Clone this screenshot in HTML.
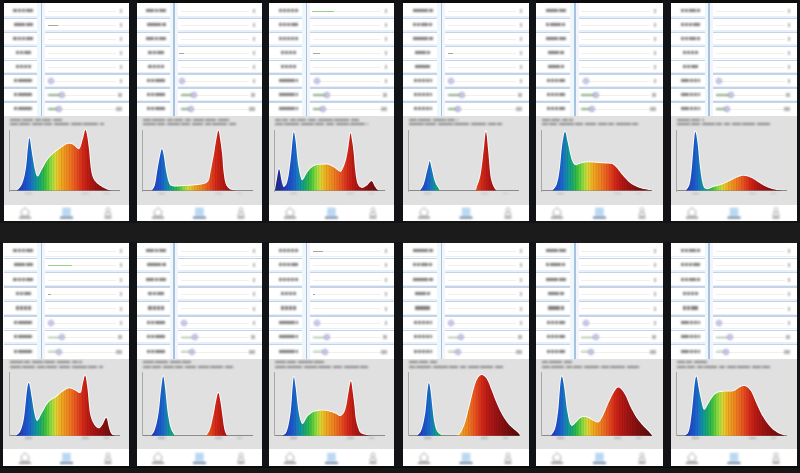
<!DOCTYPE html>
<html><head><meta charset="utf-8"><title>spectra</title>
<style>
html,body{margin:0;padding:0;}
body{width:800px;height:473px;overflow:hidden;background:#1b1b1b;position:relative;font-family:"Liberation Sans",sans-serif;}
div{position:absolute;}
svg{position:absolute;left:0;top:0;}
#wrap{left:0;top:0;width:800px;height:473px;}
.p{background:#fff;overflow:hidden;}
.lb{filter:blur(0.8px);}
</style></head><body><div id="wrap">

<div style="left:0.00px;top:0.00px;width:800.00px;height:3.00px;background:#0c0c0c;"></div>
<div style="left:0.00px;top:466.00px;width:800.00px;height:7.00px;background:#161616;"></div>
<div style="left:0.00px;top:466.00px;width:800.00px;height:1.50px;background:#0b0b0b;"></div>
<div style="left:0.00px;top:221.00px;width:800.00px;height:1.50px;background:#121212;"></div>
<div style="left:129.00px;top:0.00px;width:8.00px;height:221.00px;background:#111317;"></div>
<div style="left:129.00px;top:242.00px;width:8.00px;height:225.00px;background:#111317;"></div>
<div style="left:262.00px;top:0.00px;width:7.00px;height:221.00px;background:#111317;"></div>
<div style="left:262.00px;top:242.00px;width:7.00px;height:225.00px;background:#111317;"></div>
<div style="left:394.00px;top:0.00px;width:9.00px;height:221.00px;background:#111317;"></div>
<div style="left:394.00px;top:242.00px;width:9.00px;height:225.00px;background:#111317;"></div>
<div style="left:529.00px;top:0.00px;width:7.00px;height:221.00px;background:#111317;"></div>
<div style="left:529.00px;top:242.00px;width:7.00px;height:225.00px;background:#111317;"></div>
<div style="left:663.00px;top:0.00px;width:8.00px;height:221.00px;background:#111317;"></div>
<div style="left:663.00px;top:242.00px;width:8.00px;height:225.00px;background:#111317;"></div>
<div style="left:0.00px;top:0.00px;width:4.00px;height:221.00px;background:#111317;"></div>
<div style="left:0.00px;top:242.00px;width:3.00px;height:225.00px;background:#111317;"></div>
<div style="left:797.00px;top:0.00px;width:3.00px;height:221.00px;background:#111317;"></div>
<div style="left:797.00px;top:242.00px;width:3.00px;height:225.00px;background:#111317;"></div>
<div style="left:3.00px;top:242.50px;width:1.00px;height:116.00px;background:#ffffff;"></div>
<div style="left:3.00px;top:358.50px;width:1.00px;height:90.50px;background:#e0e0e0;"></div>
<div style="left:3.00px;top:449.00px;width:1.00px;height:17.00px;background:#ffffff;"></div>
<div class="p" style="left:4px;top:3.0px;width:125px;height:218.0px;">
<div class="lb"><div style="left:9.45px;top:6.18px;width:3.50px;height:3.20px;background:#7e7e7e;"></div><div style="left:13.55px;top:6.18px;width:3.50px;height:3.20px;background:#7e7e7e;"></div><div style="left:17.65px;top:6.18px;width:3.50px;height:3.20px;background:#7e7e7e;"></div><div style="left:21.75px;top:6.18px;width:3.00px;height:3.20px;background:#7e7e7e;"></div><div style="left:25.35px;top:6.18px;width:3.50px;height:3.20px;background:#7e7e7e;"></div></div>
<div style="left:43.80px;top:8.07px;width:68.70px;height:0.80px;background:#f3f0e8;"></div>
<div class="lb"><div style="left:116.00px;top:6.38px;width:2.00px;height:4.00px;background:#b4b4b4;"></div></div>
<div style="left:0.00px;top:13.05px;width:125.00px;height:1.60px;background:#e6f0fa;"></div>
<div style="left:0.00px;top:14.65px;width:125.00px;height:1.60px;background:#c4d4e6;"></div>
<div class="lb"><div style="left:9.70px;top:20.12px;width:3.00px;height:3.20px;background:#7e7e7e;"></div><div style="left:13.30px;top:20.12px;width:3.50px;height:3.20px;background:#7e7e7e;"></div><div style="left:17.40px;top:20.12px;width:3.50px;height:3.20px;background:#7e7e7e;"></div><div style="left:21.50px;top:20.12px;width:3.00px;height:3.20px;background:#7e7e7e;"></div><div style="left:25.10px;top:20.12px;width:3.50px;height:3.20px;background:#7e7e7e;"></div></div>
<div style="left:43.80px;top:22.02px;width:68.70px;height:0.80px;background:#f3f0e8;"></div>
<div class="lb"><div style="left:116.00px;top:20.32px;width:2.00px;height:4.00px;background:#b4b4b4;"></div></div>
<div style="left:0.00px;top:27.00px;width:125.00px;height:1.60px;background:#e6f0fa;"></div>
<div style="left:0.00px;top:28.60px;width:125.00px;height:1.60px;background:#c4d4e6;"></div>
<div class="lb"><div style="left:9.45px;top:34.07px;width:3.50px;height:3.20px;background:#7e7e7e;"></div><div style="left:13.55px;top:34.07px;width:3.50px;height:3.20px;background:#7e7e7e;"></div><div style="left:17.65px;top:34.07px;width:3.50px;height:3.20px;background:#7e7e7e;"></div><div style="left:21.75px;top:34.07px;width:3.00px;height:3.20px;background:#7e7e7e;"></div><div style="left:25.35px;top:34.07px;width:3.50px;height:3.20px;background:#7e7e7e;"></div></div>
<div style="left:43.80px;top:35.98px;width:68.70px;height:0.80px;background:#f3f0e8;"></div>
<div class="lb"><div style="left:116.00px;top:34.27px;width:2.00px;height:4.00px;background:#b4b4b4;"></div></div>
<div style="left:0.00px;top:40.95px;width:125.00px;height:1.60px;background:#e6f0fa;"></div>
<div style="left:0.00px;top:42.55px;width:125.00px;height:1.60px;background:#c4d4e6;"></div>
<div class="lb"><div style="left:11.50px;top:48.02px;width:3.50px;height:3.20px;background:#7e7e7e;"></div><div style="left:15.60px;top:48.02px;width:3.50px;height:3.20px;background:#7e7e7e;"></div><div style="left:19.70px;top:48.02px;width:3.00px;height:3.20px;background:#7e7e7e;"></div><div style="left:23.30px;top:48.02px;width:3.50px;height:3.20px;background:#7e7e7e;"></div></div>
<div style="left:43.80px;top:49.92px;width:68.70px;height:0.80px;background:#f3f0e8;"></div>
<div class="lb"><div style="left:116.00px;top:48.22px;width:2.00px;height:4.00px;background:#b4b4b4;"></div></div>
<div style="left:0.00px;top:54.90px;width:125.00px;height:1.60px;background:#e6f0fa;"></div>
<div style="left:0.00px;top:56.50px;width:125.00px;height:1.60px;background:#c4d4e6;"></div>
<div class="lb"><div style="left:11.50px;top:61.97px;width:3.50px;height:3.20px;background:#7e7e7e;"></div><div style="left:15.60px;top:61.97px;width:3.50px;height:3.20px;background:#7e7e7e;"></div><div style="left:19.70px;top:61.97px;width:3.50px;height:3.20px;background:#7e7e7e;"></div><div style="left:23.80px;top:61.97px;width:3.00px;height:3.20px;background:#7e7e7e;"></div></div>
<div style="left:43.80px;top:63.88px;width:68.70px;height:0.80px;background:#f3f0e8;"></div>
<div class="lb"><div style="left:116.00px;top:62.17px;width:2.00px;height:4.00px;background:#b4b4b4;"></div></div>
<div style="left:0.00px;top:68.85px;width:125.00px;height:1.60px;background:#e6f0fa;"></div>
<div style="left:0.00px;top:70.45px;width:125.00px;height:1.60px;background:#c4d4e6;"></div>
<div class="lb"><div style="left:9.95px;top:75.93px;width:3.50px;height:3.20px;background:#7e7e7e;"></div><div style="left:14.05px;top:75.93px;width:3.50px;height:3.20px;background:#7e7e7e;"></div><div style="left:18.15px;top:75.93px;width:3.50px;height:3.20px;background:#7e7e7e;"></div><div style="left:22.25px;top:75.93px;width:3.50px;height:3.20px;background:#7e7e7e;"></div><div style="left:26.35px;top:75.93px;width:2.00px;height:3.20px;background:#7e7e7e;"></div></div>
<div style="left:43.80px;top:77.83px;width:68.70px;height:0.80px;background:#f3f0e8;"></div>
<div class="lb"><div style="left:116.00px;top:76.12px;width:2.00px;height:4.00px;background:#b4b4b4;"></div></div>
<div style="left:0.00px;top:82.80px;width:125.00px;height:1.60px;background:#e6f0fa;"></div>
<div style="left:0.00px;top:84.40px;width:125.00px;height:1.60px;background:#c4d4e6;"></div>
<div class="lb"><div style="left:9.95px;top:89.88px;width:3.50px;height:3.20px;background:#7e7e7e;"></div><div style="left:14.05px;top:89.88px;width:3.50px;height:3.20px;background:#7e7e7e;"></div><div style="left:18.15px;top:89.88px;width:3.50px;height:3.20px;background:#7e7e7e;"></div><div style="left:22.25px;top:89.88px;width:3.50px;height:3.20px;background:#7e7e7e;"></div><div style="left:26.35px;top:89.88px;width:2.00px;height:3.20px;background:#7e7e7e;"></div></div>
<div style="left:43.80px;top:91.77px;width:68.70px;height:0.80px;background:#f3f0e8;"></div>
<div class="lb"><div style="left:114.00px;top:90.07px;width:4.00px;height:4.00px;background:#b4b4b4;"></div></div>
<div style="left:0.00px;top:96.75px;width:125.00px;height:1.60px;background:#e6f0fa;"></div>
<div style="left:0.00px;top:98.35px;width:125.00px;height:1.60px;background:#c4d4e6;"></div>
<div class="lb"><div style="left:9.95px;top:103.83px;width:3.50px;height:3.20px;background:#7e7e7e;"></div><div style="left:14.05px;top:103.83px;width:3.50px;height:3.20px;background:#7e7e7e;"></div><div style="left:18.15px;top:103.83px;width:3.50px;height:3.20px;background:#7e7e7e;"></div><div style="left:22.25px;top:103.83px;width:3.50px;height:3.20px;background:#7e7e7e;"></div><div style="left:26.35px;top:103.83px;width:2.00px;height:3.20px;background:#7e7e7e;"></div></div>
<div style="left:43.80px;top:105.72px;width:68.70px;height:0.80px;background:#f3f0e8;"></div>
<div class="lb"><div style="left:112.00px;top:104.02px;width:6.00px;height:4.00px;background:#b4b4b4;"></div></div>
<div style="left:44.00px;top:21.82px;width:10.00px;height:1.20px;background:#aca494;"></div>
<div class="lb"><div style="left:43.5px;top:75.0px;width:4.2px;height:4.2px;border-radius:50%;background:#d6d4f2;border:1px solid #9696cc;"></div></div>
<div class="lb"><div style="left:43.80px;top:91.47px;width:14.20px;height:1.30px;background:#8aac86;"></div></div>
<div class="lb"><div style="left:54.9px;top:89.0px;width:4.2px;height:4.2px;border-radius:50%;background:#d2d2ea;border:1px solid #9696cc;"></div></div>
<div class="lb"><div style="left:43.80px;top:105.42px;width:11.20px;height:1.30px;background:#8aac86;"></div></div>
<div class="lb"><div style="left:51.9px;top:102.9px;width:4.2px;height:4.2px;border-radius:50%;background:#d0d0e6;border:1px solid #9696cc;"></div></div>
<div style="left:32.80px;top:0.00px;width:3.75px;height:112.60px;background:#eef8fc;"></div>
<div style="left:38.05px;top:0.00px;width:3.00px;height:112.60px;background:#f4f4fc;"></div>
<div style="left:36.55px;top:0.00px;width:1.50px;height:112.60px;background:#a8c2dc;"></div>
<div style="left:0.00px;top:112.60px;width:125.00px;height:89.00px;background:#e0e0e0;"></div>
<div class="lb"><div style="left:5.50px;top:115.80px;width:11.00px;height:2.40px;background:#888888;"></div><div style="left:18.10px;top:115.80px;width:11.00px;height:2.40px;background:#888888;"></div><div style="left:30.70px;top:115.80px;width:6.00px;height:2.40px;background:#888888;"></div><div style="left:38.30px;top:115.80px;width:9.00px;height:2.40px;background:#888888;"></div><div style="left:48.90px;top:115.80px;width:9.10px;height:2.40px;background:#888888;"></div><div style="left:5.50px;top:119.60px;width:8.00px;height:2.40px;background:#888888;"></div><div style="left:15.10px;top:119.60px;width:11.00px;height:2.40px;background:#888888;"></div><div style="left:27.70px;top:119.60px;width:11.00px;height:2.40px;background:#888888;"></div><div style="left:40.30px;top:119.60px;width:8.00px;height:2.40px;background:#888888;"></div><div style="left:49.90px;top:119.60px;width:15.00px;height:2.40px;background:#888888;"></div><div style="left:66.50px;top:119.60px;width:11.00px;height:2.40px;background:#888888;"></div><div style="left:79.10px;top:119.60px;width:15.00px;height:2.40px;background:#888888;"></div><div style="left:95.70px;top:119.60px;width:4.00px;height:2.40px;background:#888888;"></div></div>
<div class="lb"><div style="left:21.00px;top:189.60px;width:7.00px;height:1.80px;background:#b0b0b0;"></div><div style="left:78.00px;top:189.60px;width:7.00px;height:1.80px;background:#b8b8b8;"></div><div style="left:100.00px;top:189.60px;width:5.00px;height:1.80px;background:#c0c0c0;"></div></div>
<div style="left:4.50px;top:187.60px;width:1.50px;height:0.60px;background:#b0b0b0;"></div>
<div style="left:4.50px;top:177.10px;width:1.50px;height:0.60px;background:#b0b0b0;"></div>
<div style="left:4.50px;top:166.60px;width:1.50px;height:0.60px;background:#b0b0b0;"></div>
<div style="left:4.50px;top:156.10px;width:1.50px;height:0.60px;background:#b0b0b0;"></div>
<div style="left:4.50px;top:145.60px;width:1.50px;height:0.60px;background:#b0b0b0;"></div>
<div style="left:4.50px;top:135.10px;width:1.50px;height:0.60px;background:#b0b0b0;"></div>
<div style="left:5.40px;top:127.00px;width:0.90px;height:60.60px;background:#a8a8a8;"></div>
<div style="left:6.00px;top:187.40px;width:110.00px;height:0.90px;background:#8a8a8a;"></div>
<svg width="125" height="218" viewBox="0 0 125 218"><defs><linearGradient id="g00" gradientUnits="userSpaceOnUse" x1="6" y1="0" x2="116" y2="0"><stop offset="0.0000" stop-color="#1e2a80"/><stop offset="0.0636" stop-color="#2234a8"/><stop offset="0.1091" stop-color="#2244c0"/><stop offset="0.1500" stop-color="#1c56cc"/><stop offset="0.1782" stop-color="#1a66cc"/><stop offset="0.2068" stop-color="#1a7ebc"/><stop offset="0.2409" stop-color="#0f9a98"/><stop offset="0.2727" stop-color="#1aa874"/><stop offset="0.3182" stop-color="#38c040"/><stop offset="0.3636" stop-color="#80d840"/><stop offset="0.3909" stop-color="#b0e040"/><stop offset="0.4227" stop-color="#e8d030"/><stop offset="0.4682" stop-color="#f0a820"/><stop offset="0.5364" stop-color="#f08020"/><stop offset="0.6045" stop-color="#e85020"/><stop offset="0.6636" stop-color="#d42818"/><stop offset="0.7182" stop-color="#b81a14"/><stop offset="0.7818" stop-color="#a01414"/><stop offset="0.8545" stop-color="#861010"/><stop offset="0.9273" stop-color="#6e0e0e"/><stop offset="1.0000" stop-color="#560a0a"/></linearGradient><clipPath id="cg00"><rect x="0" y="0" width="125" height="186.60"/></clipPath><pattern id="stg00" width="2.6" height="20" patternUnits="userSpaceOnUse"><rect x="0" y="0" width="0.9" height="20" fill="#000" fill-opacity="0.10"/></pattern></defs><path d="M12.90 187.60 L12.90 187.60 L13.48 186.96 L14.30 186.16 L15.27 185.17 L16.29 183.98 L17.26 182.56 L18.10 180.90 L18.82 178.99 L19.50 176.84 L20.14 174.47 L20.73 171.88 L21.29 169.09 L21.80 166.10 L22.26 162.67 L22.67 158.76 L23.04 154.63 L23.37 150.59 L23.69 146.92 L24.00 143.90 L24.28 141.39 L24.53 139.13 L24.75 137.23 L24.97 135.83 L25.22 135.04 L25.50 135.00 L25.82 135.88 L26.15 137.62 L26.51 139.98 L26.88 142.71 L27.28 145.57 L27.70 148.30 L28.15 151.13 L28.64 154.29 L29.16 157.57 L29.68 160.77 L30.20 163.68 L30.70 166.10 L31.17 168.11 L31.61 169.89 L32.06 171.38 L32.52 172.51 L33.03 173.24 L33.60 173.50 L34.25 173.14 L34.96 172.19 L35.71 170.82 L36.50 169.23 L37.30 167.59 L38.10 166.10 L38.91 164.67 L39.75 163.13 L40.61 161.56 L41.47 160.00 L42.34 158.53 L43.20 157.20 L44.04 156.03 L44.87 154.99 L45.70 154.02 L46.55 153.10 L47.45 152.21 L48.40 151.30 L49.41 150.39 L50.47 149.51 L51.57 148.65 L52.71 147.80 L53.88 146.95 L55.10 146.10 L56.39 145.18 L57.78 144.18 L59.20 143.18 L60.61 142.27 L61.96 141.51 L63.20 141.00 L64.31 140.74 L65.33 140.67 L66.28 140.76 L67.21 140.98 L68.14 141.30 L69.10 141.70 L70.12 142.39 L71.18 143.43 L72.24 144.57 L73.27 145.56 L74.23 146.16 L75.10 146.10 L75.86 145.26 L76.53 143.80 L77.14 141.94 L77.71 139.89 L78.26 137.88 L78.80 136.10 L79.33 134.24 L79.82 132.07 L80.29 129.92 L80.76 128.15 L81.22 127.10 L81.70 127.10 L82.20 128.34 L82.72 130.59 L83.24 133.55 L83.76 136.94 L84.25 140.49 L84.70 143.90 L85.10 147.42 L85.46 151.34 L85.80 155.40 L86.14 159.37 L86.50 163.02 L86.90 166.10 L87.32 168.57 L87.73 170.61 L88.17 172.32 L88.66 173.80 L89.22 175.16 L89.90 176.50 L90.68 177.76 L91.54 178.85 L92.48 179.82 L93.50 180.70 L94.61 181.55 L95.80 182.40 L97.11 183.28 L98.54 184.14 L100.06 184.97 L101.62 185.73 L103.18 186.39 L104.70 186.90 L106.29 187.24 L108.00 187.44 L109.71 187.53 L111.29 187.56 L112.63 187.57 L113.60 187.60 L113.60 187.60 Z" fill="none" stroke="#ffffff" stroke-opacity="0.95" stroke-width="1.80" clip-path="url(#cg00)"/><path d="M12.90 187.60 L12.90 187.60 L13.48 186.96 L14.30 186.16 L15.27 185.17 L16.29 183.98 L17.26 182.56 L18.10 180.90 L18.82 178.99 L19.50 176.84 L20.14 174.47 L20.73 171.88 L21.29 169.09 L21.80 166.10 L22.26 162.67 L22.67 158.76 L23.04 154.63 L23.37 150.59 L23.69 146.92 L24.00 143.90 L24.28 141.39 L24.53 139.13 L24.75 137.23 L24.97 135.83 L25.22 135.04 L25.50 135.00 L25.82 135.88 L26.15 137.62 L26.51 139.98 L26.88 142.71 L27.28 145.57 L27.70 148.30 L28.15 151.13 L28.64 154.29 L29.16 157.57 L29.68 160.77 L30.20 163.68 L30.70 166.10 L31.17 168.11 L31.61 169.89 L32.06 171.38 L32.52 172.51 L33.03 173.24 L33.60 173.50 L34.25 173.14 L34.96 172.19 L35.71 170.82 L36.50 169.23 L37.30 167.59 L38.10 166.10 L38.91 164.67 L39.75 163.13 L40.61 161.56 L41.47 160.00 L42.34 158.53 L43.20 157.20 L44.04 156.03 L44.87 154.99 L45.70 154.02 L46.55 153.10 L47.45 152.21 L48.40 151.30 L49.41 150.39 L50.47 149.51 L51.57 148.65 L52.71 147.80 L53.88 146.95 L55.10 146.10 L56.39 145.18 L57.78 144.18 L59.20 143.18 L60.61 142.27 L61.96 141.51 L63.20 141.00 L64.31 140.74 L65.33 140.67 L66.28 140.76 L67.21 140.98 L68.14 141.30 L69.10 141.70 L70.12 142.39 L71.18 143.43 L72.24 144.57 L73.27 145.56 L74.23 146.16 L75.10 146.10 L75.86 145.26 L76.53 143.80 L77.14 141.94 L77.71 139.89 L78.26 137.88 L78.80 136.10 L79.33 134.24 L79.82 132.07 L80.29 129.92 L80.76 128.15 L81.22 127.10 L81.70 127.10 L82.20 128.34 L82.72 130.59 L83.24 133.55 L83.76 136.94 L84.25 140.49 L84.70 143.90 L85.10 147.42 L85.46 151.34 L85.80 155.40 L86.14 159.37 L86.50 163.02 L86.90 166.10 L87.32 168.57 L87.73 170.61 L88.17 172.32 L88.66 173.80 L89.22 175.16 L89.90 176.50 L90.68 177.76 L91.54 178.85 L92.48 179.82 L93.50 180.70 L94.61 181.55 L95.80 182.40 L97.11 183.28 L98.54 184.14 L100.06 184.97 L101.62 185.73 L103.18 186.39 L104.70 186.90 L106.29 187.24 L108.00 187.44 L109.71 187.53 L111.29 187.56 L112.63 187.57 L113.60 187.60 L113.60 187.60 Z" fill="url(#g00)"/><path d="M12.90 187.60 L12.90 187.60 L13.48 186.96 L14.30 186.16 L15.27 185.17 L16.29 183.98 L17.26 182.56 L18.10 180.90 L18.82 178.99 L19.50 176.84 L20.14 174.47 L20.73 171.88 L21.29 169.09 L21.80 166.10 L22.26 162.67 L22.67 158.76 L23.04 154.63 L23.37 150.59 L23.69 146.92 L24.00 143.90 L24.28 141.39 L24.53 139.13 L24.75 137.23 L24.97 135.83 L25.22 135.04 L25.50 135.00 L25.82 135.88 L26.15 137.62 L26.51 139.98 L26.88 142.71 L27.28 145.57 L27.70 148.30 L28.15 151.13 L28.64 154.29 L29.16 157.57 L29.68 160.77 L30.20 163.68 L30.70 166.10 L31.17 168.11 L31.61 169.89 L32.06 171.38 L32.52 172.51 L33.03 173.24 L33.60 173.50 L34.25 173.14 L34.96 172.19 L35.71 170.82 L36.50 169.23 L37.30 167.59 L38.10 166.10 L38.91 164.67 L39.75 163.13 L40.61 161.56 L41.47 160.00 L42.34 158.53 L43.20 157.20 L44.04 156.03 L44.87 154.99 L45.70 154.02 L46.55 153.10 L47.45 152.21 L48.40 151.30 L49.41 150.39 L50.47 149.51 L51.57 148.65 L52.71 147.80 L53.88 146.95 L55.10 146.10 L56.39 145.18 L57.78 144.18 L59.20 143.18 L60.61 142.27 L61.96 141.51 L63.20 141.00 L64.31 140.74 L65.33 140.67 L66.28 140.76 L67.21 140.98 L68.14 141.30 L69.10 141.70 L70.12 142.39 L71.18 143.43 L72.24 144.57 L73.27 145.56 L74.23 146.16 L75.10 146.10 L75.86 145.26 L76.53 143.80 L77.14 141.94 L77.71 139.89 L78.26 137.88 L78.80 136.10 L79.33 134.24 L79.82 132.07 L80.29 129.92 L80.76 128.15 L81.22 127.10 L81.70 127.10 L82.20 128.34 L82.72 130.59 L83.24 133.55 L83.76 136.94 L84.25 140.49 L84.70 143.90 L85.10 147.42 L85.46 151.34 L85.80 155.40 L86.14 159.37 L86.50 163.02 L86.90 166.10 L87.32 168.57 L87.73 170.61 L88.17 172.32 L88.66 173.80 L89.22 175.16 L89.90 176.50 L90.68 177.76 L91.54 178.85 L92.48 179.82 L93.50 180.70 L94.61 181.55 L95.80 182.40 L97.11 183.28 L98.54 184.14 L100.06 184.97 L101.62 185.73 L103.18 186.39 L104.70 186.90 L106.29 187.24 L108.00 187.44 L109.71 187.53 L111.29 187.56 L112.63 187.57 L113.60 187.60 L113.60 187.60 Z" fill="url(#stg00)"/></svg>
<div class="lb" style="left:0;top:0;width:125px;height:218px"><svg width="125" height="218" viewBox="0 0 125 218"><path d="M17.0 208.3 L21.0 204.6 L25.0 208.3 L24.2 212.8 L17.8 212.8 Z" fill="none" stroke="#a4a4a4" stroke-width="1"/><rect x="15.0" y="213.7" width="12" height="1.8" fill="#8e8e8e"/><rect x="58.2" y="204.8" width="8.5" height="8" fill="#d2e6f8"/><rect x="58.2" y="205.3" width="8.5" height="1" fill="#8cbce6"/><rect x="58.2" y="208.3" width="8.5" height="1" fill="#8cbce6"/><rect x="58.2" y="211.3" width="8.5" height="1" fill="#8cbce6"/><rect x="56.0" y="213.7" width="13" height="1.8" fill="#5a7496"/><circle cx="104.0" cy="206.8" r="2" fill="none" stroke="#b0b0b0" stroke-width="1"/><path d="M101.0 212.8 L101.5 209.8 L106.5 209.8 L107.0 212.8 Z" fill="none" stroke="#b0b0b0" stroke-width="1"/><rect x="100.5" y="213.7" width="7" height="1.8" fill="#9a9a9a"/></svg></div>
</div>
<div class="p" style="left:137px;top:3.0px;width:125px;height:218.0px;">
<div class="lb"><div style="left:9.35px;top:6.18px;width:3.50px;height:3.20px;background:#7e7e7e;"></div><div style="left:13.45px;top:6.18px;width:3.50px;height:3.20px;background:#7e7e7e;"></div><div style="left:17.55px;top:6.18px;width:3.50px;height:3.20px;background:#7e7e7e;"></div><div style="left:21.65px;top:6.18px;width:3.00px;height:3.20px;background:#7e7e7e;"></div><div style="left:25.25px;top:6.18px;width:3.50px;height:3.20px;background:#7e7e7e;"></div></div>
<div style="left:43.60px;top:8.07px;width:68.90px;height:0.80px;background:#f3f0e8;"></div>
<div class="lb"><div style="left:116.00px;top:6.38px;width:2.00px;height:4.00px;background:#b4b4b4;"></div></div>
<div style="left:0.00px;top:13.05px;width:125.00px;height:1.60px;background:#e6f0fa;"></div>
<div style="left:0.00px;top:14.65px;width:125.00px;height:1.60px;background:#c4d4e6;"></div>
<div class="lb"><div style="left:9.60px;top:20.12px;width:3.00px;height:3.20px;background:#7e7e7e;"></div><div style="left:13.20px;top:20.12px;width:3.50px;height:3.20px;background:#7e7e7e;"></div><div style="left:17.30px;top:20.12px;width:3.50px;height:3.20px;background:#7e7e7e;"></div><div style="left:21.40px;top:20.12px;width:3.00px;height:3.20px;background:#7e7e7e;"></div><div style="left:25.00px;top:20.12px;width:3.50px;height:3.20px;background:#7e7e7e;"></div></div>
<div style="left:43.60px;top:22.02px;width:68.90px;height:0.80px;background:#f3f0e8;"></div>
<div class="lb"><div style="left:116.00px;top:20.32px;width:2.00px;height:4.00px;background:#b4b4b4;"></div></div>
<div style="left:0.00px;top:27.00px;width:125.00px;height:1.60px;background:#e6f0fa;"></div>
<div style="left:0.00px;top:28.60px;width:125.00px;height:1.60px;background:#c4d4e6;"></div>
<div class="lb"><div style="left:9.35px;top:34.07px;width:3.50px;height:3.20px;background:#7e7e7e;"></div><div style="left:13.45px;top:34.07px;width:3.50px;height:3.20px;background:#7e7e7e;"></div><div style="left:17.55px;top:34.07px;width:3.50px;height:3.20px;background:#7e7e7e;"></div><div style="left:21.65px;top:34.07px;width:3.00px;height:3.20px;background:#7e7e7e;"></div><div style="left:25.25px;top:34.07px;width:3.50px;height:3.20px;background:#7e7e7e;"></div></div>
<div style="left:43.60px;top:35.98px;width:68.90px;height:0.80px;background:#f3f0e8;"></div>
<div class="lb"><div style="left:116.00px;top:34.27px;width:2.00px;height:4.00px;background:#b4b4b4;"></div></div>
<div style="left:0.00px;top:40.95px;width:125.00px;height:1.60px;background:#e6f0fa;"></div>
<div style="left:0.00px;top:42.55px;width:125.00px;height:1.60px;background:#c4d4e6;"></div>
<div class="lb"><div style="left:11.40px;top:48.02px;width:3.50px;height:3.20px;background:#7e7e7e;"></div><div style="left:15.50px;top:48.02px;width:3.50px;height:3.20px;background:#7e7e7e;"></div><div style="left:19.60px;top:48.02px;width:3.00px;height:3.20px;background:#7e7e7e;"></div><div style="left:23.20px;top:48.02px;width:3.50px;height:3.20px;background:#7e7e7e;"></div></div>
<div style="left:43.60px;top:49.92px;width:68.90px;height:0.80px;background:#f3f0e8;"></div>
<div class="lb"><div style="left:116.00px;top:48.22px;width:2.00px;height:4.00px;background:#b4b4b4;"></div></div>
<div style="left:0.00px;top:54.90px;width:125.00px;height:1.60px;background:#e6f0fa;"></div>
<div style="left:0.00px;top:56.50px;width:125.00px;height:1.60px;background:#c4d4e6;"></div>
<div class="lb"><div style="left:11.40px;top:61.97px;width:3.50px;height:3.20px;background:#7e7e7e;"></div><div style="left:15.50px;top:61.97px;width:3.50px;height:3.20px;background:#7e7e7e;"></div><div style="left:19.60px;top:61.97px;width:3.50px;height:3.20px;background:#7e7e7e;"></div><div style="left:23.70px;top:61.97px;width:3.00px;height:3.20px;background:#7e7e7e;"></div></div>
<div style="left:43.60px;top:63.88px;width:68.90px;height:0.80px;background:#f3f0e8;"></div>
<div class="lb"><div style="left:116.00px;top:62.17px;width:2.00px;height:4.00px;background:#b4b4b4;"></div></div>
<div style="left:0.00px;top:68.85px;width:125.00px;height:1.60px;background:#e6f0fa;"></div>
<div style="left:0.00px;top:70.45px;width:125.00px;height:1.60px;background:#c4d4e6;"></div>
<div class="lb"><div style="left:9.85px;top:75.93px;width:3.50px;height:3.20px;background:#7e7e7e;"></div><div style="left:13.95px;top:75.93px;width:3.50px;height:3.20px;background:#7e7e7e;"></div><div style="left:18.05px;top:75.93px;width:3.50px;height:3.20px;background:#7e7e7e;"></div><div style="left:22.15px;top:75.93px;width:3.50px;height:3.20px;background:#7e7e7e;"></div><div style="left:26.25px;top:75.93px;width:2.00px;height:3.20px;background:#7e7e7e;"></div></div>
<div style="left:43.60px;top:77.83px;width:68.90px;height:0.80px;background:#f3f0e8;"></div>
<div class="lb"><div style="left:116.00px;top:76.12px;width:2.00px;height:4.00px;background:#b4b4b4;"></div></div>
<div style="left:0.00px;top:82.80px;width:125.00px;height:1.60px;background:#e6f0fa;"></div>
<div style="left:0.00px;top:84.40px;width:125.00px;height:1.60px;background:#c4d4e6;"></div>
<div class="lb"><div style="left:9.85px;top:89.88px;width:3.50px;height:3.20px;background:#7e7e7e;"></div><div style="left:13.95px;top:89.88px;width:3.50px;height:3.20px;background:#7e7e7e;"></div><div style="left:18.05px;top:89.88px;width:3.50px;height:3.20px;background:#7e7e7e;"></div><div style="left:22.15px;top:89.88px;width:3.50px;height:3.20px;background:#7e7e7e;"></div><div style="left:26.25px;top:89.88px;width:2.00px;height:3.20px;background:#7e7e7e;"></div></div>
<div style="left:43.60px;top:91.77px;width:68.90px;height:0.80px;background:#f3f0e8;"></div>
<div class="lb"><div style="left:114.00px;top:90.07px;width:4.00px;height:4.00px;background:#b4b4b4;"></div></div>
<div style="left:0.00px;top:96.75px;width:125.00px;height:1.60px;background:#e6f0fa;"></div>
<div style="left:0.00px;top:98.35px;width:125.00px;height:1.60px;background:#c4d4e6;"></div>
<div class="lb"><div style="left:9.85px;top:103.83px;width:3.50px;height:3.20px;background:#7e7e7e;"></div><div style="left:13.95px;top:103.83px;width:3.50px;height:3.20px;background:#7e7e7e;"></div><div style="left:18.05px;top:103.83px;width:3.50px;height:3.20px;background:#7e7e7e;"></div><div style="left:22.15px;top:103.83px;width:3.50px;height:3.20px;background:#7e7e7e;"></div><div style="left:26.25px;top:103.83px;width:2.00px;height:3.20px;background:#7e7e7e;"></div></div>
<div style="left:43.60px;top:105.72px;width:68.90px;height:0.80px;background:#f3f0e8;"></div>
<div class="lb"><div style="left:112.00px;top:104.02px;width:6.00px;height:4.00px;background:#b4b4b4;"></div></div>
<div style="left:42.00px;top:49.72px;width:5.00px;height:1.20px;background:#aca494;"></div>
<div class="lb"><div style="left:41.9px;top:75.0px;width:4.2px;height:4.2px;border-radius:50%;background:#d6d4f2;border:1px solid #9696cc;"></div></div>
<div class="lb"><div style="left:43.60px;top:91.47px;width:13.40px;height:1.30px;background:#8aac86;"></div></div>
<div class="lb"><div style="left:53.9px;top:89.0px;width:4.2px;height:4.2px;border-radius:50%;background:#d2d2ea;border:1px solid #9696cc;"></div></div>
<div class="lb"><div style="left:43.60px;top:105.42px;width:10.40px;height:1.30px;background:#8aac86;"></div></div>
<div class="lb"><div style="left:50.9px;top:102.9px;width:4.2px;height:4.2px;border-radius:50%;background:#d0d0e6;border:1px solid #9696cc;"></div></div>
<div style="left:32.60px;top:0.00px;width:3.75px;height:112.60px;background:#eef8fc;"></div>
<div style="left:37.85px;top:0.00px;width:3.00px;height:112.60px;background:#f4f4fc;"></div>
<div style="left:36.35px;top:0.00px;width:1.50px;height:112.60px;background:#a8c2dc;"></div>
<div style="left:0.00px;top:112.60px;width:125.00px;height:89.00px;background:#e0e0e0;"></div>
<div class="lb"><div style="left:5.50px;top:115.80px;width:8.00px;height:2.40px;background:#888888;"></div><div style="left:15.10px;top:115.80px;width:13.00px;height:2.40px;background:#888888;"></div><div style="left:29.70px;top:115.80px;width:6.00px;height:2.40px;background:#888888;"></div><div style="left:37.30px;top:115.80px;width:9.00px;height:2.40px;background:#888888;"></div><div style="left:47.90px;top:115.80px;width:6.00px;height:2.40px;background:#888888;"></div><div style="left:55.50px;top:115.80px;width:11.00px;height:2.40px;background:#888888;"></div><div style="left:68.10px;top:115.80px;width:11.00px;height:2.40px;background:#888888;"></div><div style="left:80.70px;top:115.80px;width:11.00px;height:2.40px;background:#888888;"></div><div style="left:5.50px;top:119.60px;width:13.00px;height:2.40px;background:#888888;"></div><div style="left:20.10px;top:119.60px;width:8.00px;height:2.40px;background:#888888;"></div><div style="left:29.70px;top:119.60px;width:13.00px;height:2.40px;background:#888888;"></div><div style="left:44.30px;top:119.60px;width:9.00px;height:2.40px;background:#888888;"></div><div style="left:54.90px;top:119.60px;width:11.00px;height:2.40px;background:#888888;"></div><div style="left:67.50px;top:119.60px;width:6.00px;height:2.40px;background:#888888;"></div><div style="left:75.10px;top:119.60px;width:15.00px;height:2.40px;background:#888888;"></div><div style="left:91.70px;top:119.60px;width:7.30px;height:2.40px;background:#888888;"></div></div>
<div class="lb"><div style="left:21.00px;top:189.60px;width:7.00px;height:1.80px;background:#b0b0b0;"></div><div style="left:78.00px;top:189.60px;width:7.00px;height:1.80px;background:#b8b8b8;"></div><div style="left:100.00px;top:189.60px;width:5.00px;height:1.80px;background:#c0c0c0;"></div></div>
<div style="left:4.50px;top:187.60px;width:1.50px;height:0.60px;background:#b0b0b0;"></div>
<div style="left:4.50px;top:177.10px;width:1.50px;height:0.60px;background:#b0b0b0;"></div>
<div style="left:4.50px;top:166.60px;width:1.50px;height:0.60px;background:#b0b0b0;"></div>
<div style="left:4.50px;top:156.10px;width:1.50px;height:0.60px;background:#b0b0b0;"></div>
<div style="left:4.50px;top:145.60px;width:1.50px;height:0.60px;background:#b0b0b0;"></div>
<div style="left:4.50px;top:135.10px;width:1.50px;height:0.60px;background:#b0b0b0;"></div>
<div style="left:5.40px;top:127.00px;width:0.90px;height:60.60px;background:#a8a8a8;"></div>
<div style="left:6.00px;top:187.40px;width:110.00px;height:0.90px;background:#8a8a8a;"></div>
<svg width="125" height="218" viewBox="0 0 125 218"><defs><linearGradient id="g01" gradientUnits="userSpaceOnUse" x1="6" y1="0" x2="116" y2="0"><stop offset="0.0000" stop-color="#1e2a80"/><stop offset="0.0636" stop-color="#2234a8"/><stop offset="0.1091" stop-color="#2244c0"/><stop offset="0.1500" stop-color="#1c56cc"/><stop offset="0.1782" stop-color="#1a66cc"/><stop offset="0.2068" stop-color="#1a7ebc"/><stop offset="0.2409" stop-color="#0f9a98"/><stop offset="0.2727" stop-color="#1aa874"/><stop offset="0.3182" stop-color="#38c040"/><stop offset="0.3636" stop-color="#80d840"/><stop offset="0.3909" stop-color="#b0e040"/><stop offset="0.4227" stop-color="#e8d030"/><stop offset="0.4682" stop-color="#f0a820"/><stop offset="0.5364" stop-color="#f08020"/><stop offset="0.6045" stop-color="#e85020"/><stop offset="0.6636" stop-color="#d42818"/><stop offset="0.7182" stop-color="#b81a14"/><stop offset="0.7818" stop-color="#a01414"/><stop offset="0.8545" stop-color="#861010"/><stop offset="0.9273" stop-color="#6e0e0e"/><stop offset="1.0000" stop-color="#560a0a"/></linearGradient><clipPath id="cg01"><rect x="0" y="0" width="125" height="186.60"/></clipPath><pattern id="stg01" width="2.6" height="20" patternUnits="userSpaceOnUse"><rect x="0" y="0" width="0.9" height="20" fill="#000" fill-opacity="0.10"/></pattern></defs><path d="M14.90 187.60 L14.90 187.60 L15.25 187.05 L15.73 186.37 L16.31 185.53 L16.91 184.49 L17.49 183.22 L18.00 181.70 L18.42 179.86 L18.80 177.70 L19.16 175.31 L19.52 172.79 L19.89 170.23 L20.30 167.70 L20.76 165.07 L21.26 162.23 L21.78 159.34 L22.29 156.57 L22.77 154.07 L23.20 152.00 L23.56 150.29 L23.88 148.81 L24.16 147.60 L24.43 146.71 L24.71 146.19 L25.00 146.10 L25.31 146.50 L25.62 147.36 L25.93 148.60 L26.25 150.11 L26.57 151.81 L26.90 153.60 L27.23 155.59 L27.55 157.87 L27.88 160.34 L28.22 162.87 L28.59 165.37 L29.00 167.70 L29.45 169.98 L29.93 172.33 L30.44 174.64 L30.97 176.79 L31.53 178.68 L32.10 180.20 L32.62 181.30 L33.08 182.06 L33.56 182.55 L34.14 182.87 L34.93 183.09 L36.00 183.30 L37.37 183.46 L38.97 183.49 L40.77 183.42 L42.73 183.30 L44.82 183.15 L47.00 183.00 L49.44 182.84 L52.20 182.65 L55.09 182.42 L57.91 182.19 L60.48 181.94 L62.60 181.70 L64.24 181.49 L65.54 181.29 L66.59 181.09 L67.46 180.86 L68.24 180.57 L69.00 180.20 L69.71 179.78 L70.30 179.35 L70.79 178.86 L71.21 178.27 L71.61 177.53 L72.00 176.60 L72.36 175.50 L72.64 174.28 L72.90 172.91 L73.16 171.37 L73.44 169.64 L73.80 167.70 L74.23 165.48 L74.72 163.00 L75.24 160.32 L75.78 157.54 L76.30 154.74 L76.80 152.00 L77.28 149.21 L77.75 146.27 L78.21 143.32 L78.66 140.47 L79.09 137.86 L79.50 135.60 L79.88 133.57 L80.23 131.64 L80.56 129.95 L80.87 128.62 L81.19 127.79 L81.50 127.60 L81.81 128.17 L82.11 129.44 L82.41 131.20 L82.70 133.27 L83.00 135.47 L83.30 137.60 L83.62 139.73 L83.95 142.03 L84.29 144.44 L84.61 146.94 L84.92 149.47 L85.20 152.00 L85.43 154.58 L85.62 157.26 L85.79 159.97 L85.96 162.66 L86.16 165.25 L86.40 167.70 L86.68 170.05 L86.98 172.37 L87.31 174.59 L87.66 176.68 L88.06 178.56 L88.50 180.20 L89.00 181.56 L89.54 182.67 L90.13 183.59 L90.74 184.35 L91.37 185.01 L92.00 185.60 L92.63 186.09 L93.27 186.43 L93.92 186.66 L94.60 186.82 L95.29 186.95 L96.00 187.10 L96.80 187.25 L97.69 187.36 L98.60 187.44 L99.46 187.51 L100.18 187.56 L100.70 187.60 L100.70 187.60 Z" fill="none" stroke="#ffffff" stroke-opacity="0.95" stroke-width="1.80" clip-path="url(#cg01)"/><path d="M14.90 187.60 L14.90 187.60 L15.25 187.05 L15.73 186.37 L16.31 185.53 L16.91 184.49 L17.49 183.22 L18.00 181.70 L18.42 179.86 L18.80 177.70 L19.16 175.31 L19.52 172.79 L19.89 170.23 L20.30 167.70 L20.76 165.07 L21.26 162.23 L21.78 159.34 L22.29 156.57 L22.77 154.07 L23.20 152.00 L23.56 150.29 L23.88 148.81 L24.16 147.60 L24.43 146.71 L24.71 146.19 L25.00 146.10 L25.31 146.50 L25.62 147.36 L25.93 148.60 L26.25 150.11 L26.57 151.81 L26.90 153.60 L27.23 155.59 L27.55 157.87 L27.88 160.34 L28.22 162.87 L28.59 165.37 L29.00 167.70 L29.45 169.98 L29.93 172.33 L30.44 174.64 L30.97 176.79 L31.53 178.68 L32.10 180.20 L32.62 181.30 L33.08 182.06 L33.56 182.55 L34.14 182.87 L34.93 183.09 L36.00 183.30 L37.37 183.46 L38.97 183.49 L40.77 183.42 L42.73 183.30 L44.82 183.15 L47.00 183.00 L49.44 182.84 L52.20 182.65 L55.09 182.42 L57.91 182.19 L60.48 181.94 L62.60 181.70 L64.24 181.49 L65.54 181.29 L66.59 181.09 L67.46 180.86 L68.24 180.57 L69.00 180.20 L69.71 179.78 L70.30 179.35 L70.79 178.86 L71.21 178.27 L71.61 177.53 L72.00 176.60 L72.36 175.50 L72.64 174.28 L72.90 172.91 L73.16 171.37 L73.44 169.64 L73.80 167.70 L74.23 165.48 L74.72 163.00 L75.24 160.32 L75.78 157.54 L76.30 154.74 L76.80 152.00 L77.28 149.21 L77.75 146.27 L78.21 143.32 L78.66 140.47 L79.09 137.86 L79.50 135.60 L79.88 133.57 L80.23 131.64 L80.56 129.95 L80.87 128.62 L81.19 127.79 L81.50 127.60 L81.81 128.17 L82.11 129.44 L82.41 131.20 L82.70 133.27 L83.00 135.47 L83.30 137.60 L83.62 139.73 L83.95 142.03 L84.29 144.44 L84.61 146.94 L84.92 149.47 L85.20 152.00 L85.43 154.58 L85.62 157.26 L85.79 159.97 L85.96 162.66 L86.16 165.25 L86.40 167.70 L86.68 170.05 L86.98 172.37 L87.31 174.59 L87.66 176.68 L88.06 178.56 L88.50 180.20 L89.00 181.56 L89.54 182.67 L90.13 183.59 L90.74 184.35 L91.37 185.01 L92.00 185.60 L92.63 186.09 L93.27 186.43 L93.92 186.66 L94.60 186.82 L95.29 186.95 L96.00 187.10 L96.80 187.25 L97.69 187.36 L98.60 187.44 L99.46 187.51 L100.18 187.56 L100.70 187.60 L100.70 187.60 Z" fill="url(#g01)"/><path d="M14.90 187.60 L14.90 187.60 L15.25 187.05 L15.73 186.37 L16.31 185.53 L16.91 184.49 L17.49 183.22 L18.00 181.70 L18.42 179.86 L18.80 177.70 L19.16 175.31 L19.52 172.79 L19.89 170.23 L20.30 167.70 L20.76 165.07 L21.26 162.23 L21.78 159.34 L22.29 156.57 L22.77 154.07 L23.20 152.00 L23.56 150.29 L23.88 148.81 L24.16 147.60 L24.43 146.71 L24.71 146.19 L25.00 146.10 L25.31 146.50 L25.62 147.36 L25.93 148.60 L26.25 150.11 L26.57 151.81 L26.90 153.60 L27.23 155.59 L27.55 157.87 L27.88 160.34 L28.22 162.87 L28.59 165.37 L29.00 167.70 L29.45 169.98 L29.93 172.33 L30.44 174.64 L30.97 176.79 L31.53 178.68 L32.10 180.20 L32.62 181.30 L33.08 182.06 L33.56 182.55 L34.14 182.87 L34.93 183.09 L36.00 183.30 L37.37 183.46 L38.97 183.49 L40.77 183.42 L42.73 183.30 L44.82 183.15 L47.00 183.00 L49.44 182.84 L52.20 182.65 L55.09 182.42 L57.91 182.19 L60.48 181.94 L62.60 181.70 L64.24 181.49 L65.54 181.29 L66.59 181.09 L67.46 180.86 L68.24 180.57 L69.00 180.20 L69.71 179.78 L70.30 179.35 L70.79 178.86 L71.21 178.27 L71.61 177.53 L72.00 176.60 L72.36 175.50 L72.64 174.28 L72.90 172.91 L73.16 171.37 L73.44 169.64 L73.80 167.70 L74.23 165.48 L74.72 163.00 L75.24 160.32 L75.78 157.54 L76.30 154.74 L76.80 152.00 L77.28 149.21 L77.75 146.27 L78.21 143.32 L78.66 140.47 L79.09 137.86 L79.50 135.60 L79.88 133.57 L80.23 131.64 L80.56 129.95 L80.87 128.62 L81.19 127.79 L81.50 127.60 L81.81 128.17 L82.11 129.44 L82.41 131.20 L82.70 133.27 L83.00 135.47 L83.30 137.60 L83.62 139.73 L83.95 142.03 L84.29 144.44 L84.61 146.94 L84.92 149.47 L85.20 152.00 L85.43 154.58 L85.62 157.26 L85.79 159.97 L85.96 162.66 L86.16 165.25 L86.40 167.70 L86.68 170.05 L86.98 172.37 L87.31 174.59 L87.66 176.68 L88.06 178.56 L88.50 180.20 L89.00 181.56 L89.54 182.67 L90.13 183.59 L90.74 184.35 L91.37 185.01 L92.00 185.60 L92.63 186.09 L93.27 186.43 L93.92 186.66 L94.60 186.82 L95.29 186.95 L96.00 187.10 L96.80 187.25 L97.69 187.36 L98.60 187.44 L99.46 187.51 L100.18 187.56 L100.70 187.60 L100.70 187.60 Z" fill="url(#stg01)"/></svg>
<div class="lb" style="left:0;top:0;width:125px;height:218px"><svg width="125" height="218" viewBox="0 0 125 218"><path d="M17.0 208.3 L21.0 204.6 L25.0 208.3 L24.2 212.8 L17.8 212.8 Z" fill="none" stroke="#a4a4a4" stroke-width="1"/><rect x="15.0" y="213.7" width="12" height="1.8" fill="#8e8e8e"/><rect x="58.2" y="204.8" width="8.5" height="8" fill="#d2e6f8"/><rect x="58.2" y="205.3" width="8.5" height="1" fill="#8cbce6"/><rect x="58.2" y="208.3" width="8.5" height="1" fill="#8cbce6"/><rect x="58.2" y="211.3" width="8.5" height="1" fill="#8cbce6"/><rect x="56.0" y="213.7" width="13" height="1.8" fill="#5a7496"/><circle cx="104.0" cy="206.8" r="2" fill="none" stroke="#b0b0b0" stroke-width="1"/><path d="M101.0 212.8 L101.5 209.8 L106.5 209.8 L107.0 212.8 Z" fill="none" stroke="#b0b0b0" stroke-width="1"/><rect x="100.5" y="213.7" width="7" height="1.8" fill="#9a9a9a"/></svg></div>
</div>
<div class="p" style="left:269px;top:3.0px;width:125px;height:218.0px;">
<div class="lb"><div style="left:9.65px;top:6.18px;width:3.50px;height:3.20px;background:#7e7e7e;"></div><div style="left:13.75px;top:6.18px;width:3.50px;height:3.20px;background:#7e7e7e;"></div><div style="left:17.85px;top:6.18px;width:3.50px;height:3.20px;background:#7e7e7e;"></div><div style="left:21.95px;top:6.18px;width:3.00px;height:3.20px;background:#7e7e7e;"></div><div style="left:25.55px;top:6.18px;width:3.50px;height:3.20px;background:#7e7e7e;"></div></div>
<div style="left:44.20px;top:8.07px;width:68.30px;height:0.80px;background:#f3f0e8;"></div>
<div class="lb"><div style="left:116.00px;top:6.38px;width:2.00px;height:4.00px;background:#b4b4b4;"></div></div>
<div style="left:0.00px;top:13.05px;width:125.00px;height:1.60px;background:#e6f0fa;"></div>
<div style="left:0.00px;top:14.65px;width:125.00px;height:1.60px;background:#c4d4e6;"></div>
<div class="lb"><div style="left:9.90px;top:20.12px;width:3.00px;height:3.20px;background:#7e7e7e;"></div><div style="left:13.50px;top:20.12px;width:3.50px;height:3.20px;background:#7e7e7e;"></div><div style="left:17.60px;top:20.12px;width:3.50px;height:3.20px;background:#7e7e7e;"></div><div style="left:21.70px;top:20.12px;width:3.00px;height:3.20px;background:#7e7e7e;"></div><div style="left:25.30px;top:20.12px;width:3.50px;height:3.20px;background:#7e7e7e;"></div></div>
<div style="left:44.20px;top:22.02px;width:68.30px;height:0.80px;background:#f3f0e8;"></div>
<div class="lb"><div style="left:116.00px;top:20.32px;width:2.00px;height:4.00px;background:#b4b4b4;"></div></div>
<div style="left:0.00px;top:27.00px;width:125.00px;height:1.60px;background:#e6f0fa;"></div>
<div style="left:0.00px;top:28.60px;width:125.00px;height:1.60px;background:#c4d4e6;"></div>
<div class="lb"><div style="left:9.65px;top:34.07px;width:3.50px;height:3.20px;background:#7e7e7e;"></div><div style="left:13.75px;top:34.07px;width:3.50px;height:3.20px;background:#7e7e7e;"></div><div style="left:17.85px;top:34.07px;width:3.50px;height:3.20px;background:#7e7e7e;"></div><div style="left:21.95px;top:34.07px;width:3.00px;height:3.20px;background:#7e7e7e;"></div><div style="left:25.55px;top:34.07px;width:3.50px;height:3.20px;background:#7e7e7e;"></div></div>
<div style="left:44.20px;top:35.98px;width:68.30px;height:0.80px;background:#f3f0e8;"></div>
<div class="lb"><div style="left:116.00px;top:34.27px;width:2.00px;height:4.00px;background:#b4b4b4;"></div></div>
<div style="left:0.00px;top:40.95px;width:125.00px;height:1.60px;background:#e6f0fa;"></div>
<div style="left:0.00px;top:42.55px;width:125.00px;height:1.60px;background:#c4d4e6;"></div>
<div class="lb"><div style="left:11.70px;top:48.02px;width:3.50px;height:3.20px;background:#7e7e7e;"></div><div style="left:15.80px;top:48.02px;width:3.50px;height:3.20px;background:#7e7e7e;"></div><div style="left:19.90px;top:48.02px;width:3.00px;height:3.20px;background:#7e7e7e;"></div><div style="left:23.50px;top:48.02px;width:3.50px;height:3.20px;background:#7e7e7e;"></div></div>
<div style="left:44.20px;top:49.92px;width:68.30px;height:0.80px;background:#f3f0e8;"></div>
<div class="lb"><div style="left:116.00px;top:48.22px;width:2.00px;height:4.00px;background:#b4b4b4;"></div></div>
<div style="left:0.00px;top:54.90px;width:125.00px;height:1.60px;background:#e6f0fa;"></div>
<div style="left:0.00px;top:56.50px;width:125.00px;height:1.60px;background:#c4d4e6;"></div>
<div class="lb"><div style="left:11.70px;top:61.97px;width:3.50px;height:3.20px;background:#7e7e7e;"></div><div style="left:15.80px;top:61.97px;width:3.50px;height:3.20px;background:#7e7e7e;"></div><div style="left:19.90px;top:61.97px;width:3.50px;height:3.20px;background:#7e7e7e;"></div><div style="left:24.00px;top:61.97px;width:3.00px;height:3.20px;background:#7e7e7e;"></div></div>
<div style="left:44.20px;top:63.88px;width:68.30px;height:0.80px;background:#f3f0e8;"></div>
<div class="lb"><div style="left:116.00px;top:62.17px;width:2.00px;height:4.00px;background:#b4b4b4;"></div></div>
<div style="left:0.00px;top:68.85px;width:125.00px;height:1.60px;background:#e6f0fa;"></div>
<div style="left:0.00px;top:70.45px;width:125.00px;height:1.60px;background:#c4d4e6;"></div>
<div class="lb"><div style="left:10.15px;top:75.93px;width:3.50px;height:3.20px;background:#7e7e7e;"></div><div style="left:14.25px;top:75.93px;width:3.50px;height:3.20px;background:#7e7e7e;"></div><div style="left:18.35px;top:75.93px;width:3.50px;height:3.20px;background:#7e7e7e;"></div><div style="left:22.45px;top:75.93px;width:3.50px;height:3.20px;background:#7e7e7e;"></div><div style="left:26.55px;top:75.93px;width:2.00px;height:3.20px;background:#7e7e7e;"></div></div>
<div style="left:44.20px;top:77.83px;width:68.30px;height:0.80px;background:#f3f0e8;"></div>
<div class="lb"><div style="left:116.00px;top:76.12px;width:2.00px;height:4.00px;background:#b4b4b4;"></div></div>
<div style="left:0.00px;top:82.80px;width:125.00px;height:1.60px;background:#e6f0fa;"></div>
<div style="left:0.00px;top:84.40px;width:125.00px;height:1.60px;background:#c4d4e6;"></div>
<div class="lb"><div style="left:10.15px;top:89.88px;width:3.50px;height:3.20px;background:#7e7e7e;"></div><div style="left:14.25px;top:89.88px;width:3.50px;height:3.20px;background:#7e7e7e;"></div><div style="left:18.35px;top:89.88px;width:3.50px;height:3.20px;background:#7e7e7e;"></div><div style="left:22.45px;top:89.88px;width:3.50px;height:3.20px;background:#7e7e7e;"></div><div style="left:26.55px;top:89.88px;width:2.00px;height:3.20px;background:#7e7e7e;"></div></div>
<div style="left:44.20px;top:91.77px;width:68.30px;height:0.80px;background:#f3f0e8;"></div>
<div class="lb"><div style="left:114.00px;top:90.07px;width:4.00px;height:4.00px;background:#b4b4b4;"></div></div>
<div style="left:0.00px;top:96.75px;width:125.00px;height:1.60px;background:#e6f0fa;"></div>
<div style="left:0.00px;top:98.35px;width:125.00px;height:1.60px;background:#c4d4e6;"></div>
<div class="lb"><div style="left:10.15px;top:103.83px;width:3.50px;height:3.20px;background:#7e7e7e;"></div><div style="left:14.25px;top:103.83px;width:3.50px;height:3.20px;background:#7e7e7e;"></div><div style="left:18.35px;top:103.83px;width:3.50px;height:3.20px;background:#7e7e7e;"></div><div style="left:22.45px;top:103.83px;width:3.50px;height:3.20px;background:#7e7e7e;"></div><div style="left:26.55px;top:103.83px;width:2.00px;height:3.20px;background:#7e7e7e;"></div></div>
<div style="left:44.20px;top:105.72px;width:68.30px;height:0.80px;background:#f3f0e8;"></div>
<div class="lb"><div style="left:112.00px;top:104.02px;width:6.00px;height:4.00px;background:#b4b4b4;"></div></div>
<div style="left:42.50px;top:7.88px;width:22.00px;height:1.20px;background:#9acf8a;"></div>
<div style="left:44.00px;top:49.72px;width:7.00px;height:1.20px;background:#aca494;"></div>
<div class="lb"><div style="left:44.5px;top:75.0px;width:4.2px;height:4.2px;border-radius:50%;background:#d6d4f2;border:1px solid #9696cc;"></div></div>
<div class="lb"><div style="left:44.20px;top:91.47px;width:13.50px;height:1.30px;background:#8aac86;"></div></div>
<div class="lb"><div style="left:54.6px;top:89.0px;width:4.2px;height:4.2px;border-radius:50%;background:#d2d2ea;border:1px solid #9696cc;"></div></div>
<div class="lb"><div style="left:44.20px;top:105.42px;width:9.80px;height:1.30px;background:#8aac86;"></div></div>
<div class="lb"><div style="left:50.9px;top:102.9px;width:4.2px;height:4.2px;border-radius:50%;background:#d0d0e6;border:1px solid #9696cc;"></div></div>
<div style="left:33.20px;top:0.00px;width:3.75px;height:112.60px;background:#eef8fc;"></div>
<div style="left:38.45px;top:0.00px;width:3.00px;height:112.60px;background:#f4f4fc;"></div>
<div style="left:36.95px;top:0.00px;width:1.50px;height:112.60px;background:#a8c2dc;"></div>
<div style="left:0.00px;top:112.60px;width:125.00px;height:89.00px;background:#e0e0e0;"></div>
<div class="lb"><div style="left:5.50px;top:115.80px;width:6.00px;height:2.40px;background:#888888;"></div><div style="left:13.10px;top:115.80px;width:6.00px;height:2.40px;background:#888888;"></div><div style="left:20.70px;top:115.80px;width:6.00px;height:2.40px;background:#888888;"></div><div style="left:28.30px;top:115.80px;width:9.00px;height:2.40px;background:#888888;"></div><div style="left:38.90px;top:115.80px;width:8.00px;height:2.40px;background:#888888;"></div><div style="left:48.50px;top:115.80px;width:15.00px;height:2.40px;background:#888888;"></div><div style="left:65.10px;top:115.80px;width:15.00px;height:2.40px;background:#888888;"></div><div style="left:81.70px;top:115.80px;width:8.30px;height:2.40px;background:#888888;"></div><div style="left:5.50px;top:119.60px;width:8.00px;height:2.40px;background:#888888;"></div><div style="left:15.10px;top:119.60px;width:15.00px;height:2.40px;background:#888888;"></div><div style="left:31.70px;top:119.60px;width:13.00px;height:2.40px;background:#888888;"></div><div style="left:46.30px;top:119.60px;width:9.00px;height:2.40px;background:#888888;"></div><div style="left:56.90px;top:119.60px;width:8.00px;height:2.40px;background:#888888;"></div><div style="left:66.50px;top:119.60px;width:13.00px;height:2.40px;background:#888888;"></div><div style="left:81.10px;top:119.60px;width:15.00px;height:2.40px;background:#888888;"></div><div style="left:97.70px;top:119.60px;width:1.30px;height:2.40px;background:#888888;"></div></div>
<div class="lb"><div style="left:21.00px;top:189.60px;width:7.00px;height:1.80px;background:#b0b0b0;"></div><div style="left:78.00px;top:189.60px;width:7.00px;height:1.80px;background:#b8b8b8;"></div><div style="left:100.00px;top:189.60px;width:5.00px;height:1.80px;background:#c0c0c0;"></div></div>
<div style="left:4.50px;top:187.60px;width:1.50px;height:0.60px;background:#b0b0b0;"></div>
<div style="left:4.50px;top:177.10px;width:1.50px;height:0.60px;background:#b0b0b0;"></div>
<div style="left:4.50px;top:166.60px;width:1.50px;height:0.60px;background:#b0b0b0;"></div>
<div style="left:4.50px;top:156.10px;width:1.50px;height:0.60px;background:#b0b0b0;"></div>
<div style="left:4.50px;top:145.60px;width:1.50px;height:0.60px;background:#b0b0b0;"></div>
<div style="left:4.50px;top:135.10px;width:1.50px;height:0.60px;background:#b0b0b0;"></div>
<div style="left:5.40px;top:127.00px;width:0.90px;height:60.60px;background:#a8a8a8;"></div>
<div style="left:6.00px;top:187.40px;width:110.00px;height:0.90px;background:#8a8a8a;"></div>
<svg width="125" height="218" viewBox="0 0 125 218"><defs><linearGradient id="g02" gradientUnits="userSpaceOnUse" x1="6" y1="0" x2="116" y2="0"><stop offset="0.0000" stop-color="#1e2a80"/><stop offset="0.0636" stop-color="#2234a8"/><stop offset="0.1091" stop-color="#2244c0"/><stop offset="0.1500" stop-color="#1c56cc"/><stop offset="0.1782" stop-color="#1a66cc"/><stop offset="0.2068" stop-color="#1a7ebc"/><stop offset="0.2409" stop-color="#0f9a98"/><stop offset="0.2727" stop-color="#1aa874"/><stop offset="0.3182" stop-color="#38c040"/><stop offset="0.3636" stop-color="#80d840"/><stop offset="0.3909" stop-color="#b0e040"/><stop offset="0.4227" stop-color="#e8d030"/><stop offset="0.4682" stop-color="#f0a820"/><stop offset="0.5364" stop-color="#f08020"/><stop offset="0.6045" stop-color="#e85020"/><stop offset="0.6636" stop-color="#d42818"/><stop offset="0.7182" stop-color="#b81a14"/><stop offset="0.7818" stop-color="#a01414"/><stop offset="0.8545" stop-color="#861010"/><stop offset="0.9273" stop-color="#6e0e0e"/><stop offset="1.0000" stop-color="#560a0a"/></linearGradient><clipPath id="cg02"><rect x="0" y="0" width="125" height="186.60"/></clipPath><pattern id="stg02" width="2.6" height="20" patternUnits="userSpaceOnUse"><rect x="0" y="0" width="0.9" height="20" fill="#000" fill-opacity="0.10"/></pattern></defs><path d="M5.90 187.60 L5.90 187.60 L6.14 186.19 L6.48 184.20 L6.88 181.86 L7.30 179.39 L7.72 177.03 L8.10 175.00 L8.44 173.06 L8.76 170.99 L9.08 169.02 L9.40 167.39 L9.74 166.34 L10.10 166.10 L10.49 166.95 L10.91 168.75 L11.34 171.12 L11.77 173.71 L12.19 176.12 L12.60 178.00 L12.97 179.47 L13.30 180.85 L13.62 182.06 L13.97 183.03 L14.35 183.67 L14.80 183.90 L15.34 183.75 L15.95 183.30 L16.60 182.53 L17.26 181.40 L17.91 179.90 L18.50 178.00 L19.05 175.59 L19.58 172.67 L20.09 169.37 L20.59 165.84 L21.05 162.24 L21.50 158.70 L21.92 155.00 L22.33 150.97 L22.71 146.86 L23.07 142.91 L23.40 139.38 L23.70 136.50 L23.95 134.20 L24.15 132.28 L24.32 130.76 L24.49 129.70 L24.68 129.13 L24.90 129.10 L25.16 129.68 L25.44 130.87 L25.74 132.54 L26.05 134.61 L26.37 136.96 L26.70 139.50 L27.04 142.42 L27.38 145.86 L27.73 149.57 L28.10 153.36 L28.49 156.97 L28.90 160.20 L29.35 163.16 L29.84 166.06 L30.34 168.80 L30.85 171.27 L31.34 173.37 L31.80 175.00 L32.19 176.12 L32.53 176.81 L32.86 177.14 L33.20 177.15 L33.60 176.92 L34.10 176.50 L34.69 175.76 L35.36 174.64 L36.07 173.26 L36.84 171.79 L37.66 170.35 L38.50 169.10 L39.38 167.98 L40.30 166.86 L41.26 165.78 L42.27 164.79 L43.31 163.91 L44.40 163.20 L45.55 162.68 L46.76 162.32 L48.01 162.08 L49.28 161.93 L50.55 161.81 L51.80 161.70 L53.05 161.58 L54.32 161.48 L55.59 161.43 L56.84 161.43 L58.05 161.51 L59.20 161.70 L60.27 162.00 L61.27 162.40 L62.23 162.89 L63.17 163.43 L64.12 164.01 L65.10 164.60 L66.16 165.32 L67.27 166.20 L68.40 167.11 L69.48 167.94 L70.47 168.54 L71.30 168.80 L71.95 168.67 L72.47 168.26 L72.88 167.62 L73.24 166.83 L73.60 165.97 L74.00 165.10 L74.43 164.21 L74.87 163.23 L75.29 162.18 L75.71 161.06 L76.11 159.86 L76.50 158.60 L76.87 157.26 L77.22 155.82 L77.56 154.32 L77.89 152.77 L78.20 151.19 L78.50 149.60 L78.78 147.99 L79.04 146.32 L79.28 144.63 L79.52 142.93 L79.76 141.25 L80.00 139.60 L80.25 137.79 L80.50 135.77 L80.75 133.76 L81.00 131.99 L81.25 130.69 L81.50 130.10 L81.75 130.31 L82.00 131.17 L82.24 132.51 L82.49 134.14 L82.74 135.89 L83.00 137.60 L83.26 139.29 L83.53 141.12 L83.81 143.07 L84.08 145.14 L84.34 147.32 L84.60 149.60 L84.84 152.09 L85.08 154.82 L85.31 157.66 L85.53 160.49 L85.76 163.18 L86.00 165.60 L86.24 167.78 L86.47 169.82 L86.71 171.72 L86.96 173.49 L87.22 175.11 L87.50 176.60 L87.78 177.93 L88.07 179.11 L88.36 180.14 L88.69 181.06 L89.06 181.87 L89.50 182.60 L90.01 183.25 L90.57 183.81 L91.18 184.28 L91.83 184.62 L92.51 184.83 L93.20 184.90 L93.93 184.80 L94.69 184.52 L95.49 184.12 L96.30 183.62 L97.11 183.07 L97.90 182.50 L98.70 181.77 L99.53 180.83 L100.35 179.82 L101.15 178.93 L101.91 178.30 L102.60 178.10 L103.21 178.43 L103.74 179.17 L104.24 180.19 L104.71 181.31 L105.19 182.40 L105.70 183.30 L106.22 184.05 L106.72 184.79 L107.23 185.49 L107.77 186.13 L108.35 186.67 L109.00 187.10 L109.79 187.38 L110.73 187.53 L111.71 187.59 L112.64 187.59 L113.44 187.58 L114.00 187.60 L114.00 187.60 Z" fill="none" stroke="#ffffff" stroke-opacity="0.95" stroke-width="1.80" clip-path="url(#cg02)"/><path d="M5.90 187.60 L5.90 187.60 L6.14 186.19 L6.48 184.20 L6.88 181.86 L7.30 179.39 L7.72 177.03 L8.10 175.00 L8.44 173.06 L8.76 170.99 L9.08 169.02 L9.40 167.39 L9.74 166.34 L10.10 166.10 L10.49 166.95 L10.91 168.75 L11.34 171.12 L11.77 173.71 L12.19 176.12 L12.60 178.00 L12.97 179.47 L13.30 180.85 L13.62 182.06 L13.97 183.03 L14.35 183.67 L14.80 183.90 L15.34 183.75 L15.95 183.30 L16.60 182.53 L17.26 181.40 L17.91 179.90 L18.50 178.00 L19.05 175.59 L19.58 172.67 L20.09 169.37 L20.59 165.84 L21.05 162.24 L21.50 158.70 L21.92 155.00 L22.33 150.97 L22.71 146.86 L23.07 142.91 L23.40 139.38 L23.70 136.50 L23.95 134.20 L24.15 132.28 L24.32 130.76 L24.49 129.70 L24.68 129.13 L24.90 129.10 L25.16 129.68 L25.44 130.87 L25.74 132.54 L26.05 134.61 L26.37 136.96 L26.70 139.50 L27.04 142.42 L27.38 145.86 L27.73 149.57 L28.10 153.36 L28.49 156.97 L28.90 160.20 L29.35 163.16 L29.84 166.06 L30.34 168.80 L30.85 171.27 L31.34 173.37 L31.80 175.00 L32.19 176.12 L32.53 176.81 L32.86 177.14 L33.20 177.15 L33.60 176.92 L34.10 176.50 L34.69 175.76 L35.36 174.64 L36.07 173.26 L36.84 171.79 L37.66 170.35 L38.50 169.10 L39.38 167.98 L40.30 166.86 L41.26 165.78 L42.27 164.79 L43.31 163.91 L44.40 163.20 L45.55 162.68 L46.76 162.32 L48.01 162.08 L49.28 161.93 L50.55 161.81 L51.80 161.70 L53.05 161.58 L54.32 161.48 L55.59 161.43 L56.84 161.43 L58.05 161.51 L59.20 161.70 L60.27 162.00 L61.27 162.40 L62.23 162.89 L63.17 163.43 L64.12 164.01 L65.10 164.60 L66.16 165.32 L67.27 166.20 L68.40 167.11 L69.48 167.94 L70.47 168.54 L71.30 168.80 L71.95 168.67 L72.47 168.26 L72.88 167.62 L73.24 166.83 L73.60 165.97 L74.00 165.10 L74.43 164.21 L74.87 163.23 L75.29 162.18 L75.71 161.06 L76.11 159.86 L76.50 158.60 L76.87 157.26 L77.22 155.82 L77.56 154.32 L77.89 152.77 L78.20 151.19 L78.50 149.60 L78.78 147.99 L79.04 146.32 L79.28 144.63 L79.52 142.93 L79.76 141.25 L80.00 139.60 L80.25 137.79 L80.50 135.77 L80.75 133.76 L81.00 131.99 L81.25 130.69 L81.50 130.10 L81.75 130.31 L82.00 131.17 L82.24 132.51 L82.49 134.14 L82.74 135.89 L83.00 137.60 L83.26 139.29 L83.53 141.12 L83.81 143.07 L84.08 145.14 L84.34 147.32 L84.60 149.60 L84.84 152.09 L85.08 154.82 L85.31 157.66 L85.53 160.49 L85.76 163.18 L86.00 165.60 L86.24 167.78 L86.47 169.82 L86.71 171.72 L86.96 173.49 L87.22 175.11 L87.50 176.60 L87.78 177.93 L88.07 179.11 L88.36 180.14 L88.69 181.06 L89.06 181.87 L89.50 182.60 L90.01 183.25 L90.57 183.81 L91.18 184.28 L91.83 184.62 L92.51 184.83 L93.20 184.90 L93.93 184.80 L94.69 184.52 L95.49 184.12 L96.30 183.62 L97.11 183.07 L97.90 182.50 L98.70 181.77 L99.53 180.83 L100.35 179.82 L101.15 178.93 L101.91 178.30 L102.60 178.10 L103.21 178.43 L103.74 179.17 L104.24 180.19 L104.71 181.31 L105.19 182.40 L105.70 183.30 L106.22 184.05 L106.72 184.79 L107.23 185.49 L107.77 186.13 L108.35 186.67 L109.00 187.10 L109.79 187.38 L110.73 187.53 L111.71 187.59 L112.64 187.59 L113.44 187.58 L114.00 187.60 L114.00 187.60 Z" fill="url(#g02)"/><path d="M5.90 187.60 L5.90 187.60 L6.14 186.19 L6.48 184.20 L6.88 181.86 L7.30 179.39 L7.72 177.03 L8.10 175.00 L8.44 173.06 L8.76 170.99 L9.08 169.02 L9.40 167.39 L9.74 166.34 L10.10 166.10 L10.49 166.95 L10.91 168.75 L11.34 171.12 L11.77 173.71 L12.19 176.12 L12.60 178.00 L12.97 179.47 L13.30 180.85 L13.62 182.06 L13.97 183.03 L14.35 183.67 L14.80 183.90 L15.34 183.75 L15.95 183.30 L16.60 182.53 L17.26 181.40 L17.91 179.90 L18.50 178.00 L19.05 175.59 L19.58 172.67 L20.09 169.37 L20.59 165.84 L21.05 162.24 L21.50 158.70 L21.92 155.00 L22.33 150.97 L22.71 146.86 L23.07 142.91 L23.40 139.38 L23.70 136.50 L23.95 134.20 L24.15 132.28 L24.32 130.76 L24.49 129.70 L24.68 129.13 L24.90 129.10 L25.16 129.68 L25.44 130.87 L25.74 132.54 L26.05 134.61 L26.37 136.96 L26.70 139.50 L27.04 142.42 L27.38 145.86 L27.73 149.57 L28.10 153.36 L28.49 156.97 L28.90 160.20 L29.35 163.16 L29.84 166.06 L30.34 168.80 L30.85 171.27 L31.34 173.37 L31.80 175.00 L32.19 176.12 L32.53 176.81 L32.86 177.14 L33.20 177.15 L33.60 176.92 L34.10 176.50 L34.69 175.76 L35.36 174.64 L36.07 173.26 L36.84 171.79 L37.66 170.35 L38.50 169.10 L39.38 167.98 L40.30 166.86 L41.26 165.78 L42.27 164.79 L43.31 163.91 L44.40 163.20 L45.55 162.68 L46.76 162.32 L48.01 162.08 L49.28 161.93 L50.55 161.81 L51.80 161.70 L53.05 161.58 L54.32 161.48 L55.59 161.43 L56.84 161.43 L58.05 161.51 L59.20 161.70 L60.27 162.00 L61.27 162.40 L62.23 162.89 L63.17 163.43 L64.12 164.01 L65.10 164.60 L66.16 165.32 L67.27 166.20 L68.40 167.11 L69.48 167.94 L70.47 168.54 L71.30 168.80 L71.95 168.67 L72.47 168.26 L72.88 167.62 L73.24 166.83 L73.60 165.97 L74.00 165.10 L74.43 164.21 L74.87 163.23 L75.29 162.18 L75.71 161.06 L76.11 159.86 L76.50 158.60 L76.87 157.26 L77.22 155.82 L77.56 154.32 L77.89 152.77 L78.20 151.19 L78.50 149.60 L78.78 147.99 L79.04 146.32 L79.28 144.63 L79.52 142.93 L79.76 141.25 L80.00 139.60 L80.25 137.79 L80.50 135.77 L80.75 133.76 L81.00 131.99 L81.25 130.69 L81.50 130.10 L81.75 130.31 L82.00 131.17 L82.24 132.51 L82.49 134.14 L82.74 135.89 L83.00 137.60 L83.26 139.29 L83.53 141.12 L83.81 143.07 L84.08 145.14 L84.34 147.32 L84.60 149.60 L84.84 152.09 L85.08 154.82 L85.31 157.66 L85.53 160.49 L85.76 163.18 L86.00 165.60 L86.24 167.78 L86.47 169.82 L86.71 171.72 L86.96 173.49 L87.22 175.11 L87.50 176.60 L87.78 177.93 L88.07 179.11 L88.36 180.14 L88.69 181.06 L89.06 181.87 L89.50 182.60 L90.01 183.25 L90.57 183.81 L91.18 184.28 L91.83 184.62 L92.51 184.83 L93.20 184.90 L93.93 184.80 L94.69 184.52 L95.49 184.12 L96.30 183.62 L97.11 183.07 L97.90 182.50 L98.70 181.77 L99.53 180.83 L100.35 179.82 L101.15 178.93 L101.91 178.30 L102.60 178.10 L103.21 178.43 L103.74 179.17 L104.24 180.19 L104.71 181.31 L105.19 182.40 L105.70 183.30 L106.22 184.05 L106.72 184.79 L107.23 185.49 L107.77 186.13 L108.35 186.67 L109.00 187.10 L109.79 187.38 L110.73 187.53 L111.71 187.59 L112.64 187.59 L113.44 187.58 L114.00 187.60 L114.00 187.60 Z" fill="url(#stg02)"/></svg>
<div class="lb" style="left:0;top:0;width:125px;height:218px"><svg width="125" height="218" viewBox="0 0 125 218"><path d="M17.0 208.3 L21.0 204.6 L25.0 208.3 L24.2 212.8 L17.8 212.8 Z" fill="none" stroke="#a4a4a4" stroke-width="1"/><rect x="15.0" y="213.7" width="12" height="1.8" fill="#8e8e8e"/><rect x="58.2" y="204.8" width="8.5" height="8" fill="#d2e6f8"/><rect x="58.2" y="205.3" width="8.5" height="1" fill="#8cbce6"/><rect x="58.2" y="208.3" width="8.5" height="1" fill="#8cbce6"/><rect x="58.2" y="211.3" width="8.5" height="1" fill="#8cbce6"/><rect x="56.0" y="213.7" width="13" height="1.8" fill="#5a7496"/><circle cx="104.0" cy="206.8" r="2" fill="none" stroke="#b0b0b0" stroke-width="1"/><path d="M101.0 212.8 L101.5 209.8 L106.5 209.8 L107.0 212.8 Z" fill="none" stroke="#b0b0b0" stroke-width="1"/><rect x="100.5" y="213.7" width="7" height="1.8" fill="#9a9a9a"/></svg></div>
</div>
<div class="p" style="left:403px;top:3.0px;width:126px;height:218.0px;">
<div class="lb"><div style="left:10.10px;top:6.18px;width:3.50px;height:3.20px;background:#7e7e7e;"></div><div style="left:14.20px;top:6.18px;width:3.50px;height:3.20px;background:#7e7e7e;"></div><div style="left:18.30px;top:6.18px;width:3.50px;height:3.20px;background:#7e7e7e;"></div><div style="left:22.40px;top:6.18px;width:3.00px;height:3.20px;background:#7e7e7e;"></div><div style="left:26.00px;top:6.18px;width:3.50px;height:3.20px;background:#7e7e7e;"></div></div>
<div style="left:45.10px;top:8.07px;width:68.40px;height:0.80px;background:#f3f0e8;"></div>
<div class="lb"><div style="left:117.00px;top:6.38px;width:2.00px;height:4.00px;background:#b4b4b4;"></div></div>
<div style="left:0.00px;top:13.05px;width:126.00px;height:1.60px;background:#e6f0fa;"></div>
<div style="left:0.00px;top:14.65px;width:126.00px;height:1.60px;background:#c4d4e6;"></div>
<div class="lb"><div style="left:10.35px;top:20.12px;width:3.00px;height:3.20px;background:#7e7e7e;"></div><div style="left:13.95px;top:20.12px;width:3.50px;height:3.20px;background:#7e7e7e;"></div><div style="left:18.05px;top:20.12px;width:3.50px;height:3.20px;background:#7e7e7e;"></div><div style="left:22.15px;top:20.12px;width:3.00px;height:3.20px;background:#7e7e7e;"></div><div style="left:25.75px;top:20.12px;width:3.50px;height:3.20px;background:#7e7e7e;"></div></div>
<div style="left:45.10px;top:22.02px;width:68.40px;height:0.80px;background:#f3f0e8;"></div>
<div class="lb"><div style="left:117.00px;top:20.32px;width:2.00px;height:4.00px;background:#b4b4b4;"></div></div>
<div style="left:0.00px;top:27.00px;width:126.00px;height:1.60px;background:#e6f0fa;"></div>
<div style="left:0.00px;top:28.60px;width:126.00px;height:1.60px;background:#c4d4e6;"></div>
<div class="lb"><div style="left:10.10px;top:34.07px;width:3.50px;height:3.20px;background:#7e7e7e;"></div><div style="left:14.20px;top:34.07px;width:3.50px;height:3.20px;background:#7e7e7e;"></div><div style="left:18.30px;top:34.07px;width:3.50px;height:3.20px;background:#7e7e7e;"></div><div style="left:22.40px;top:34.07px;width:3.00px;height:3.20px;background:#7e7e7e;"></div><div style="left:26.00px;top:34.07px;width:3.50px;height:3.20px;background:#7e7e7e;"></div></div>
<div style="left:45.10px;top:35.98px;width:68.40px;height:0.80px;background:#f3f0e8;"></div>
<div class="lb"><div style="left:117.00px;top:34.27px;width:2.00px;height:4.00px;background:#b4b4b4;"></div></div>
<div style="left:0.00px;top:40.95px;width:126.00px;height:1.60px;background:#e6f0fa;"></div>
<div style="left:0.00px;top:42.55px;width:126.00px;height:1.60px;background:#c4d4e6;"></div>
<div class="lb"><div style="left:12.15px;top:48.02px;width:3.50px;height:3.20px;background:#7e7e7e;"></div><div style="left:16.25px;top:48.02px;width:3.50px;height:3.20px;background:#7e7e7e;"></div><div style="left:20.35px;top:48.02px;width:3.00px;height:3.20px;background:#7e7e7e;"></div><div style="left:23.95px;top:48.02px;width:3.50px;height:3.20px;background:#7e7e7e;"></div></div>
<div style="left:45.10px;top:49.92px;width:68.40px;height:0.80px;background:#f3f0e8;"></div>
<div class="lb"><div style="left:117.00px;top:48.22px;width:2.00px;height:4.00px;background:#b4b4b4;"></div></div>
<div style="left:0.00px;top:54.90px;width:126.00px;height:1.60px;background:#e6f0fa;"></div>
<div style="left:0.00px;top:56.50px;width:126.00px;height:1.60px;background:#c4d4e6;"></div>
<div class="lb"><div style="left:12.15px;top:61.97px;width:3.50px;height:3.20px;background:#7e7e7e;"></div><div style="left:16.25px;top:61.97px;width:3.50px;height:3.20px;background:#7e7e7e;"></div><div style="left:20.35px;top:61.97px;width:3.50px;height:3.20px;background:#7e7e7e;"></div><div style="left:24.45px;top:61.97px;width:3.00px;height:3.20px;background:#7e7e7e;"></div></div>
<div style="left:45.10px;top:63.88px;width:68.40px;height:0.80px;background:#f3f0e8;"></div>
<div class="lb"><div style="left:117.00px;top:62.17px;width:2.00px;height:4.00px;background:#b4b4b4;"></div></div>
<div style="left:0.00px;top:68.85px;width:126.00px;height:1.60px;background:#e6f0fa;"></div>
<div style="left:0.00px;top:70.45px;width:126.00px;height:1.60px;background:#c4d4e6;"></div>
<div class="lb"><div style="left:10.60px;top:75.93px;width:3.50px;height:3.20px;background:#7e7e7e;"></div><div style="left:14.70px;top:75.93px;width:3.50px;height:3.20px;background:#7e7e7e;"></div><div style="left:18.80px;top:75.93px;width:3.50px;height:3.20px;background:#7e7e7e;"></div><div style="left:22.90px;top:75.93px;width:3.50px;height:3.20px;background:#7e7e7e;"></div><div style="left:27.00px;top:75.93px;width:2.00px;height:3.20px;background:#7e7e7e;"></div></div>
<div style="left:45.10px;top:77.83px;width:68.40px;height:0.80px;background:#f3f0e8;"></div>
<div class="lb"><div style="left:117.00px;top:76.12px;width:2.00px;height:4.00px;background:#b4b4b4;"></div></div>
<div style="left:0.00px;top:82.80px;width:126.00px;height:1.60px;background:#e6f0fa;"></div>
<div style="left:0.00px;top:84.40px;width:126.00px;height:1.60px;background:#c4d4e6;"></div>
<div class="lb"><div style="left:10.60px;top:89.88px;width:3.50px;height:3.20px;background:#7e7e7e;"></div><div style="left:14.70px;top:89.88px;width:3.50px;height:3.20px;background:#7e7e7e;"></div><div style="left:18.80px;top:89.88px;width:3.50px;height:3.20px;background:#7e7e7e;"></div><div style="left:22.90px;top:89.88px;width:3.50px;height:3.20px;background:#7e7e7e;"></div><div style="left:27.00px;top:89.88px;width:2.00px;height:3.20px;background:#7e7e7e;"></div></div>
<div style="left:45.10px;top:91.77px;width:68.40px;height:0.80px;background:#f3f0e8;"></div>
<div class="lb"><div style="left:115.00px;top:90.07px;width:4.00px;height:4.00px;background:#b4b4b4;"></div></div>
<div style="left:0.00px;top:96.75px;width:126.00px;height:1.60px;background:#e6f0fa;"></div>
<div style="left:0.00px;top:98.35px;width:126.00px;height:1.60px;background:#c4d4e6;"></div>
<div class="lb"><div style="left:10.60px;top:103.83px;width:3.50px;height:3.20px;background:#7e7e7e;"></div><div style="left:14.70px;top:103.83px;width:3.50px;height:3.20px;background:#7e7e7e;"></div><div style="left:18.80px;top:103.83px;width:3.50px;height:3.20px;background:#7e7e7e;"></div><div style="left:22.90px;top:103.83px;width:3.50px;height:3.20px;background:#7e7e7e;"></div><div style="left:27.00px;top:103.83px;width:2.00px;height:3.20px;background:#7e7e7e;"></div></div>
<div style="left:45.10px;top:105.72px;width:68.40px;height:0.80px;background:#f3f0e8;"></div>
<div class="lb"><div style="left:113.00px;top:104.02px;width:6.00px;height:4.00px;background:#b4b4b4;"></div></div>
<div style="left:45.00px;top:49.72px;width:5.00px;height:1.20px;background:#aca494;"></div>
<div class="lb"><div style="left:44.9px;top:75.0px;width:4.2px;height:4.2px;border-radius:50%;background:#d6d4f2;border:1px solid #9696cc;"></div></div>
<div class="lb"><div style="left:45.10px;top:91.47px;width:13.60px;height:1.30px;background:#8aac86;"></div></div>
<div class="lb"><div style="left:55.6px;top:89.0px;width:4.2px;height:4.2px;border-radius:50%;background:#d2d2ea;border:1px solid #9696cc;"></div></div>
<div class="lb"><div style="left:45.10px;top:105.42px;width:9.90px;height:1.30px;background:#8aac86;"></div></div>
<div class="lb"><div style="left:51.9px;top:102.9px;width:4.2px;height:4.2px;border-radius:50%;background:#d0d0e6;border:1px solid #9696cc;"></div></div>
<div style="left:34.10px;top:0.00px;width:3.75px;height:112.60px;background:#eef8fc;"></div>
<div style="left:39.35px;top:0.00px;width:3.00px;height:112.60px;background:#f4f4fc;"></div>
<div style="left:37.85px;top:0.00px;width:1.50px;height:112.60px;background:#a8c2dc;"></div>
<div style="left:0.00px;top:112.60px;width:126.00px;height:89.00px;background:#e0e0e0;"></div>
<div class="lb"><div style="left:5.50px;top:115.80px;width:8.00px;height:2.40px;background:#888888;"></div><div style="left:15.10px;top:115.80px;width:13.00px;height:2.40px;background:#888888;"></div><div style="left:29.70px;top:115.80px;width:13.00px;height:2.40px;background:#888888;"></div><div style="left:44.30px;top:115.80px;width:8.00px;height:2.40px;background:#888888;"></div><div style="left:53.90px;top:115.80px;width:1.60px;height:2.40px;background:#888888;"></div><div style="left:5.50px;top:119.60px;width:15.00px;height:2.40px;background:#888888;"></div><div style="left:22.10px;top:119.60px;width:11.00px;height:2.40px;background:#888888;"></div><div style="left:34.70px;top:119.60px;width:15.00px;height:2.40px;background:#888888;"></div><div style="left:51.30px;top:119.60px;width:15.00px;height:2.40px;background:#888888;"></div><div style="left:67.90px;top:119.60px;width:15.00px;height:2.40px;background:#888888;"></div><div style="left:84.50px;top:119.60px;width:8.00px;height:2.40px;background:#888888;"></div><div style="left:94.10px;top:119.60px;width:4.90px;height:2.40px;background:#888888;"></div></div>
<div class="lb"><div style="left:21.00px;top:189.60px;width:7.00px;height:1.80px;background:#b0b0b0;"></div><div style="left:78.00px;top:189.60px;width:7.00px;height:1.80px;background:#b8b8b8;"></div><div style="left:100.00px;top:189.60px;width:5.00px;height:1.80px;background:#c0c0c0;"></div></div>
<div style="left:4.50px;top:187.60px;width:1.50px;height:0.60px;background:#b0b0b0;"></div>
<div style="left:4.50px;top:177.10px;width:1.50px;height:0.60px;background:#b0b0b0;"></div>
<div style="left:4.50px;top:166.60px;width:1.50px;height:0.60px;background:#b0b0b0;"></div>
<div style="left:4.50px;top:156.10px;width:1.50px;height:0.60px;background:#b0b0b0;"></div>
<div style="left:4.50px;top:145.60px;width:1.50px;height:0.60px;background:#b0b0b0;"></div>
<div style="left:4.50px;top:135.10px;width:1.50px;height:0.60px;background:#b0b0b0;"></div>
<div style="left:5.40px;top:127.00px;width:0.90px;height:60.60px;background:#a8a8a8;"></div>
<div style="left:6.00px;top:187.40px;width:110.00px;height:0.90px;background:#8a8a8a;"></div>
<svg width="126" height="218" viewBox="0 0 126 218"><defs><linearGradient id="g03" gradientUnits="userSpaceOnUse" x1="6" y1="0" x2="116" y2="0"><stop offset="0.0000" stop-color="#1e2a80"/><stop offset="0.0636" stop-color="#2234a8"/><stop offset="0.1091" stop-color="#2244c0"/><stop offset="0.1500" stop-color="#1c56cc"/><stop offset="0.1782" stop-color="#1a66cc"/><stop offset="0.2068" stop-color="#1a7ebc"/><stop offset="0.2409" stop-color="#0f9a98"/><stop offset="0.2727" stop-color="#1aa874"/><stop offset="0.3182" stop-color="#38c040"/><stop offset="0.3636" stop-color="#80d840"/><stop offset="0.3909" stop-color="#b0e040"/><stop offset="0.4227" stop-color="#e8d030"/><stop offset="0.4682" stop-color="#f0a820"/><stop offset="0.5364" stop-color="#f08020"/><stop offset="0.6045" stop-color="#e85020"/><stop offset="0.6636" stop-color="#d42818"/><stop offset="0.7182" stop-color="#b81a14"/><stop offset="0.7818" stop-color="#a01414"/><stop offset="0.8545" stop-color="#861010"/><stop offset="0.9273" stop-color="#6e0e0e"/><stop offset="1.0000" stop-color="#560a0a"/></linearGradient><clipPath id="cg03"><rect x="0" y="0" width="126" height="186.60"/></clipPath><pattern id="stg03" width="2.6" height="20" patternUnits="userSpaceOnUse"><rect x="0" y="0" width="0.9" height="20" fill="#000" fill-opacity="0.10"/></pattern></defs><path d="M17.00 187.60 L17.00 187.60 L17.41 186.99 L17.99 186.20 L18.66 185.24 L19.38 184.11 L20.08 182.83 L20.70 181.40 L21.25 179.72 L21.78 177.78 L22.29 175.67 L22.79 173.53 L23.25 171.47 L23.70 169.60 L24.13 167.86 L24.54 166.14 L24.93 164.50 L25.29 162.99 L25.61 161.67 L25.90 160.60 L26.12 159.72 L26.29 158.98 L26.41 158.43 L26.54 158.11 L26.69 158.09 L26.90 158.40 L27.17 159.12 L27.46 160.23 L27.78 161.62 L28.13 163.21 L28.50 164.90 L28.90 166.60 L29.32 168.42 L29.77 170.46 L30.24 172.59 L30.74 174.71 L31.26 176.69 L31.80 178.40 L32.36 179.86 L32.94 181.17 L33.55 182.33 L34.18 183.37 L34.83 184.29 L35.50 185.10 L35.91 185.79 L36.01 186.34 L36.13 186.77 L36.61 187.11 L37.79 187.38 L40.00 187.60 L43.77 187.60 L48.94 187.60 L54.81 187.60 L60.67 187.60 L65.83 187.60 L69.60 187.60 L71.80 187.17 L72.96 186.65 L73.42 185.99 L73.52 185.17 L73.60 184.15 L74.00 182.90 L74.67 181.47 L75.31 179.90 L75.94 178.14 L76.54 176.11 L77.13 173.75 L77.70 171.00 L78.25 167.67 L78.78 163.78 L79.29 159.56 L79.79 155.25 L80.25 151.09 L80.70 147.30 L81.11 143.49 L81.49 139.38 L81.85 135.41 L82.20 132.03 L82.54 129.68 L82.90 128.80 L83.27 129.66 L83.63 131.98 L83.99 135.32 L84.36 139.27 L84.73 143.40 L85.10 147.30 L85.47 151.28 L85.84 155.75 L86.21 160.41 L86.59 164.95 L86.98 169.08 L87.40 172.50 L87.85 175.16 L88.32 177.27 L88.81 178.98 L89.30 180.40 L89.80 181.67 L90.30 182.90 L90.83 184.07 L91.40 185.06 L91.98 185.90 L92.52 186.59 L92.97 187.15 L93.30 187.60 L93.30 187.60 Z" fill="none" stroke="#ffffff" stroke-opacity="0.95" stroke-width="1.80" clip-path="url(#cg03)"/><path d="M17.00 187.60 L17.00 187.60 L17.41 186.99 L17.99 186.20 L18.66 185.24 L19.38 184.11 L20.08 182.83 L20.70 181.40 L21.25 179.72 L21.78 177.78 L22.29 175.67 L22.79 173.53 L23.25 171.47 L23.70 169.60 L24.13 167.86 L24.54 166.14 L24.93 164.50 L25.29 162.99 L25.61 161.67 L25.90 160.60 L26.12 159.72 L26.29 158.98 L26.41 158.43 L26.54 158.11 L26.69 158.09 L26.90 158.40 L27.17 159.12 L27.46 160.23 L27.78 161.62 L28.13 163.21 L28.50 164.90 L28.90 166.60 L29.32 168.42 L29.77 170.46 L30.24 172.59 L30.74 174.71 L31.26 176.69 L31.80 178.40 L32.36 179.86 L32.94 181.17 L33.55 182.33 L34.18 183.37 L34.83 184.29 L35.50 185.10 L35.91 185.79 L36.01 186.34 L36.13 186.77 L36.61 187.11 L37.79 187.38 L40.00 187.60 L43.77 187.60 L48.94 187.60 L54.81 187.60 L60.67 187.60 L65.83 187.60 L69.60 187.60 L71.80 187.17 L72.96 186.65 L73.42 185.99 L73.52 185.17 L73.60 184.15 L74.00 182.90 L74.67 181.47 L75.31 179.90 L75.94 178.14 L76.54 176.11 L77.13 173.75 L77.70 171.00 L78.25 167.67 L78.78 163.78 L79.29 159.56 L79.79 155.25 L80.25 151.09 L80.70 147.30 L81.11 143.49 L81.49 139.38 L81.85 135.41 L82.20 132.03 L82.54 129.68 L82.90 128.80 L83.27 129.66 L83.63 131.98 L83.99 135.32 L84.36 139.27 L84.73 143.40 L85.10 147.30 L85.47 151.28 L85.84 155.75 L86.21 160.41 L86.59 164.95 L86.98 169.08 L87.40 172.50 L87.85 175.16 L88.32 177.27 L88.81 178.98 L89.30 180.40 L89.80 181.67 L90.30 182.90 L90.83 184.07 L91.40 185.06 L91.98 185.90 L92.52 186.59 L92.97 187.15 L93.30 187.60 L93.30 187.60 Z" fill="url(#g03)"/><path d="M17.00 187.60 L17.00 187.60 L17.41 186.99 L17.99 186.20 L18.66 185.24 L19.38 184.11 L20.08 182.83 L20.70 181.40 L21.25 179.72 L21.78 177.78 L22.29 175.67 L22.79 173.53 L23.25 171.47 L23.70 169.60 L24.13 167.86 L24.54 166.14 L24.93 164.50 L25.29 162.99 L25.61 161.67 L25.90 160.60 L26.12 159.72 L26.29 158.98 L26.41 158.43 L26.54 158.11 L26.69 158.09 L26.90 158.40 L27.17 159.12 L27.46 160.23 L27.78 161.62 L28.13 163.21 L28.50 164.90 L28.90 166.60 L29.32 168.42 L29.77 170.46 L30.24 172.59 L30.74 174.71 L31.26 176.69 L31.80 178.40 L32.36 179.86 L32.94 181.17 L33.55 182.33 L34.18 183.37 L34.83 184.29 L35.50 185.10 L35.91 185.79 L36.01 186.34 L36.13 186.77 L36.61 187.11 L37.79 187.38 L40.00 187.60 L43.77 187.60 L48.94 187.60 L54.81 187.60 L60.67 187.60 L65.83 187.60 L69.60 187.60 L71.80 187.17 L72.96 186.65 L73.42 185.99 L73.52 185.17 L73.60 184.15 L74.00 182.90 L74.67 181.47 L75.31 179.90 L75.94 178.14 L76.54 176.11 L77.13 173.75 L77.70 171.00 L78.25 167.67 L78.78 163.78 L79.29 159.56 L79.79 155.25 L80.25 151.09 L80.70 147.30 L81.11 143.49 L81.49 139.38 L81.85 135.41 L82.20 132.03 L82.54 129.68 L82.90 128.80 L83.27 129.66 L83.63 131.98 L83.99 135.32 L84.36 139.27 L84.73 143.40 L85.10 147.30 L85.47 151.28 L85.84 155.75 L86.21 160.41 L86.59 164.95 L86.98 169.08 L87.40 172.50 L87.85 175.16 L88.32 177.27 L88.81 178.98 L89.30 180.40 L89.80 181.67 L90.30 182.90 L90.83 184.07 L91.40 185.06 L91.98 185.90 L92.52 186.59 L92.97 187.15 L93.30 187.60 L93.30 187.60 Z" fill="url(#stg03)"/></svg>
<div class="lb" style="left:0;top:0;width:126px;height:218px"><svg width="126" height="218" viewBox="0 0 126 218"><path d="M17.0 208.3 L21.0 204.6 L25.0 208.3 L24.2 212.8 L17.8 212.8 Z" fill="none" stroke="#a4a4a4" stroke-width="1"/><rect x="15.0" y="213.7" width="12" height="1.8" fill="#8e8e8e"/><rect x="58.8" y="204.8" width="8.5" height="8" fill="#d2e6f8"/><rect x="58.8" y="205.3" width="8.5" height="1" fill="#8cbce6"/><rect x="58.8" y="208.3" width="8.5" height="1" fill="#8cbce6"/><rect x="58.8" y="211.3" width="8.5" height="1" fill="#8cbce6"/><rect x="56.5" y="213.7" width="13" height="1.8" fill="#5a7496"/><circle cx="105.0" cy="206.8" r="2" fill="none" stroke="#b0b0b0" stroke-width="1"/><path d="M102.0 212.8 L102.5 209.8 L107.5 209.8 L108.0 212.8 Z" fill="none" stroke="#b0b0b0" stroke-width="1"/><rect x="101.5" y="213.7" width="7" height="1.8" fill="#9a9a9a"/></svg></div>
</div>
<div class="p" style="left:536px;top:3.0px;width:127px;height:218.0px;">
<div class="lb"><div style="left:10.20px;top:6.18px;width:3.50px;height:3.20px;background:#7e7e7e;"></div><div style="left:14.30px;top:6.18px;width:3.50px;height:3.20px;background:#7e7e7e;"></div><div style="left:18.40px;top:6.18px;width:3.50px;height:3.20px;background:#7e7e7e;"></div><div style="left:22.50px;top:6.18px;width:3.00px;height:3.20px;background:#7e7e7e;"></div><div style="left:26.10px;top:6.18px;width:3.50px;height:3.20px;background:#7e7e7e;"></div></div>
<div style="left:45.30px;top:8.07px;width:69.20px;height:0.80px;background:#f3f0e8;"></div>
<div class="lb"><div style="left:118.00px;top:6.38px;width:2.00px;height:4.00px;background:#b4b4b4;"></div></div>
<div style="left:0.00px;top:13.05px;width:127.00px;height:1.60px;background:#e6f0fa;"></div>
<div style="left:0.00px;top:14.65px;width:127.00px;height:1.60px;background:#c4d4e6;"></div>
<div class="lb"><div style="left:10.45px;top:20.12px;width:3.00px;height:3.20px;background:#7e7e7e;"></div><div style="left:14.05px;top:20.12px;width:3.50px;height:3.20px;background:#7e7e7e;"></div><div style="left:18.15px;top:20.12px;width:3.50px;height:3.20px;background:#7e7e7e;"></div><div style="left:22.25px;top:20.12px;width:3.00px;height:3.20px;background:#7e7e7e;"></div><div style="left:25.85px;top:20.12px;width:3.50px;height:3.20px;background:#7e7e7e;"></div></div>
<div style="left:45.30px;top:22.02px;width:69.20px;height:0.80px;background:#f3f0e8;"></div>
<div class="lb"><div style="left:118.00px;top:20.32px;width:2.00px;height:4.00px;background:#b4b4b4;"></div></div>
<div style="left:0.00px;top:27.00px;width:127.00px;height:1.60px;background:#e6f0fa;"></div>
<div style="left:0.00px;top:28.60px;width:127.00px;height:1.60px;background:#c4d4e6;"></div>
<div class="lb"><div style="left:10.20px;top:34.07px;width:3.50px;height:3.20px;background:#7e7e7e;"></div><div style="left:14.30px;top:34.07px;width:3.50px;height:3.20px;background:#7e7e7e;"></div><div style="left:18.40px;top:34.07px;width:3.50px;height:3.20px;background:#7e7e7e;"></div><div style="left:22.50px;top:34.07px;width:3.00px;height:3.20px;background:#7e7e7e;"></div><div style="left:26.10px;top:34.07px;width:3.50px;height:3.20px;background:#7e7e7e;"></div></div>
<div style="left:45.30px;top:35.98px;width:69.20px;height:0.80px;background:#f3f0e8;"></div>
<div class="lb"><div style="left:118.00px;top:34.27px;width:2.00px;height:4.00px;background:#b4b4b4;"></div></div>
<div style="left:0.00px;top:40.95px;width:127.00px;height:1.60px;background:#e6f0fa;"></div>
<div style="left:0.00px;top:42.55px;width:127.00px;height:1.60px;background:#c4d4e6;"></div>
<div class="lb"><div style="left:12.25px;top:48.02px;width:3.50px;height:3.20px;background:#7e7e7e;"></div><div style="left:16.35px;top:48.02px;width:3.50px;height:3.20px;background:#7e7e7e;"></div><div style="left:20.45px;top:48.02px;width:3.00px;height:3.20px;background:#7e7e7e;"></div><div style="left:24.05px;top:48.02px;width:3.50px;height:3.20px;background:#7e7e7e;"></div></div>
<div style="left:45.30px;top:49.92px;width:69.20px;height:0.80px;background:#f3f0e8;"></div>
<div class="lb"><div style="left:118.00px;top:48.22px;width:2.00px;height:4.00px;background:#b4b4b4;"></div></div>
<div style="left:0.00px;top:54.90px;width:127.00px;height:1.60px;background:#e6f0fa;"></div>
<div style="left:0.00px;top:56.50px;width:127.00px;height:1.60px;background:#c4d4e6;"></div>
<div class="lb"><div style="left:12.25px;top:61.97px;width:3.50px;height:3.20px;background:#7e7e7e;"></div><div style="left:16.35px;top:61.97px;width:3.50px;height:3.20px;background:#7e7e7e;"></div><div style="left:20.45px;top:61.97px;width:3.50px;height:3.20px;background:#7e7e7e;"></div><div style="left:24.55px;top:61.97px;width:3.00px;height:3.20px;background:#7e7e7e;"></div></div>
<div style="left:45.30px;top:63.88px;width:69.20px;height:0.80px;background:#f3f0e8;"></div>
<div class="lb"><div style="left:118.00px;top:62.17px;width:2.00px;height:4.00px;background:#b4b4b4;"></div></div>
<div style="left:0.00px;top:68.85px;width:127.00px;height:1.60px;background:#e6f0fa;"></div>
<div style="left:0.00px;top:70.45px;width:127.00px;height:1.60px;background:#c4d4e6;"></div>
<div class="lb"><div style="left:10.70px;top:75.93px;width:3.50px;height:3.20px;background:#7e7e7e;"></div><div style="left:14.80px;top:75.93px;width:3.50px;height:3.20px;background:#7e7e7e;"></div><div style="left:18.90px;top:75.93px;width:3.50px;height:3.20px;background:#7e7e7e;"></div><div style="left:23.00px;top:75.93px;width:3.50px;height:3.20px;background:#7e7e7e;"></div><div style="left:27.10px;top:75.93px;width:2.00px;height:3.20px;background:#7e7e7e;"></div></div>
<div style="left:45.30px;top:77.83px;width:69.20px;height:0.80px;background:#f3f0e8;"></div>
<div class="lb"><div style="left:118.00px;top:76.12px;width:2.00px;height:4.00px;background:#b4b4b4;"></div></div>
<div style="left:0.00px;top:82.80px;width:127.00px;height:1.60px;background:#e6f0fa;"></div>
<div style="left:0.00px;top:84.40px;width:127.00px;height:1.60px;background:#c4d4e6;"></div>
<div class="lb"><div style="left:10.70px;top:89.88px;width:3.50px;height:3.20px;background:#7e7e7e;"></div><div style="left:14.80px;top:89.88px;width:3.50px;height:3.20px;background:#7e7e7e;"></div><div style="left:18.90px;top:89.88px;width:3.50px;height:3.20px;background:#7e7e7e;"></div><div style="left:23.00px;top:89.88px;width:3.50px;height:3.20px;background:#7e7e7e;"></div><div style="left:27.10px;top:89.88px;width:2.00px;height:3.20px;background:#7e7e7e;"></div></div>
<div style="left:45.30px;top:91.77px;width:69.20px;height:0.80px;background:#f3f0e8;"></div>
<div class="lb"><div style="left:116.00px;top:90.07px;width:4.00px;height:4.00px;background:#b4b4b4;"></div></div>
<div style="left:0.00px;top:96.75px;width:127.00px;height:1.60px;background:#e6f0fa;"></div>
<div style="left:0.00px;top:98.35px;width:127.00px;height:1.60px;background:#c4d4e6;"></div>
<div class="lb"><div style="left:10.70px;top:103.83px;width:3.50px;height:3.20px;background:#7e7e7e;"></div><div style="left:14.80px;top:103.83px;width:3.50px;height:3.20px;background:#7e7e7e;"></div><div style="left:18.90px;top:103.83px;width:3.50px;height:3.20px;background:#7e7e7e;"></div><div style="left:23.00px;top:103.83px;width:3.50px;height:3.20px;background:#7e7e7e;"></div><div style="left:27.10px;top:103.83px;width:2.00px;height:3.20px;background:#7e7e7e;"></div></div>
<div style="left:45.30px;top:105.72px;width:69.20px;height:0.80px;background:#f3f0e8;"></div>
<div class="lb"><div style="left:114.00px;top:104.02px;width:6.00px;height:4.00px;background:#b4b4b4;"></div></div>
<div class="lb"><div style="left:46.6px;top:75.0px;width:4.2px;height:4.2px;border-radius:50%;background:#d6d4f2;border:1px solid #9696cc;"></div></div>
<div class="lb"><div style="left:45.30px;top:91.47px;width:14.50px;height:1.30px;background:#8aac86;"></div></div>
<div class="lb"><div style="left:56.7px;top:89.0px;width:4.2px;height:4.2px;border-radius:50%;background:#d2d2ea;border:1px solid #9696cc;"></div></div>
<div class="lb"><div style="left:45.30px;top:105.42px;width:11.10px;height:1.30px;background:#8aac86;"></div></div>
<div class="lb"><div style="left:53.3px;top:102.9px;width:4.2px;height:4.2px;border-radius:50%;background:#d0d0e6;border:1px solid #9696cc;"></div></div>
<div style="left:34.30px;top:0.00px;width:3.75px;height:112.60px;background:#eef8fc;"></div>
<div style="left:39.55px;top:0.00px;width:3.00px;height:112.60px;background:#f4f4fc;"></div>
<div style="left:38.05px;top:0.00px;width:1.50px;height:112.60px;background:#a8c2dc;"></div>
<div style="left:0.00px;top:112.60px;width:127.00px;height:89.00px;background:#e0e0e0;"></div>
<div class="lb"><div style="left:5.50px;top:115.80px;width:8.00px;height:2.40px;background:#888888;"></div><div style="left:15.10px;top:115.80px;width:9.00px;height:2.40px;background:#888888;"></div><div style="left:25.70px;top:115.80px;width:6.00px;height:2.40px;background:#888888;"></div><div style="left:33.30px;top:115.80px;width:4.20px;height:2.40px;background:#888888;"></div><div style="left:5.50px;top:119.60px;width:6.00px;height:2.40px;background:#888888;"></div><div style="left:13.10px;top:119.60px;width:8.00px;height:2.40px;background:#888888;"></div><div style="left:22.70px;top:119.60px;width:15.00px;height:2.40px;background:#888888;"></div><div style="left:39.30px;top:119.60px;width:8.00px;height:2.40px;background:#888888;"></div><div style="left:48.90px;top:119.60px;width:11.00px;height:2.40px;background:#888888;"></div><div style="left:61.50px;top:119.60px;width:9.00px;height:2.40px;background:#888888;"></div><div style="left:72.10px;top:119.60px;width:6.00px;height:2.40px;background:#888888;"></div><div style="left:79.70px;top:119.60px;width:15.00px;height:2.40px;background:#888888;"></div><div style="left:96.30px;top:119.60px;width:5.70px;height:2.40px;background:#888888;"></div></div>
<div class="lb"><div style="left:21.00px;top:189.60px;width:7.00px;height:1.80px;background:#b0b0b0;"></div><div style="left:78.00px;top:189.60px;width:7.00px;height:1.80px;background:#b8b8b8;"></div><div style="left:100.00px;top:189.60px;width:5.00px;height:1.80px;background:#c0c0c0;"></div></div>
<div style="left:4.50px;top:187.60px;width:1.50px;height:0.60px;background:#b0b0b0;"></div>
<div style="left:4.50px;top:177.10px;width:1.50px;height:0.60px;background:#b0b0b0;"></div>
<div style="left:4.50px;top:166.60px;width:1.50px;height:0.60px;background:#b0b0b0;"></div>
<div style="left:4.50px;top:156.10px;width:1.50px;height:0.60px;background:#b0b0b0;"></div>
<div style="left:4.50px;top:145.60px;width:1.50px;height:0.60px;background:#b0b0b0;"></div>
<div style="left:4.50px;top:135.10px;width:1.50px;height:0.60px;background:#b0b0b0;"></div>
<div style="left:5.40px;top:127.00px;width:0.90px;height:60.60px;background:#a8a8a8;"></div>
<div style="left:6.00px;top:187.40px;width:110.00px;height:0.90px;background:#8a8a8a;"></div>
<svg width="127" height="218" viewBox="0 0 127 218"><defs><linearGradient id="g04" gradientUnits="userSpaceOnUse" x1="6" y1="0" x2="116" y2="0"><stop offset="0.0000" stop-color="#1e2a80"/><stop offset="0.0636" stop-color="#2234a8"/><stop offset="0.1091" stop-color="#2244c0"/><stop offset="0.1500" stop-color="#1c56cc"/><stop offset="0.1782" stop-color="#1a66cc"/><stop offset="0.2068" stop-color="#1a7ebc"/><stop offset="0.2409" stop-color="#0f9a98"/><stop offset="0.2727" stop-color="#1aa874"/><stop offset="0.3182" stop-color="#38c040"/><stop offset="0.3636" stop-color="#80d840"/><stop offset="0.3909" stop-color="#b0e040"/><stop offset="0.4227" stop-color="#e8d030"/><stop offset="0.4682" stop-color="#f0a820"/><stop offset="0.5364" stop-color="#f08020"/><stop offset="0.6045" stop-color="#e85020"/><stop offset="0.6636" stop-color="#d42818"/><stop offset="0.7182" stop-color="#b81a14"/><stop offset="0.7818" stop-color="#a01414"/><stop offset="0.8545" stop-color="#861010"/><stop offset="0.9273" stop-color="#6e0e0e"/><stop offset="1.0000" stop-color="#560a0a"/></linearGradient><clipPath id="cg04"><rect x="0" y="0" width="127" height="186.60"/></clipPath><pattern id="stg04" width="2.6" height="20" patternUnits="userSpaceOnUse"><rect x="0" y="0" width="0.9" height="20" fill="#000" fill-opacity="0.10"/></pattern></defs><path d="M16.30 187.60 L16.30 187.60 L16.79 187.03 L17.49 186.31 L18.31 185.42 L19.17 184.33 L20.00 183.00 L20.70 181.40 L21.29 179.52 L21.83 177.38 L22.34 175.00 L22.81 172.40 L23.26 169.59 L23.70 166.60 L24.10 163.25 L24.46 159.50 L24.80 155.55 L25.14 151.59 L25.50 147.80 L25.90 144.40 L26.35 141.11 L26.84 137.72 L27.36 134.52 L27.88 131.78 L28.40 129.78 L28.90 128.80 L29.38 129.04 L29.84 130.33 L30.31 132.36 L30.78 134.83 L31.27 137.44 L31.80 139.90 L32.37 142.44 L32.97 145.33 L33.60 148.38 L34.24 151.34 L34.87 154.02 L35.50 156.20 L36.10 157.87 L36.68 159.21 L37.26 160.26 L37.86 161.07 L38.50 161.67 L39.20 162.10 L39.95 162.28 L40.74 162.14 L41.57 161.81 L42.45 161.37 L43.39 160.93 L44.40 160.60 L45.47 160.34 L46.59 160.05 L47.77 159.76 L49.03 159.51 L50.37 159.31 L51.80 159.20 L53.36 159.20 L55.05 159.28 L56.82 159.42 L58.63 159.59 L60.44 159.76 L62.20 159.90 L64.00 160.02 L65.87 160.14 L67.75 160.26 L69.54 160.38 L71.15 160.49 L72.50 160.60 L73.54 160.67 L74.34 160.71 L74.96 160.74 L75.47 160.79 L75.96 160.90 L76.50 161.10 L77.06 161.39 L77.58 161.76 L78.08 162.19 L78.55 162.65 L79.02 163.13 L79.50 163.60 L79.97 164.06 L80.41 164.52 L80.86 165.00 L81.31 165.51 L81.78 166.07 L82.30 166.70 L82.86 167.42 L83.45 168.21 L84.07 169.06 L84.70 169.93 L85.35 170.79 L86.00 171.60 L86.64 172.36 L87.26 173.09 L87.89 173.81 L88.56 174.54 L89.29 175.30 L90.10 176.10 L90.97 176.98 L91.89 177.92 L92.87 178.89 L93.92 179.85 L95.06 180.76 L96.30 181.60 L97.68 182.37 L99.20 183.10 L100.81 183.78 L102.46 184.41 L104.10 184.99 L105.70 185.50 L107.34 185.94 L109.08 186.31 L110.81 186.62 L112.44 186.89 L113.87 187.11 L115.00 187.30 L115.78 187.44 L116.28 187.52 L116.58 187.56 L116.75 187.58 L116.87 187.58 L117.00 187.60 L117.00 187.60 Z" fill="none" stroke="#ffffff" stroke-opacity="0.95" stroke-width="1.80" clip-path="url(#cg04)"/><path d="M16.30 187.60 L16.30 187.60 L16.79 187.03 L17.49 186.31 L18.31 185.42 L19.17 184.33 L20.00 183.00 L20.70 181.40 L21.29 179.52 L21.83 177.38 L22.34 175.00 L22.81 172.40 L23.26 169.59 L23.70 166.60 L24.10 163.25 L24.46 159.50 L24.80 155.55 L25.14 151.59 L25.50 147.80 L25.90 144.40 L26.35 141.11 L26.84 137.72 L27.36 134.52 L27.88 131.78 L28.40 129.78 L28.90 128.80 L29.38 129.04 L29.84 130.33 L30.31 132.36 L30.78 134.83 L31.27 137.44 L31.80 139.90 L32.37 142.44 L32.97 145.33 L33.60 148.38 L34.24 151.34 L34.87 154.02 L35.50 156.20 L36.10 157.87 L36.68 159.21 L37.26 160.26 L37.86 161.07 L38.50 161.67 L39.20 162.10 L39.95 162.28 L40.74 162.14 L41.57 161.81 L42.45 161.37 L43.39 160.93 L44.40 160.60 L45.47 160.34 L46.59 160.05 L47.77 159.76 L49.03 159.51 L50.37 159.31 L51.80 159.20 L53.36 159.20 L55.05 159.28 L56.82 159.42 L58.63 159.59 L60.44 159.76 L62.20 159.90 L64.00 160.02 L65.87 160.14 L67.75 160.26 L69.54 160.38 L71.15 160.49 L72.50 160.60 L73.54 160.67 L74.34 160.71 L74.96 160.74 L75.47 160.79 L75.96 160.90 L76.50 161.10 L77.06 161.39 L77.58 161.76 L78.08 162.19 L78.55 162.65 L79.02 163.13 L79.50 163.60 L79.97 164.06 L80.41 164.52 L80.86 165.00 L81.31 165.51 L81.78 166.07 L82.30 166.70 L82.86 167.42 L83.45 168.21 L84.07 169.06 L84.70 169.93 L85.35 170.79 L86.00 171.60 L86.64 172.36 L87.26 173.09 L87.89 173.81 L88.56 174.54 L89.29 175.30 L90.10 176.10 L90.97 176.98 L91.89 177.92 L92.87 178.89 L93.92 179.85 L95.06 180.76 L96.30 181.60 L97.68 182.37 L99.20 183.10 L100.81 183.78 L102.46 184.41 L104.10 184.99 L105.70 185.50 L107.34 185.94 L109.08 186.31 L110.81 186.62 L112.44 186.89 L113.87 187.11 L115.00 187.30 L115.78 187.44 L116.28 187.52 L116.58 187.56 L116.75 187.58 L116.87 187.58 L117.00 187.60 L117.00 187.60 Z" fill="url(#g04)"/><path d="M16.30 187.60 L16.30 187.60 L16.79 187.03 L17.49 186.31 L18.31 185.42 L19.17 184.33 L20.00 183.00 L20.70 181.40 L21.29 179.52 L21.83 177.38 L22.34 175.00 L22.81 172.40 L23.26 169.59 L23.70 166.60 L24.10 163.25 L24.46 159.50 L24.80 155.55 L25.14 151.59 L25.50 147.80 L25.90 144.40 L26.35 141.11 L26.84 137.72 L27.36 134.52 L27.88 131.78 L28.40 129.78 L28.90 128.80 L29.38 129.04 L29.84 130.33 L30.31 132.36 L30.78 134.83 L31.27 137.44 L31.80 139.90 L32.37 142.44 L32.97 145.33 L33.60 148.38 L34.24 151.34 L34.87 154.02 L35.50 156.20 L36.10 157.87 L36.68 159.21 L37.26 160.26 L37.86 161.07 L38.50 161.67 L39.20 162.10 L39.95 162.28 L40.74 162.14 L41.57 161.81 L42.45 161.37 L43.39 160.93 L44.40 160.60 L45.47 160.34 L46.59 160.05 L47.77 159.76 L49.03 159.51 L50.37 159.31 L51.80 159.20 L53.36 159.20 L55.05 159.28 L56.82 159.42 L58.63 159.59 L60.44 159.76 L62.20 159.90 L64.00 160.02 L65.87 160.14 L67.75 160.26 L69.54 160.38 L71.15 160.49 L72.50 160.60 L73.54 160.67 L74.34 160.71 L74.96 160.74 L75.47 160.79 L75.96 160.90 L76.50 161.10 L77.06 161.39 L77.58 161.76 L78.08 162.19 L78.55 162.65 L79.02 163.13 L79.50 163.60 L79.97 164.06 L80.41 164.52 L80.86 165.00 L81.31 165.51 L81.78 166.07 L82.30 166.70 L82.86 167.42 L83.45 168.21 L84.07 169.06 L84.70 169.93 L85.35 170.79 L86.00 171.60 L86.64 172.36 L87.26 173.09 L87.89 173.81 L88.56 174.54 L89.29 175.30 L90.10 176.10 L90.97 176.98 L91.89 177.92 L92.87 178.89 L93.92 179.85 L95.06 180.76 L96.30 181.60 L97.68 182.37 L99.20 183.10 L100.81 183.78 L102.46 184.41 L104.10 184.99 L105.70 185.50 L107.34 185.94 L109.08 186.31 L110.81 186.62 L112.44 186.89 L113.87 187.11 L115.00 187.30 L115.78 187.44 L116.28 187.52 L116.58 187.56 L116.75 187.58 L116.87 187.58 L117.00 187.60 L117.00 187.60 Z" fill="url(#stg04)"/></svg>
<div class="lb" style="left:0;top:0;width:127px;height:218px"><svg width="127" height="218" viewBox="0 0 127 218"><path d="M17.0 208.3 L21.0 204.6 L25.0 208.3 L24.2 212.8 L17.8 212.8 Z" fill="none" stroke="#a4a4a4" stroke-width="1"/><rect x="15.0" y="213.7" width="12" height="1.8" fill="#8e8e8e"/><rect x="59.2" y="204.8" width="8.5" height="8" fill="#d2e6f8"/><rect x="59.2" y="205.3" width="8.5" height="1" fill="#8cbce6"/><rect x="59.2" y="208.3" width="8.5" height="1" fill="#8cbce6"/><rect x="59.2" y="211.3" width="8.5" height="1" fill="#8cbce6"/><rect x="57.0" y="213.7" width="13" height="1.8" fill="#5a7496"/><circle cx="106.0" cy="206.8" r="2" fill="none" stroke="#b0b0b0" stroke-width="1"/><path d="M103.0 212.8 L103.5 209.8 L108.5 209.8 L109.0 212.8 Z" fill="none" stroke="#b0b0b0" stroke-width="1"/><rect x="102.5" y="213.7" width="7" height="1.8" fill="#9a9a9a"/></svg></div>
</div>
<div class="p" style="left:671px;top:3.0px;width:126px;height:218.0px;">
<div class="lb"><div style="left:9.80px;top:6.18px;width:3.50px;height:3.20px;background:#7e7e7e;"></div><div style="left:13.90px;top:6.18px;width:3.50px;height:3.20px;background:#7e7e7e;"></div><div style="left:18.00px;top:6.18px;width:3.50px;height:3.20px;background:#7e7e7e;"></div><div style="left:22.10px;top:6.18px;width:3.00px;height:3.20px;background:#7e7e7e;"></div><div style="left:25.70px;top:6.18px;width:3.50px;height:3.20px;background:#7e7e7e;"></div></div>
<div style="left:44.50px;top:8.07px;width:69.00px;height:0.80px;background:#f3f0e8;"></div>
<div class="lb"><div style="left:117.00px;top:6.38px;width:2.00px;height:4.00px;background:#b4b4b4;"></div></div>
<div style="left:0.00px;top:13.05px;width:126.00px;height:1.60px;background:#e6f0fa;"></div>
<div style="left:0.00px;top:14.65px;width:126.00px;height:1.60px;background:#c4d4e6;"></div>
<div class="lb"><div style="left:10.05px;top:20.12px;width:3.00px;height:3.20px;background:#7e7e7e;"></div><div style="left:13.65px;top:20.12px;width:3.50px;height:3.20px;background:#7e7e7e;"></div><div style="left:17.75px;top:20.12px;width:3.50px;height:3.20px;background:#7e7e7e;"></div><div style="left:21.85px;top:20.12px;width:3.00px;height:3.20px;background:#7e7e7e;"></div><div style="left:25.45px;top:20.12px;width:3.50px;height:3.20px;background:#7e7e7e;"></div></div>
<div style="left:44.50px;top:22.02px;width:69.00px;height:0.80px;background:#f3f0e8;"></div>
<div class="lb"><div style="left:117.00px;top:20.32px;width:2.00px;height:4.00px;background:#b4b4b4;"></div></div>
<div style="left:0.00px;top:27.00px;width:126.00px;height:1.60px;background:#e6f0fa;"></div>
<div style="left:0.00px;top:28.60px;width:126.00px;height:1.60px;background:#c4d4e6;"></div>
<div class="lb"><div style="left:9.80px;top:34.07px;width:3.50px;height:3.20px;background:#7e7e7e;"></div><div style="left:13.90px;top:34.07px;width:3.50px;height:3.20px;background:#7e7e7e;"></div><div style="left:18.00px;top:34.07px;width:3.50px;height:3.20px;background:#7e7e7e;"></div><div style="left:22.10px;top:34.07px;width:3.00px;height:3.20px;background:#7e7e7e;"></div><div style="left:25.70px;top:34.07px;width:3.50px;height:3.20px;background:#7e7e7e;"></div></div>
<div style="left:44.50px;top:35.98px;width:69.00px;height:0.80px;background:#f3f0e8;"></div>
<div class="lb"><div style="left:117.00px;top:34.27px;width:2.00px;height:4.00px;background:#b4b4b4;"></div></div>
<div style="left:0.00px;top:40.95px;width:126.00px;height:1.60px;background:#e6f0fa;"></div>
<div style="left:0.00px;top:42.55px;width:126.00px;height:1.60px;background:#c4d4e6;"></div>
<div class="lb"><div style="left:11.85px;top:48.02px;width:3.50px;height:3.20px;background:#7e7e7e;"></div><div style="left:15.95px;top:48.02px;width:3.50px;height:3.20px;background:#7e7e7e;"></div><div style="left:20.05px;top:48.02px;width:3.00px;height:3.20px;background:#7e7e7e;"></div><div style="left:23.65px;top:48.02px;width:3.50px;height:3.20px;background:#7e7e7e;"></div></div>
<div style="left:44.50px;top:49.92px;width:69.00px;height:0.80px;background:#f3f0e8;"></div>
<div class="lb"><div style="left:117.00px;top:48.22px;width:2.00px;height:4.00px;background:#b4b4b4;"></div></div>
<div style="left:0.00px;top:54.90px;width:126.00px;height:1.60px;background:#e6f0fa;"></div>
<div style="left:0.00px;top:56.50px;width:126.00px;height:1.60px;background:#c4d4e6;"></div>
<div class="lb"><div style="left:11.85px;top:61.97px;width:3.50px;height:3.20px;background:#7e7e7e;"></div><div style="left:15.95px;top:61.97px;width:3.50px;height:3.20px;background:#7e7e7e;"></div><div style="left:20.05px;top:61.97px;width:3.50px;height:3.20px;background:#7e7e7e;"></div><div style="left:24.15px;top:61.97px;width:3.00px;height:3.20px;background:#7e7e7e;"></div></div>
<div style="left:44.50px;top:63.88px;width:69.00px;height:0.80px;background:#f3f0e8;"></div>
<div class="lb"><div style="left:117.00px;top:62.17px;width:2.00px;height:4.00px;background:#b4b4b4;"></div></div>
<div style="left:0.00px;top:68.85px;width:126.00px;height:1.60px;background:#e6f0fa;"></div>
<div style="left:0.00px;top:70.45px;width:126.00px;height:1.60px;background:#c4d4e6;"></div>
<div class="lb"><div style="left:10.30px;top:75.93px;width:3.50px;height:3.20px;background:#7e7e7e;"></div><div style="left:14.40px;top:75.93px;width:3.50px;height:3.20px;background:#7e7e7e;"></div><div style="left:18.50px;top:75.93px;width:3.50px;height:3.20px;background:#7e7e7e;"></div><div style="left:22.60px;top:75.93px;width:3.50px;height:3.20px;background:#7e7e7e;"></div><div style="left:26.70px;top:75.93px;width:2.00px;height:3.20px;background:#7e7e7e;"></div></div>
<div style="left:44.50px;top:77.83px;width:69.00px;height:0.80px;background:#f3f0e8;"></div>
<div class="lb"><div style="left:117.00px;top:76.12px;width:2.00px;height:4.00px;background:#b4b4b4;"></div></div>
<div style="left:0.00px;top:82.80px;width:126.00px;height:1.60px;background:#e6f0fa;"></div>
<div style="left:0.00px;top:84.40px;width:126.00px;height:1.60px;background:#c4d4e6;"></div>
<div class="lb"><div style="left:10.30px;top:89.88px;width:3.50px;height:3.20px;background:#7e7e7e;"></div><div style="left:14.40px;top:89.88px;width:3.50px;height:3.20px;background:#7e7e7e;"></div><div style="left:18.50px;top:89.88px;width:3.50px;height:3.20px;background:#7e7e7e;"></div><div style="left:22.60px;top:89.88px;width:3.50px;height:3.20px;background:#7e7e7e;"></div><div style="left:26.70px;top:89.88px;width:2.00px;height:3.20px;background:#7e7e7e;"></div></div>
<div style="left:44.50px;top:91.77px;width:69.00px;height:0.80px;background:#f3f0e8;"></div>
<div class="lb"><div style="left:115.00px;top:90.07px;width:4.00px;height:4.00px;background:#b4b4b4;"></div></div>
<div style="left:0.00px;top:96.75px;width:126.00px;height:1.60px;background:#e6f0fa;"></div>
<div style="left:0.00px;top:98.35px;width:126.00px;height:1.60px;background:#c4d4e6;"></div>
<div class="lb"><div style="left:10.30px;top:103.83px;width:3.50px;height:3.20px;background:#7e7e7e;"></div><div style="left:14.40px;top:103.83px;width:3.50px;height:3.20px;background:#7e7e7e;"></div><div style="left:18.50px;top:103.83px;width:3.50px;height:3.20px;background:#7e7e7e;"></div><div style="left:22.60px;top:103.83px;width:3.50px;height:3.20px;background:#7e7e7e;"></div><div style="left:26.70px;top:103.83px;width:2.00px;height:3.20px;background:#7e7e7e;"></div></div>
<div style="left:44.50px;top:105.72px;width:69.00px;height:0.80px;background:#f3f0e8;"></div>
<div class="lb"><div style="left:113.00px;top:104.02px;width:6.00px;height:4.00px;background:#b4b4b4;"></div></div>
<div class="lb"><div style="left:45.3px;top:75.0px;width:4.2px;height:4.2px;border-radius:50%;background:#d6d4f2;border:1px solid #9696cc;"></div></div>
<div class="lb"><div style="left:44.50px;top:91.47px;width:15.20px;height:1.30px;background:#8aac86;"></div></div>
<div class="lb"><div style="left:56.6px;top:89.0px;width:4.2px;height:4.2px;border-radius:50%;background:#d2d2ea;border:1px solid #9696cc;"></div></div>
<div class="lb"><div style="left:44.50px;top:105.42px;width:11.10px;height:1.30px;background:#8aac86;"></div></div>
<div class="lb"><div style="left:52.5px;top:102.9px;width:4.2px;height:4.2px;border-radius:50%;background:#d0d0e6;border:1px solid #9696cc;"></div></div>
<div style="left:33.50px;top:0.00px;width:3.75px;height:112.60px;background:#eef8fc;"></div>
<div style="left:38.75px;top:0.00px;width:3.00px;height:112.60px;background:#f4f4fc;"></div>
<div style="left:37.25px;top:0.00px;width:1.50px;height:112.60px;background:#a8c2dc;"></div>
<div style="left:0.00px;top:112.60px;width:126.00px;height:89.00px;background:#e0e0e0;"></div>
<div class="lb"><div style="left:5.50px;top:115.80px;width:13.00px;height:2.40px;background:#888888;"></div><div style="left:20.10px;top:115.80px;width:9.00px;height:2.40px;background:#888888;"></div><div style="left:30.70px;top:115.80px;width:2.30px;height:2.40px;background:#888888;"></div><div style="left:5.50px;top:119.60px;width:13.00px;height:2.40px;background:#888888;"></div><div style="left:20.10px;top:119.60px;width:9.00px;height:2.40px;background:#888888;"></div><div style="left:30.70px;top:119.60px;width:13.00px;height:2.40px;background:#888888;"></div><div style="left:45.30px;top:119.60px;width:6.00px;height:2.40px;background:#888888;"></div><div style="left:52.90px;top:119.60px;width:6.00px;height:2.40px;background:#888888;"></div><div style="left:60.50px;top:119.60px;width:9.00px;height:2.40px;background:#888888;"></div><div style="left:71.10px;top:119.60px;width:13.00px;height:2.40px;background:#888888;"></div><div style="left:85.70px;top:119.60px;width:13.00px;height:2.40px;background:#888888;"></div></div>
<div class="lb"><div style="left:21.00px;top:189.60px;width:7.00px;height:1.80px;background:#b0b0b0;"></div><div style="left:78.00px;top:189.60px;width:7.00px;height:1.80px;background:#b8b8b8;"></div><div style="left:100.00px;top:189.60px;width:5.00px;height:1.80px;background:#c0c0c0;"></div></div>
<div style="left:4.50px;top:187.60px;width:1.50px;height:0.60px;background:#b0b0b0;"></div>
<div style="left:4.50px;top:177.10px;width:1.50px;height:0.60px;background:#b0b0b0;"></div>
<div style="left:4.50px;top:166.60px;width:1.50px;height:0.60px;background:#b0b0b0;"></div>
<div style="left:4.50px;top:156.10px;width:1.50px;height:0.60px;background:#b0b0b0;"></div>
<div style="left:4.50px;top:145.60px;width:1.50px;height:0.60px;background:#b0b0b0;"></div>
<div style="left:4.50px;top:135.10px;width:1.50px;height:0.60px;background:#b0b0b0;"></div>
<div style="left:5.40px;top:127.00px;width:0.90px;height:60.60px;background:#a8a8a8;"></div>
<div style="left:6.00px;top:187.40px;width:110.00px;height:0.90px;background:#8a8a8a;"></div>
<svg width="126" height="218" viewBox="0 0 126 218"><defs><linearGradient id="g05" gradientUnits="userSpaceOnUse" x1="6" y1="0" x2="116" y2="0"><stop offset="0.0000" stop-color="#1e2a80"/><stop offset="0.0636" stop-color="#2234a8"/><stop offset="0.1091" stop-color="#2244c0"/><stop offset="0.1500" stop-color="#1c56cc"/><stop offset="0.1782" stop-color="#1a66cc"/><stop offset="0.2068" stop-color="#1a7ebc"/><stop offset="0.2409" stop-color="#0f9a98"/><stop offset="0.2727" stop-color="#1aa874"/><stop offset="0.3182" stop-color="#38c040"/><stop offset="0.3636" stop-color="#80d840"/><stop offset="0.3909" stop-color="#b0e040"/><stop offset="0.4227" stop-color="#e8d030"/><stop offset="0.4682" stop-color="#f0a820"/><stop offset="0.5364" stop-color="#f08020"/><stop offset="0.6045" stop-color="#e85020"/><stop offset="0.6636" stop-color="#d42818"/><stop offset="0.7182" stop-color="#b81a14"/><stop offset="0.7818" stop-color="#a01414"/><stop offset="0.8545" stop-color="#861010"/><stop offset="0.9273" stop-color="#6e0e0e"/><stop offset="1.0000" stop-color="#560a0a"/></linearGradient><clipPath id="cg05"><rect x="0" y="0" width="126" height="186.60"/></clipPath><pattern id="stg05" width="2.6" height="20" patternUnits="userSpaceOnUse"><rect x="0" y="0" width="0.9" height="20" fill="#000" fill-opacity="0.10"/></pattern></defs><path d="M14.80 187.60 L14.80 187.60 L15.22 187.03 L15.81 186.31 L16.51 185.42 L17.24 184.33 L17.93 183.00 L18.50 181.40 L18.95 179.57 L19.34 177.54 L19.69 175.28 L20.02 172.73 L20.35 169.85 L20.70 166.60 L21.07 162.66 L21.46 158.00 L21.84 153.02 L22.22 148.09 L22.57 143.58 L22.90 139.90 L23.18 136.87 L23.42 134.17 L23.64 131.89 L23.87 130.17 L24.11 129.10 L24.40 128.80 L24.74 129.42 L25.11 130.89 L25.51 133.02 L25.91 135.61 L26.31 138.47 L26.70 141.40 L27.06 144.60 L27.41 148.25 L27.76 152.18 L28.12 156.17 L28.49 160.04 L28.90 163.60 L29.33 166.97 L29.79 170.34 L30.26 173.59 L30.75 176.60 L31.26 179.24 L31.80 181.40 L32.34 183.02 L32.89 184.18 L33.46 184.97 L34.07 185.50 L34.74 185.84 L35.50 186.10 L36.35 186.18 L37.28 186.00 L38.27 185.63 L39.31 185.17 L40.39 184.70 L41.50 184.30 L42.65 183.96 L43.86 183.62 L45.11 183.27 L46.38 182.90 L47.65 182.51 L48.90 182.10 L50.13 181.67 L51.37 181.21 L52.60 180.74 L53.83 180.25 L55.07 179.74 L56.30 179.20 L57.55 178.61 L58.82 177.97 L60.09 177.31 L61.34 176.66 L62.55 176.04 L63.70 175.50 L64.79 175.01 L65.83 174.56 L66.84 174.14 L67.80 173.77 L68.72 173.45 L69.60 173.20 L70.40 173.01 L71.12 172.87 L71.79 172.79 L72.47 172.77 L73.19 172.81 L74.00 172.90 L74.89 173.05 L75.83 173.24 L76.81 173.50 L77.84 173.82 L78.90 174.22 L80.00 174.70 L81.15 175.29 L82.36 176.00 L83.61 176.79 L84.88 177.61 L86.15 178.42 L87.40 179.20 L88.62 179.96 L89.81 180.73 L91.01 181.49 L92.23 182.24 L93.49 182.95 L94.80 183.60 L96.17 184.20 L97.57 184.78 L99.01 185.31 L100.50 185.80 L102.02 186.23 L103.60 186.60 L105.36 186.89 L107.33 187.12 L109.35 187.29 L111.24 187.41 L112.85 187.51 L114.00 187.60 L114.00 187.60 Z" fill="none" stroke="#ffffff" stroke-opacity="0.95" stroke-width="1.80" clip-path="url(#cg05)"/><path d="M14.80 187.60 L14.80 187.60 L15.22 187.03 L15.81 186.31 L16.51 185.42 L17.24 184.33 L17.93 183.00 L18.50 181.40 L18.95 179.57 L19.34 177.54 L19.69 175.28 L20.02 172.73 L20.35 169.85 L20.70 166.60 L21.07 162.66 L21.46 158.00 L21.84 153.02 L22.22 148.09 L22.57 143.58 L22.90 139.90 L23.18 136.87 L23.42 134.17 L23.64 131.89 L23.87 130.17 L24.11 129.10 L24.40 128.80 L24.74 129.42 L25.11 130.89 L25.51 133.02 L25.91 135.61 L26.31 138.47 L26.70 141.40 L27.06 144.60 L27.41 148.25 L27.76 152.18 L28.12 156.17 L28.49 160.04 L28.90 163.60 L29.33 166.97 L29.79 170.34 L30.26 173.59 L30.75 176.60 L31.26 179.24 L31.80 181.40 L32.34 183.02 L32.89 184.18 L33.46 184.97 L34.07 185.50 L34.74 185.84 L35.50 186.10 L36.35 186.18 L37.28 186.00 L38.27 185.63 L39.31 185.17 L40.39 184.70 L41.50 184.30 L42.65 183.96 L43.86 183.62 L45.11 183.27 L46.38 182.90 L47.65 182.51 L48.90 182.10 L50.13 181.67 L51.37 181.21 L52.60 180.74 L53.83 180.25 L55.07 179.74 L56.30 179.20 L57.55 178.61 L58.82 177.97 L60.09 177.31 L61.34 176.66 L62.55 176.04 L63.70 175.50 L64.79 175.01 L65.83 174.56 L66.84 174.14 L67.80 173.77 L68.72 173.45 L69.60 173.20 L70.40 173.01 L71.12 172.87 L71.79 172.79 L72.47 172.77 L73.19 172.81 L74.00 172.90 L74.89 173.05 L75.83 173.24 L76.81 173.50 L77.84 173.82 L78.90 174.22 L80.00 174.70 L81.15 175.29 L82.36 176.00 L83.61 176.79 L84.88 177.61 L86.15 178.42 L87.40 179.20 L88.62 179.96 L89.81 180.73 L91.01 181.49 L92.23 182.24 L93.49 182.95 L94.80 183.60 L96.17 184.20 L97.57 184.78 L99.01 185.31 L100.50 185.80 L102.02 186.23 L103.60 186.60 L105.36 186.89 L107.33 187.12 L109.35 187.29 L111.24 187.41 L112.85 187.51 L114.00 187.60 L114.00 187.60 Z" fill="url(#g05)"/><path d="M14.80 187.60 L14.80 187.60 L15.22 187.03 L15.81 186.31 L16.51 185.42 L17.24 184.33 L17.93 183.00 L18.50 181.40 L18.95 179.57 L19.34 177.54 L19.69 175.28 L20.02 172.73 L20.35 169.85 L20.70 166.60 L21.07 162.66 L21.46 158.00 L21.84 153.02 L22.22 148.09 L22.57 143.58 L22.90 139.90 L23.18 136.87 L23.42 134.17 L23.64 131.89 L23.87 130.17 L24.11 129.10 L24.40 128.80 L24.74 129.42 L25.11 130.89 L25.51 133.02 L25.91 135.61 L26.31 138.47 L26.70 141.40 L27.06 144.60 L27.41 148.25 L27.76 152.18 L28.12 156.17 L28.49 160.04 L28.90 163.60 L29.33 166.97 L29.79 170.34 L30.26 173.59 L30.75 176.60 L31.26 179.24 L31.80 181.40 L32.34 183.02 L32.89 184.18 L33.46 184.97 L34.07 185.50 L34.74 185.84 L35.50 186.10 L36.35 186.18 L37.28 186.00 L38.27 185.63 L39.31 185.17 L40.39 184.70 L41.50 184.30 L42.65 183.96 L43.86 183.62 L45.11 183.27 L46.38 182.90 L47.65 182.51 L48.90 182.10 L50.13 181.67 L51.37 181.21 L52.60 180.74 L53.83 180.25 L55.07 179.74 L56.30 179.20 L57.55 178.61 L58.82 177.97 L60.09 177.31 L61.34 176.66 L62.55 176.04 L63.70 175.50 L64.79 175.01 L65.83 174.56 L66.84 174.14 L67.80 173.77 L68.72 173.45 L69.60 173.20 L70.40 173.01 L71.12 172.87 L71.79 172.79 L72.47 172.77 L73.19 172.81 L74.00 172.90 L74.89 173.05 L75.83 173.24 L76.81 173.50 L77.84 173.82 L78.90 174.22 L80.00 174.70 L81.15 175.29 L82.36 176.00 L83.61 176.79 L84.88 177.61 L86.15 178.42 L87.40 179.20 L88.62 179.96 L89.81 180.73 L91.01 181.49 L92.23 182.24 L93.49 182.95 L94.80 183.60 L96.17 184.20 L97.57 184.78 L99.01 185.31 L100.50 185.80 L102.02 186.23 L103.60 186.60 L105.36 186.89 L107.33 187.12 L109.35 187.29 L111.24 187.41 L112.85 187.51 L114.00 187.60 L114.00 187.60 Z" fill="url(#stg05)"/></svg>
<div class="lb" style="left:0;top:0;width:126px;height:218px"><svg width="126" height="218" viewBox="0 0 126 218"><path d="M17.0 208.3 L21.0 204.6 L25.0 208.3 L24.2 212.8 L17.8 212.8 Z" fill="none" stroke="#a4a4a4" stroke-width="1"/><rect x="15.0" y="213.7" width="12" height="1.8" fill="#8e8e8e"/><rect x="58.8" y="204.8" width="8.5" height="8" fill="#d2e6f8"/><rect x="58.8" y="205.3" width="8.5" height="1" fill="#8cbce6"/><rect x="58.8" y="208.3" width="8.5" height="1" fill="#8cbce6"/><rect x="58.8" y="211.3" width="8.5" height="1" fill="#8cbce6"/><rect x="56.5" y="213.7" width="13" height="1.8" fill="#5a7496"/><circle cx="105.0" cy="206.8" r="2" fill="none" stroke="#b0b0b0" stroke-width="1"/><path d="M102.0 212.8 L102.5 209.8 L107.5 209.8 L108.0 212.8 Z" fill="none" stroke="#b0b0b0" stroke-width="1"/><rect x="101.5" y="213.7" width="7" height="1.8" fill="#9a9a9a"/></svg></div>
</div>
<div class="p" style="left:4px;top:242.5px;width:125px;height:223.5px;">
<div class="lb"><div style="left:9.45px;top:6.30px;width:3.50px;height:3.20px;background:#7e7e7e;"></div><div style="left:13.55px;top:6.30px;width:3.50px;height:3.20px;background:#7e7e7e;"></div><div style="left:17.65px;top:6.30px;width:3.50px;height:3.20px;background:#7e7e7e;"></div><div style="left:21.75px;top:6.30px;width:3.00px;height:3.20px;background:#7e7e7e;"></div><div style="left:25.35px;top:6.30px;width:3.50px;height:3.20px;background:#7e7e7e;"></div></div>
<div style="left:43.80px;top:8.20px;width:68.70px;height:0.80px;background:#f3f0e8;"></div>
<div class="lb"><div style="left:116.00px;top:6.50px;width:2.00px;height:4.00px;background:#b4b4b4;"></div></div>
<div style="left:0.00px;top:13.40px;width:125.00px;height:1.60px;background:#e6f0fa;"></div>
<div style="left:0.00px;top:15.00px;width:125.00px;height:1.60px;background:#c4d4e6;"></div>
<div class="lb"><div style="left:9.70px;top:20.70px;width:3.00px;height:3.20px;background:#7e7e7e;"></div><div style="left:13.30px;top:20.70px;width:3.50px;height:3.20px;background:#7e7e7e;"></div><div style="left:17.40px;top:20.70px;width:3.50px;height:3.20px;background:#7e7e7e;"></div><div style="left:21.50px;top:20.70px;width:3.00px;height:3.20px;background:#7e7e7e;"></div><div style="left:25.10px;top:20.70px;width:3.50px;height:3.20px;background:#7e7e7e;"></div></div>
<div style="left:43.80px;top:22.60px;width:68.70px;height:0.80px;background:#f3f0e8;"></div>
<div class="lb"><div style="left:116.00px;top:20.90px;width:2.00px;height:4.00px;background:#b4b4b4;"></div></div>
<div style="left:0.00px;top:27.80px;width:125.00px;height:1.60px;background:#e6f0fa;"></div>
<div style="left:0.00px;top:29.40px;width:125.00px;height:1.60px;background:#c4d4e6;"></div>
<div class="lb"><div style="left:9.45px;top:35.10px;width:3.50px;height:3.20px;background:#7e7e7e;"></div><div style="left:13.55px;top:35.10px;width:3.50px;height:3.20px;background:#7e7e7e;"></div><div style="left:17.65px;top:35.10px;width:3.50px;height:3.20px;background:#7e7e7e;"></div><div style="left:21.75px;top:35.10px;width:3.00px;height:3.20px;background:#7e7e7e;"></div><div style="left:25.35px;top:35.10px;width:3.50px;height:3.20px;background:#7e7e7e;"></div></div>
<div style="left:43.80px;top:37.00px;width:68.70px;height:0.80px;background:#f3f0e8;"></div>
<div class="lb"><div style="left:116.00px;top:35.30px;width:2.00px;height:4.00px;background:#b4b4b4;"></div></div>
<div style="left:0.00px;top:42.20px;width:125.00px;height:1.60px;background:#e6f0fa;"></div>
<div style="left:0.00px;top:43.80px;width:125.00px;height:1.60px;background:#c4d4e6;"></div>
<div class="lb"><div style="left:11.50px;top:49.50px;width:3.50px;height:3.20px;background:#7e7e7e;"></div><div style="left:15.60px;top:49.50px;width:3.50px;height:3.20px;background:#7e7e7e;"></div><div style="left:19.70px;top:49.50px;width:3.00px;height:3.20px;background:#7e7e7e;"></div><div style="left:23.30px;top:49.50px;width:3.50px;height:3.20px;background:#7e7e7e;"></div></div>
<div style="left:43.80px;top:51.40px;width:68.70px;height:0.80px;background:#f3f0e8;"></div>
<div class="lb"><div style="left:116.00px;top:49.70px;width:2.00px;height:4.00px;background:#b4b4b4;"></div></div>
<div style="left:0.00px;top:56.60px;width:125.00px;height:1.60px;background:#e6f0fa;"></div>
<div style="left:0.00px;top:58.20px;width:125.00px;height:1.60px;background:#c4d4e6;"></div>
<div class="lb"><div style="left:11.50px;top:63.90px;width:3.50px;height:3.20px;background:#7e7e7e;"></div><div style="left:15.60px;top:63.90px;width:3.50px;height:3.20px;background:#7e7e7e;"></div><div style="left:19.70px;top:63.90px;width:3.50px;height:3.20px;background:#7e7e7e;"></div><div style="left:23.80px;top:63.90px;width:3.00px;height:3.20px;background:#7e7e7e;"></div></div>
<div style="left:43.80px;top:65.80px;width:68.70px;height:0.80px;background:#f3f0e8;"></div>
<div class="lb"><div style="left:116.00px;top:64.10px;width:2.00px;height:4.00px;background:#b4b4b4;"></div></div>
<div style="left:0.00px;top:71.00px;width:125.00px;height:1.60px;background:#e6f0fa;"></div>
<div style="left:0.00px;top:72.60px;width:125.00px;height:1.60px;background:#c4d4e6;"></div>
<div class="lb"><div style="left:9.95px;top:78.30px;width:3.50px;height:3.20px;background:#7e7e7e;"></div><div style="left:14.05px;top:78.30px;width:3.50px;height:3.20px;background:#7e7e7e;"></div><div style="left:18.15px;top:78.30px;width:3.50px;height:3.20px;background:#7e7e7e;"></div><div style="left:22.25px;top:78.30px;width:3.50px;height:3.20px;background:#7e7e7e;"></div><div style="left:26.35px;top:78.30px;width:2.00px;height:3.20px;background:#7e7e7e;"></div></div>
<div style="left:43.80px;top:80.20px;width:68.70px;height:0.80px;background:#f3f0e8;"></div>
<div class="lb"><div style="left:116.00px;top:78.50px;width:2.00px;height:4.00px;background:#b4b4b4;"></div></div>
<div style="left:0.00px;top:85.40px;width:125.00px;height:1.60px;background:#e6f0fa;"></div>
<div style="left:0.00px;top:87.00px;width:125.00px;height:1.60px;background:#c4d4e6;"></div>
<div class="lb"><div style="left:9.95px;top:92.70px;width:3.50px;height:3.20px;background:#7e7e7e;"></div><div style="left:14.05px;top:92.70px;width:3.50px;height:3.20px;background:#7e7e7e;"></div><div style="left:18.15px;top:92.70px;width:3.50px;height:3.20px;background:#7e7e7e;"></div><div style="left:22.25px;top:92.70px;width:3.50px;height:3.20px;background:#7e7e7e;"></div><div style="left:26.35px;top:92.70px;width:2.00px;height:3.20px;background:#7e7e7e;"></div></div>
<div style="left:43.80px;top:94.60px;width:68.70px;height:0.80px;background:#f3f0e8;"></div>
<div class="lb"><div style="left:114.00px;top:92.90px;width:4.00px;height:4.00px;background:#b4b4b4;"></div></div>
<div style="left:0.00px;top:99.80px;width:125.00px;height:1.60px;background:#e6f0fa;"></div>
<div style="left:0.00px;top:101.40px;width:125.00px;height:1.60px;background:#c4d4e6;"></div>
<div class="lb"><div style="left:9.95px;top:107.10px;width:3.50px;height:3.20px;background:#7e7e7e;"></div><div style="left:14.05px;top:107.10px;width:3.50px;height:3.20px;background:#7e7e7e;"></div><div style="left:18.15px;top:107.10px;width:3.50px;height:3.20px;background:#7e7e7e;"></div><div style="left:22.25px;top:107.10px;width:3.50px;height:3.20px;background:#7e7e7e;"></div><div style="left:26.35px;top:107.10px;width:2.00px;height:3.20px;background:#7e7e7e;"></div></div>
<div style="left:43.80px;top:109.00px;width:68.70px;height:0.80px;background:#f3f0e8;"></div>
<div class="lb"><div style="left:112.00px;top:107.30px;width:6.00px;height:4.00px;background:#b4b4b4;"></div></div>
<div style="left:44.00px;top:22.40px;width:24.00px;height:1.20px;background:#9acf8a;"></div>
<div style="left:44.00px;top:51.20px;width:3.00px;height:1.20px;background:#aca494;"></div>
<div class="lb"><div style="left:43.5px;top:77.4px;width:4.2px;height:4.2px;border-radius:50%;background:#d6d4f2;border:1px solid #9696cc;"></div></div>
<div class="lb"><div style="left:43.80px;top:94.30px;width:14.60px;height:1.30px;background:#8aac86;"></div></div>
<div class="lb"><div style="left:55.3px;top:91.8px;width:4.2px;height:4.2px;border-radius:50%;background:#d2d2ea;border:1px solid #9696cc;"></div></div>
<div class="lb"><div style="left:43.80px;top:108.70px;width:11.20px;height:1.30px;background:#8aac86;"></div></div>
<div class="lb"><div style="left:51.9px;top:106.2px;width:4.2px;height:4.2px;border-radius:50%;background:#d0d0e6;border:1px solid #9696cc;"></div></div>
<div style="left:32.80px;top:0.00px;width:3.75px;height:116.00px;background:#eef8fc;"></div>
<div style="left:38.05px;top:0.00px;width:3.00px;height:116.00px;background:#f4f4fc;"></div>
<div style="left:36.55px;top:0.00px;width:1.50px;height:116.00px;background:#a8c2dc;"></div>
<div style="left:0.00px;top:116.00px;width:125.00px;height:90.50px;background:#e0e0e0;"></div>
<div class="lb"><div style="left:5.50px;top:118.60px;width:13.00px;height:2.40px;background:#888888;"></div><div style="left:20.10px;top:118.60px;width:6.00px;height:2.40px;background:#888888;"></div><div style="left:27.70px;top:118.60px;width:11.00px;height:2.40px;background:#888888;"></div><div style="left:40.30px;top:118.60px;width:11.00px;height:2.40px;background:#888888;"></div><div style="left:52.90px;top:118.60px;width:13.00px;height:2.40px;background:#888888;"></div><div style="left:67.50px;top:118.60px;width:6.00px;height:2.40px;background:#888888;"></div><div style="left:75.10px;top:118.60px;width:2.90px;height:2.40px;background:#888888;"></div><div style="left:5.50px;top:123.00px;width:11.00px;height:2.40px;background:#888888;"></div><div style="left:18.10px;top:123.00px;width:13.00px;height:2.40px;background:#888888;"></div><div style="left:32.70px;top:123.00px;width:8.00px;height:2.40px;background:#888888;"></div><div style="left:42.30px;top:123.00px;width:11.00px;height:2.40px;background:#888888;"></div><div style="left:54.90px;top:123.00px;width:11.00px;height:2.40px;background:#888888;"></div><div style="left:67.50px;top:123.00px;width:15.00px;height:2.40px;background:#888888;"></div><div style="left:84.10px;top:123.00px;width:9.00px;height:2.40px;background:#888888;"></div><div style="left:94.70px;top:123.00px;width:4.30px;height:2.40px;background:#888888;"></div></div>
<div class="lb"><div style="left:21.00px;top:194.70px;width:7.00px;height:1.80px;background:#b0b0b0;"></div><div style="left:78.00px;top:194.70px;width:7.00px;height:1.80px;background:#b8b8b8;"></div><div style="left:100.00px;top:194.70px;width:5.00px;height:1.80px;background:#c0c0c0;"></div></div>
<div style="left:4.50px;top:192.70px;width:1.50px;height:0.60px;background:#b0b0b0;"></div>
<div style="left:4.50px;top:182.20px;width:1.50px;height:0.60px;background:#b0b0b0;"></div>
<div style="left:4.50px;top:171.70px;width:1.50px;height:0.60px;background:#b0b0b0;"></div>
<div style="left:4.50px;top:161.20px;width:1.50px;height:0.60px;background:#b0b0b0;"></div>
<div style="left:4.50px;top:150.70px;width:1.50px;height:0.60px;background:#b0b0b0;"></div>
<div style="left:4.50px;top:140.20px;width:1.50px;height:0.60px;background:#b0b0b0;"></div>
<div style="left:5.40px;top:129.50px;width:0.90px;height:63.20px;background:#a8a8a8;"></div>
<div style="left:6.00px;top:192.50px;width:110.00px;height:0.90px;background:#8a8a8a;"></div>
<svg width="125" height="223" viewBox="0 0 125 223"><defs><linearGradient id="g10" gradientUnits="userSpaceOnUse" x1="6" y1="0" x2="116" y2="0"><stop offset="0.0000" stop-color="#1e2a80"/><stop offset="0.0636" stop-color="#2234a8"/><stop offset="0.1091" stop-color="#2244c0"/><stop offset="0.1500" stop-color="#1c56cc"/><stop offset="0.1782" stop-color="#1a66cc"/><stop offset="0.2068" stop-color="#1a7ebc"/><stop offset="0.2409" stop-color="#0f9a98"/><stop offset="0.2727" stop-color="#1aa874"/><stop offset="0.3182" stop-color="#38c040"/><stop offset="0.3636" stop-color="#80d840"/><stop offset="0.3909" stop-color="#b0e040"/><stop offset="0.4227" stop-color="#e8d030"/><stop offset="0.4682" stop-color="#f0a820"/><stop offset="0.5364" stop-color="#f08020"/><stop offset="0.6045" stop-color="#e85020"/><stop offset="0.6636" stop-color="#d42818"/><stop offset="0.7182" stop-color="#b81a14"/><stop offset="0.7818" stop-color="#a01414"/><stop offset="0.8545" stop-color="#861010"/><stop offset="0.9273" stop-color="#6e0e0e"/><stop offset="1.0000" stop-color="#560a0a"/></linearGradient><clipPath id="cg10"><rect x="0" y="0" width="125" height="191.70"/></clipPath><pattern id="stg10" width="2.6" height="20" patternUnits="userSpaceOnUse"><rect x="0" y="0" width="0.9" height="20" fill="#000" fill-opacity="0.10"/></pattern></defs><path d="M11.80 192.70 L11.80 192.70 L12.30 192.33 L13.00 191.89 L13.82 191.34 L14.69 190.60 L15.54 189.61 L16.30 188.30 L16.97 186.74 L17.62 184.99 L18.25 182.99 L18.86 180.68 L19.44 178.00 L20.00 174.90 L20.54 171.02 L21.06 166.33 L21.56 161.27 L22.03 156.29 L22.48 151.82 L22.90 148.30 L23.28 145.63 L23.61 143.43 L23.92 141.75 L24.23 140.61 L24.55 140.05 L24.90 140.10 L25.28 140.94 L25.68 142.57 L26.09 144.77 L26.51 147.34 L26.95 150.06 L27.40 152.70 L27.87 155.49 L28.37 158.63 L28.87 161.92 L29.39 165.14 L29.90 168.07 L30.40 170.50 L30.86 172.52 L31.29 174.34 L31.71 175.87 L32.17 177.03 L32.68 177.73 L33.30 177.90 L34.03 177.37 L34.84 176.17 L35.71 174.51 L36.63 172.62 L37.57 170.71 L38.50 169.00 L39.43 167.39 L40.36 165.69 L41.31 163.97 L42.30 162.30 L43.32 160.75 L44.40 159.40 L45.55 158.29 L46.76 157.37 L48.01 156.57 L49.28 155.82 L50.55 155.06 L51.80 154.20 L53.05 153.22 L54.32 152.18 L55.59 151.11 L56.84 150.08 L58.05 149.12 L59.20 148.30 L60.27 147.57 L61.27 146.89 L62.24 146.29 L63.18 145.81 L64.13 145.47 L65.10 145.30 L66.10 145.37 L67.11 145.65 L68.12 146.07 L69.13 146.57 L70.13 147.07 L71.10 147.50 L72.08 148.01 L73.08 148.70 L74.07 149.39 L75.01 149.91 L75.86 150.07 L76.60 149.70 L77.19 148.64 L77.67 146.99 L78.06 144.99 L78.40 142.87 L78.74 140.87 L79.10 139.20 L79.48 137.64 L79.85 135.97 L80.21 134.40 L80.57 133.18 L80.93 132.53 L81.30 132.70 L81.68 133.77 L82.06 135.59 L82.44 137.98 L82.82 140.79 L83.21 143.85 L83.60 147.00 L83.97 150.52 L84.33 154.59 L84.69 158.91 L85.07 163.18 L85.50 167.11 L86.00 170.40 L86.58 173.03 L87.22 175.25 L87.91 177.12 L88.63 178.72 L89.36 180.12 L90.10 181.40 L90.86 182.55 L91.65 183.51 L92.46 184.28 L93.27 184.84 L94.06 185.18 L94.80 185.30 L95.50 185.13 L96.17 184.67 L96.81 184.00 L97.44 183.18 L98.07 182.29 L98.70 181.40 L99.34 180.28 L99.99 178.83 L100.64 177.31 L101.26 175.97 L101.86 175.08 L102.40 174.90 L102.89 175.61 L103.33 177.03 L103.73 178.90 L104.12 180.95 L104.50 182.90 L104.90 184.50 L105.30 185.80 L105.68 187.02 L106.06 188.15 L106.45 189.17 L106.86 190.06 L107.30 190.80 L107.78 191.35 L108.30 191.73 L108.84 191.97 L109.38 192.14 L109.90 192.26 L110.40 192.40 L110.89 192.53 L111.40 192.61 L111.89 192.65 L112.34 192.67 L112.72 192.68 L113.00 192.70 L113.00 192.70 Z" fill="none" stroke="#ffffff" stroke-opacity="0.95" stroke-width="1.80" clip-path="url(#cg10)"/><path d="M11.80 192.70 L11.80 192.70 L12.30 192.33 L13.00 191.89 L13.82 191.34 L14.69 190.60 L15.54 189.61 L16.30 188.30 L16.97 186.74 L17.62 184.99 L18.25 182.99 L18.86 180.68 L19.44 178.00 L20.00 174.90 L20.54 171.02 L21.06 166.33 L21.56 161.27 L22.03 156.29 L22.48 151.82 L22.90 148.30 L23.28 145.63 L23.61 143.43 L23.92 141.75 L24.23 140.61 L24.55 140.05 L24.90 140.10 L25.28 140.94 L25.68 142.57 L26.09 144.77 L26.51 147.34 L26.95 150.06 L27.40 152.70 L27.87 155.49 L28.37 158.63 L28.87 161.92 L29.39 165.14 L29.90 168.07 L30.40 170.50 L30.86 172.52 L31.29 174.34 L31.71 175.87 L32.17 177.03 L32.68 177.73 L33.30 177.90 L34.03 177.37 L34.84 176.17 L35.71 174.51 L36.63 172.62 L37.57 170.71 L38.50 169.00 L39.43 167.39 L40.36 165.69 L41.31 163.97 L42.30 162.30 L43.32 160.75 L44.40 159.40 L45.55 158.29 L46.76 157.37 L48.01 156.57 L49.28 155.82 L50.55 155.06 L51.80 154.20 L53.05 153.22 L54.32 152.18 L55.59 151.11 L56.84 150.08 L58.05 149.12 L59.20 148.30 L60.27 147.57 L61.27 146.89 L62.24 146.29 L63.18 145.81 L64.13 145.47 L65.10 145.30 L66.10 145.37 L67.11 145.65 L68.12 146.07 L69.13 146.57 L70.13 147.07 L71.10 147.50 L72.08 148.01 L73.08 148.70 L74.07 149.39 L75.01 149.91 L75.86 150.07 L76.60 149.70 L77.19 148.64 L77.67 146.99 L78.06 144.99 L78.40 142.87 L78.74 140.87 L79.10 139.20 L79.48 137.64 L79.85 135.97 L80.21 134.40 L80.57 133.18 L80.93 132.53 L81.30 132.70 L81.68 133.77 L82.06 135.59 L82.44 137.98 L82.82 140.79 L83.21 143.85 L83.60 147.00 L83.97 150.52 L84.33 154.59 L84.69 158.91 L85.07 163.18 L85.50 167.11 L86.00 170.40 L86.58 173.03 L87.22 175.25 L87.91 177.12 L88.63 178.72 L89.36 180.12 L90.10 181.40 L90.86 182.55 L91.65 183.51 L92.46 184.28 L93.27 184.84 L94.06 185.18 L94.80 185.30 L95.50 185.13 L96.17 184.67 L96.81 184.00 L97.44 183.18 L98.07 182.29 L98.70 181.40 L99.34 180.28 L99.99 178.83 L100.64 177.31 L101.26 175.97 L101.86 175.08 L102.40 174.90 L102.89 175.61 L103.33 177.03 L103.73 178.90 L104.12 180.95 L104.50 182.90 L104.90 184.50 L105.30 185.80 L105.68 187.02 L106.06 188.15 L106.45 189.17 L106.86 190.06 L107.30 190.80 L107.78 191.35 L108.30 191.73 L108.84 191.97 L109.38 192.14 L109.90 192.26 L110.40 192.40 L110.89 192.53 L111.40 192.61 L111.89 192.65 L112.34 192.67 L112.72 192.68 L113.00 192.70 L113.00 192.70 Z" fill="url(#g10)"/><path d="M11.80 192.70 L11.80 192.70 L12.30 192.33 L13.00 191.89 L13.82 191.34 L14.69 190.60 L15.54 189.61 L16.30 188.30 L16.97 186.74 L17.62 184.99 L18.25 182.99 L18.86 180.68 L19.44 178.00 L20.00 174.90 L20.54 171.02 L21.06 166.33 L21.56 161.27 L22.03 156.29 L22.48 151.82 L22.90 148.30 L23.28 145.63 L23.61 143.43 L23.92 141.75 L24.23 140.61 L24.55 140.05 L24.90 140.10 L25.28 140.94 L25.68 142.57 L26.09 144.77 L26.51 147.34 L26.95 150.06 L27.40 152.70 L27.87 155.49 L28.37 158.63 L28.87 161.92 L29.39 165.14 L29.90 168.07 L30.40 170.50 L30.86 172.52 L31.29 174.34 L31.71 175.87 L32.17 177.03 L32.68 177.73 L33.30 177.90 L34.03 177.37 L34.84 176.17 L35.71 174.51 L36.63 172.62 L37.57 170.71 L38.50 169.00 L39.43 167.39 L40.36 165.69 L41.31 163.97 L42.30 162.30 L43.32 160.75 L44.40 159.40 L45.55 158.29 L46.76 157.37 L48.01 156.57 L49.28 155.82 L50.55 155.06 L51.80 154.20 L53.05 153.22 L54.32 152.18 L55.59 151.11 L56.84 150.08 L58.05 149.12 L59.20 148.30 L60.27 147.57 L61.27 146.89 L62.24 146.29 L63.18 145.81 L64.13 145.47 L65.10 145.30 L66.10 145.37 L67.11 145.65 L68.12 146.07 L69.13 146.57 L70.13 147.07 L71.10 147.50 L72.08 148.01 L73.08 148.70 L74.07 149.39 L75.01 149.91 L75.86 150.07 L76.60 149.70 L77.19 148.64 L77.67 146.99 L78.06 144.99 L78.40 142.87 L78.74 140.87 L79.10 139.20 L79.48 137.64 L79.85 135.97 L80.21 134.40 L80.57 133.18 L80.93 132.53 L81.30 132.70 L81.68 133.77 L82.06 135.59 L82.44 137.98 L82.82 140.79 L83.21 143.85 L83.60 147.00 L83.97 150.52 L84.33 154.59 L84.69 158.91 L85.07 163.18 L85.50 167.11 L86.00 170.40 L86.58 173.03 L87.22 175.25 L87.91 177.12 L88.63 178.72 L89.36 180.12 L90.10 181.40 L90.86 182.55 L91.65 183.51 L92.46 184.28 L93.27 184.84 L94.06 185.18 L94.80 185.30 L95.50 185.13 L96.17 184.67 L96.81 184.00 L97.44 183.18 L98.07 182.29 L98.70 181.40 L99.34 180.28 L99.99 178.83 L100.64 177.31 L101.26 175.97 L101.86 175.08 L102.40 174.90 L102.89 175.61 L103.33 177.03 L103.73 178.90 L104.12 180.95 L104.50 182.90 L104.90 184.50 L105.30 185.80 L105.68 187.02 L106.06 188.15 L106.45 189.17 L106.86 190.06 L107.30 190.80 L107.78 191.35 L108.30 191.73 L108.84 191.97 L109.38 192.14 L109.90 192.26 L110.40 192.40 L110.89 192.53 L111.40 192.61 L111.89 192.65 L112.34 192.67 L112.72 192.68 L113.00 192.70 L113.00 192.70 Z" fill="url(#stg10)"/></svg>
<div class="lb" style="left:0;top:0;width:125px;height:223px"><svg width="125" height="223" viewBox="0 0 125 223"><path d="M17.0 213.5 L21.0 209.8 L25.0 213.5 L24.2 218.0 L17.8 218.0 Z" fill="none" stroke="#a4a4a4" stroke-width="1"/><rect x="15.0" y="219.0" width="12" height="1.8" fill="#8e8e8e"/><rect x="58.2" y="210.0" width="8.5" height="8" fill="#d2e6f8"/><rect x="58.2" y="210.5" width="8.5" height="1" fill="#8cbce6"/><rect x="58.2" y="213.5" width="8.5" height="1" fill="#8cbce6"/><rect x="58.2" y="216.5" width="8.5" height="1" fill="#8cbce6"/><rect x="56.0" y="219.0" width="13" height="1.8" fill="#5a7496"/><circle cx="104.0" cy="212.0" r="2" fill="none" stroke="#b0b0b0" stroke-width="1"/><path d="M101.0 218.0 L101.5 215.0 L106.5 215.0 L107.0 218.0 Z" fill="none" stroke="#b0b0b0" stroke-width="1"/><rect x="100.5" y="219.0" width="7" height="1.8" fill="#9a9a9a"/></svg></div>
</div>
<div class="p" style="left:137px;top:242.5px;width:125px;height:223.5px;">
<div class="lb"><div style="left:9.35px;top:6.30px;width:3.50px;height:3.20px;background:#7e7e7e;"></div><div style="left:13.45px;top:6.30px;width:3.50px;height:3.20px;background:#7e7e7e;"></div><div style="left:17.55px;top:6.30px;width:3.50px;height:3.20px;background:#7e7e7e;"></div><div style="left:21.65px;top:6.30px;width:3.00px;height:3.20px;background:#7e7e7e;"></div><div style="left:25.25px;top:6.30px;width:3.50px;height:3.20px;background:#7e7e7e;"></div></div>
<div style="left:43.60px;top:8.20px;width:68.90px;height:0.80px;background:#f3f0e8;"></div>
<div class="lb"><div style="left:116.00px;top:6.50px;width:2.00px;height:4.00px;background:#b4b4b4;"></div></div>
<div style="left:0.00px;top:13.40px;width:125.00px;height:1.60px;background:#e6f0fa;"></div>
<div style="left:0.00px;top:15.00px;width:125.00px;height:1.60px;background:#c4d4e6;"></div>
<div class="lb"><div style="left:9.60px;top:20.70px;width:3.00px;height:3.20px;background:#7e7e7e;"></div><div style="left:13.20px;top:20.70px;width:3.50px;height:3.20px;background:#7e7e7e;"></div><div style="left:17.30px;top:20.70px;width:3.50px;height:3.20px;background:#7e7e7e;"></div><div style="left:21.40px;top:20.70px;width:3.00px;height:3.20px;background:#7e7e7e;"></div><div style="left:25.00px;top:20.70px;width:3.50px;height:3.20px;background:#7e7e7e;"></div></div>
<div style="left:43.60px;top:22.60px;width:68.90px;height:0.80px;background:#f3f0e8;"></div>
<div class="lb"><div style="left:116.00px;top:20.90px;width:2.00px;height:4.00px;background:#b4b4b4;"></div></div>
<div style="left:0.00px;top:27.80px;width:125.00px;height:1.60px;background:#e6f0fa;"></div>
<div style="left:0.00px;top:29.40px;width:125.00px;height:1.60px;background:#c4d4e6;"></div>
<div class="lb"><div style="left:9.35px;top:35.10px;width:3.50px;height:3.20px;background:#7e7e7e;"></div><div style="left:13.45px;top:35.10px;width:3.50px;height:3.20px;background:#7e7e7e;"></div><div style="left:17.55px;top:35.10px;width:3.50px;height:3.20px;background:#7e7e7e;"></div><div style="left:21.65px;top:35.10px;width:3.00px;height:3.20px;background:#7e7e7e;"></div><div style="left:25.25px;top:35.10px;width:3.50px;height:3.20px;background:#7e7e7e;"></div></div>
<div style="left:43.60px;top:37.00px;width:68.90px;height:0.80px;background:#f3f0e8;"></div>
<div class="lb"><div style="left:116.00px;top:35.30px;width:2.00px;height:4.00px;background:#b4b4b4;"></div></div>
<div style="left:0.00px;top:42.20px;width:125.00px;height:1.60px;background:#e6f0fa;"></div>
<div style="left:0.00px;top:43.80px;width:125.00px;height:1.60px;background:#c4d4e6;"></div>
<div class="lb"><div style="left:11.40px;top:49.50px;width:3.50px;height:3.20px;background:#7e7e7e;"></div><div style="left:15.50px;top:49.50px;width:3.50px;height:3.20px;background:#7e7e7e;"></div><div style="left:19.60px;top:49.50px;width:3.00px;height:3.20px;background:#7e7e7e;"></div><div style="left:23.20px;top:49.50px;width:3.50px;height:3.20px;background:#7e7e7e;"></div></div>
<div style="left:43.60px;top:51.40px;width:68.90px;height:0.80px;background:#f3f0e8;"></div>
<div class="lb"><div style="left:116.00px;top:49.70px;width:2.00px;height:4.00px;background:#b4b4b4;"></div></div>
<div style="left:0.00px;top:56.60px;width:125.00px;height:1.60px;background:#e6f0fa;"></div>
<div style="left:0.00px;top:58.20px;width:125.00px;height:1.60px;background:#c4d4e6;"></div>
<div class="lb"><div style="left:11.40px;top:63.90px;width:3.50px;height:3.20px;background:#7e7e7e;"></div><div style="left:15.50px;top:63.90px;width:3.50px;height:3.20px;background:#7e7e7e;"></div><div style="left:19.60px;top:63.90px;width:3.50px;height:3.20px;background:#7e7e7e;"></div><div style="left:23.70px;top:63.90px;width:3.00px;height:3.20px;background:#7e7e7e;"></div></div>
<div style="left:43.60px;top:65.80px;width:68.90px;height:0.80px;background:#f3f0e8;"></div>
<div class="lb"><div style="left:116.00px;top:64.10px;width:2.00px;height:4.00px;background:#b4b4b4;"></div></div>
<div style="left:0.00px;top:71.00px;width:125.00px;height:1.60px;background:#e6f0fa;"></div>
<div style="left:0.00px;top:72.60px;width:125.00px;height:1.60px;background:#c4d4e6;"></div>
<div class="lb"><div style="left:9.85px;top:78.30px;width:3.50px;height:3.20px;background:#7e7e7e;"></div><div style="left:13.95px;top:78.30px;width:3.50px;height:3.20px;background:#7e7e7e;"></div><div style="left:18.05px;top:78.30px;width:3.50px;height:3.20px;background:#7e7e7e;"></div><div style="left:22.15px;top:78.30px;width:3.50px;height:3.20px;background:#7e7e7e;"></div><div style="left:26.25px;top:78.30px;width:2.00px;height:3.20px;background:#7e7e7e;"></div></div>
<div style="left:43.60px;top:80.20px;width:68.90px;height:0.80px;background:#f3f0e8;"></div>
<div class="lb"><div style="left:116.00px;top:78.50px;width:2.00px;height:4.00px;background:#b4b4b4;"></div></div>
<div style="left:0.00px;top:85.40px;width:125.00px;height:1.60px;background:#e6f0fa;"></div>
<div style="left:0.00px;top:87.00px;width:125.00px;height:1.60px;background:#c4d4e6;"></div>
<div class="lb"><div style="left:9.85px;top:92.70px;width:3.50px;height:3.20px;background:#7e7e7e;"></div><div style="left:13.95px;top:92.70px;width:3.50px;height:3.20px;background:#7e7e7e;"></div><div style="left:18.05px;top:92.70px;width:3.50px;height:3.20px;background:#7e7e7e;"></div><div style="left:22.15px;top:92.70px;width:3.50px;height:3.20px;background:#7e7e7e;"></div><div style="left:26.25px;top:92.70px;width:2.00px;height:3.20px;background:#7e7e7e;"></div></div>
<div style="left:43.60px;top:94.60px;width:68.90px;height:0.80px;background:#f3f0e8;"></div>
<div class="lb"><div style="left:114.00px;top:92.90px;width:4.00px;height:4.00px;background:#b4b4b4;"></div></div>
<div style="left:0.00px;top:99.80px;width:125.00px;height:1.60px;background:#e6f0fa;"></div>
<div style="left:0.00px;top:101.40px;width:125.00px;height:1.60px;background:#c4d4e6;"></div>
<div class="lb"><div style="left:9.85px;top:107.10px;width:3.50px;height:3.20px;background:#7e7e7e;"></div><div style="left:13.95px;top:107.10px;width:3.50px;height:3.20px;background:#7e7e7e;"></div><div style="left:18.05px;top:107.10px;width:3.50px;height:3.20px;background:#7e7e7e;"></div><div style="left:22.15px;top:107.10px;width:3.50px;height:3.20px;background:#7e7e7e;"></div><div style="left:26.25px;top:107.10px;width:2.00px;height:3.20px;background:#7e7e7e;"></div></div>
<div style="left:43.60px;top:109.00px;width:68.90px;height:0.80px;background:#f3f0e8;"></div>
<div class="lb"><div style="left:112.00px;top:107.30px;width:6.00px;height:4.00px;background:#b4b4b4;"></div></div>
<div class="lb"><div style="left:43.9px;top:77.4px;width:4.2px;height:4.2px;border-radius:50%;background:#d6d4f2;border:1px solid #9696cc;"></div></div>
<div class="lb"><div style="left:43.60px;top:94.30px;width:14.40px;height:1.30px;background:#8aac86;"></div></div>
<div class="lb"><div style="left:54.9px;top:91.8px;width:4.2px;height:4.2px;border-radius:50%;background:#d2d2ea;border:1px solid #9696cc;"></div></div>
<div class="lb"><div style="left:43.60px;top:108.70px;width:11.40px;height:1.30px;background:#8aac86;"></div></div>
<div class="lb"><div style="left:51.9px;top:106.2px;width:4.2px;height:4.2px;border-radius:50%;background:#d0d0e6;border:1px solid #9696cc;"></div></div>
<div style="left:32.60px;top:0.00px;width:3.75px;height:116.00px;background:#eef8fc;"></div>
<div style="left:37.85px;top:0.00px;width:3.00px;height:116.00px;background:#f4f4fc;"></div>
<div style="left:36.35px;top:0.00px;width:1.50px;height:116.00px;background:#a8c2dc;"></div>
<div style="left:0.00px;top:116.00px;width:125.00px;height:90.50px;background:#e0e0e0;"></div>
<div class="lb"><div style="left:5.50px;top:118.60px;width:11.00px;height:2.40px;background:#888888;"></div><div style="left:18.10px;top:118.60px;width:13.00px;height:2.40px;background:#888888;"></div><div style="left:32.70px;top:118.60px;width:11.00px;height:2.40px;background:#888888;"></div><div style="left:45.30px;top:118.60px;width:8.70px;height:2.40px;background:#888888;"></div><div style="left:5.50px;top:123.00px;width:8.00px;height:2.40px;background:#888888;"></div><div style="left:15.10px;top:123.00px;width:9.00px;height:2.40px;background:#888888;"></div><div style="left:25.70px;top:123.00px;width:11.00px;height:2.40px;background:#888888;"></div><div style="left:38.30px;top:123.00px;width:8.00px;height:2.40px;background:#888888;"></div><div style="left:47.90px;top:123.00px;width:11.00px;height:2.40px;background:#888888;"></div><div style="left:60.50px;top:123.00px;width:11.00px;height:2.40px;background:#888888;"></div><div style="left:73.10px;top:123.00px;width:13.00px;height:2.40px;background:#888888;"></div><div style="left:87.70px;top:123.00px;width:8.00px;height:2.40px;background:#888888;"></div></div>
<div class="lb"><div style="left:21.00px;top:194.70px;width:7.00px;height:1.80px;background:#b0b0b0;"></div><div style="left:78.00px;top:194.70px;width:7.00px;height:1.80px;background:#b8b8b8;"></div><div style="left:100.00px;top:194.70px;width:5.00px;height:1.80px;background:#c0c0c0;"></div></div>
<div style="left:4.50px;top:192.70px;width:1.50px;height:0.60px;background:#b0b0b0;"></div>
<div style="left:4.50px;top:182.20px;width:1.50px;height:0.60px;background:#b0b0b0;"></div>
<div style="left:4.50px;top:171.70px;width:1.50px;height:0.60px;background:#b0b0b0;"></div>
<div style="left:4.50px;top:161.20px;width:1.50px;height:0.60px;background:#b0b0b0;"></div>
<div style="left:4.50px;top:150.70px;width:1.50px;height:0.60px;background:#b0b0b0;"></div>
<div style="left:4.50px;top:140.20px;width:1.50px;height:0.60px;background:#b0b0b0;"></div>
<div style="left:5.40px;top:129.50px;width:0.90px;height:63.20px;background:#a8a8a8;"></div>
<div style="left:6.00px;top:192.50px;width:110.00px;height:0.90px;background:#8a8a8a;"></div>
<svg width="125" height="223" viewBox="0 0 125 223"><defs><linearGradient id="g11" gradientUnits="userSpaceOnUse" x1="6" y1="0" x2="116" y2="0"><stop offset="0.0000" stop-color="#1e2a80"/><stop offset="0.0636" stop-color="#2234a8"/><stop offset="0.1091" stop-color="#2244c0"/><stop offset="0.1500" stop-color="#1c56cc"/><stop offset="0.1782" stop-color="#1a66cc"/><stop offset="0.2068" stop-color="#1a7ebc"/><stop offset="0.2409" stop-color="#0f9a98"/><stop offset="0.2727" stop-color="#1aa874"/><stop offset="0.3182" stop-color="#38c040"/><stop offset="0.3636" stop-color="#80d840"/><stop offset="0.3909" stop-color="#b0e040"/><stop offset="0.4227" stop-color="#e8d030"/><stop offset="0.4682" stop-color="#f0a820"/><stop offset="0.5364" stop-color="#f08020"/><stop offset="0.6045" stop-color="#e85020"/><stop offset="0.6636" stop-color="#d42818"/><stop offset="0.7182" stop-color="#b81a14"/><stop offset="0.7818" stop-color="#a01414"/><stop offset="0.8545" stop-color="#861010"/><stop offset="0.9273" stop-color="#6e0e0e"/><stop offset="1.0000" stop-color="#560a0a"/></linearGradient><clipPath id="cg11"><rect x="0" y="0" width="125" height="191.70"/></clipPath><pattern id="stg11" width="2.6" height="20" patternUnits="userSpaceOnUse"><rect x="0" y="0" width="0.9" height="20" fill="#000" fill-opacity="0.10"/></pattern></defs><path d="M14.10 192.70 L14.10 192.70 L14.50 192.18 L15.06 191.56 L15.72 190.77 L16.43 189.76 L17.14 188.45 L17.80 186.80 L18.43 184.81 L19.06 182.52 L19.70 179.95 L20.33 177.09 L20.93 173.94 L21.50 170.50 L22.04 166.46 L22.57 161.76 L23.07 156.77 L23.54 151.87 L23.99 147.42 L24.40 143.80 L24.76 140.88 L25.08 138.33 L25.36 136.24 L25.63 134.69 L25.91 133.75 L26.20 133.50 L26.51 134.07 L26.81 135.41 L27.12 137.37 L27.43 139.78 L27.76 142.48 L28.10 145.30 L28.45 148.47 L28.81 152.15 L29.19 156.12 L29.57 160.15 L29.98 164.02 L30.40 167.50 L30.84 170.66 L31.29 173.70 L31.76 176.57 L32.25 179.24 L32.76 181.67 L33.30 183.80 L33.88 185.62 L34.50 187.14 L35.14 188.42 L35.79 189.50 L36.41 190.41 L37.00 191.20 L37.26 191.81 L37.16 192.19 L37.04 192.41 L37.25 192.53 L38.12 192.61 L40.00 192.70 L43.38 192.70 L48.09 192.70 L53.47 192.70 L58.85 192.70 L63.58 192.70 L67.00 192.70 L68.95 192.54 L69.92 192.37 L70.24 192.14 L70.23 191.83 L70.21 191.39 L70.50 190.80 L71.04 190.09 L71.56 189.31 L72.07 188.41 L72.57 187.34 L73.08 186.05 L73.60 184.50 L74.14 182.58 L74.69 180.32 L75.25 177.84 L75.80 175.27 L76.32 172.75 L76.80 170.40 L77.24 168.17 L77.63 165.95 L78.01 163.77 L78.37 161.67 L78.73 159.70 L79.10 157.90 L79.49 156.10 L79.87 154.25 L80.26 152.52 L80.65 151.10 L81.03 150.16 L81.40 149.90 L81.76 150.44 L82.12 151.66 L82.47 153.38 L82.82 155.38 L83.16 157.49 L83.50 159.50 L83.83 161.51 L84.16 163.69 L84.48 165.96 L84.80 168.27 L85.10 170.54 L85.40 172.70 L85.68 174.80 L85.93 176.91 L86.18 178.98 L86.43 180.97 L86.70 182.82 L87.00 184.50 L87.34 186.02 L87.70 187.44 L88.08 188.72 L88.48 189.85 L88.89 190.82 L89.30 191.60 L89.76 192.14 L90.27 192.45 L90.79 192.59 L91.29 192.64 L91.70 192.65 L92.00 192.70 L92.00 192.70 Z" fill="none" stroke="#ffffff" stroke-opacity="0.95" stroke-width="1.80" clip-path="url(#cg11)"/><path d="M14.10 192.70 L14.10 192.70 L14.50 192.18 L15.06 191.56 L15.72 190.77 L16.43 189.76 L17.14 188.45 L17.80 186.80 L18.43 184.81 L19.06 182.52 L19.70 179.95 L20.33 177.09 L20.93 173.94 L21.50 170.50 L22.04 166.46 L22.57 161.76 L23.07 156.77 L23.54 151.87 L23.99 147.42 L24.40 143.80 L24.76 140.88 L25.08 138.33 L25.36 136.24 L25.63 134.69 L25.91 133.75 L26.20 133.50 L26.51 134.07 L26.81 135.41 L27.12 137.37 L27.43 139.78 L27.76 142.48 L28.10 145.30 L28.45 148.47 L28.81 152.15 L29.19 156.12 L29.57 160.15 L29.98 164.02 L30.40 167.50 L30.84 170.66 L31.29 173.70 L31.76 176.57 L32.25 179.24 L32.76 181.67 L33.30 183.80 L33.88 185.62 L34.50 187.14 L35.14 188.42 L35.79 189.50 L36.41 190.41 L37.00 191.20 L37.26 191.81 L37.16 192.19 L37.04 192.41 L37.25 192.53 L38.12 192.61 L40.00 192.70 L43.38 192.70 L48.09 192.70 L53.47 192.70 L58.85 192.70 L63.58 192.70 L67.00 192.70 L68.95 192.54 L69.92 192.37 L70.24 192.14 L70.23 191.83 L70.21 191.39 L70.50 190.80 L71.04 190.09 L71.56 189.31 L72.07 188.41 L72.57 187.34 L73.08 186.05 L73.60 184.50 L74.14 182.58 L74.69 180.32 L75.25 177.84 L75.80 175.27 L76.32 172.75 L76.80 170.40 L77.24 168.17 L77.63 165.95 L78.01 163.77 L78.37 161.67 L78.73 159.70 L79.10 157.90 L79.49 156.10 L79.87 154.25 L80.26 152.52 L80.65 151.10 L81.03 150.16 L81.40 149.90 L81.76 150.44 L82.12 151.66 L82.47 153.38 L82.82 155.38 L83.16 157.49 L83.50 159.50 L83.83 161.51 L84.16 163.69 L84.48 165.96 L84.80 168.27 L85.10 170.54 L85.40 172.70 L85.68 174.80 L85.93 176.91 L86.18 178.98 L86.43 180.97 L86.70 182.82 L87.00 184.50 L87.34 186.02 L87.70 187.44 L88.08 188.72 L88.48 189.85 L88.89 190.82 L89.30 191.60 L89.76 192.14 L90.27 192.45 L90.79 192.59 L91.29 192.64 L91.70 192.65 L92.00 192.70 L92.00 192.70 Z" fill="url(#g11)"/><path d="M14.10 192.70 L14.10 192.70 L14.50 192.18 L15.06 191.56 L15.72 190.77 L16.43 189.76 L17.14 188.45 L17.80 186.80 L18.43 184.81 L19.06 182.52 L19.70 179.95 L20.33 177.09 L20.93 173.94 L21.50 170.50 L22.04 166.46 L22.57 161.76 L23.07 156.77 L23.54 151.87 L23.99 147.42 L24.40 143.80 L24.76 140.88 L25.08 138.33 L25.36 136.24 L25.63 134.69 L25.91 133.75 L26.20 133.50 L26.51 134.07 L26.81 135.41 L27.12 137.37 L27.43 139.78 L27.76 142.48 L28.10 145.30 L28.45 148.47 L28.81 152.15 L29.19 156.12 L29.57 160.15 L29.98 164.02 L30.40 167.50 L30.84 170.66 L31.29 173.70 L31.76 176.57 L32.25 179.24 L32.76 181.67 L33.30 183.80 L33.88 185.62 L34.50 187.14 L35.14 188.42 L35.79 189.50 L36.41 190.41 L37.00 191.20 L37.26 191.81 L37.16 192.19 L37.04 192.41 L37.25 192.53 L38.12 192.61 L40.00 192.70 L43.38 192.70 L48.09 192.70 L53.47 192.70 L58.85 192.70 L63.58 192.70 L67.00 192.70 L68.95 192.54 L69.92 192.37 L70.24 192.14 L70.23 191.83 L70.21 191.39 L70.50 190.80 L71.04 190.09 L71.56 189.31 L72.07 188.41 L72.57 187.34 L73.08 186.05 L73.60 184.50 L74.14 182.58 L74.69 180.32 L75.25 177.84 L75.80 175.27 L76.32 172.75 L76.80 170.40 L77.24 168.17 L77.63 165.95 L78.01 163.77 L78.37 161.67 L78.73 159.70 L79.10 157.90 L79.49 156.10 L79.87 154.25 L80.26 152.52 L80.65 151.10 L81.03 150.16 L81.40 149.90 L81.76 150.44 L82.12 151.66 L82.47 153.38 L82.82 155.38 L83.16 157.49 L83.50 159.50 L83.83 161.51 L84.16 163.69 L84.48 165.96 L84.80 168.27 L85.10 170.54 L85.40 172.70 L85.68 174.80 L85.93 176.91 L86.18 178.98 L86.43 180.97 L86.70 182.82 L87.00 184.50 L87.34 186.02 L87.70 187.44 L88.08 188.72 L88.48 189.85 L88.89 190.82 L89.30 191.60 L89.76 192.14 L90.27 192.45 L90.79 192.59 L91.29 192.64 L91.70 192.65 L92.00 192.70 L92.00 192.70 Z" fill="url(#stg11)"/></svg>
<div class="lb" style="left:0;top:0;width:125px;height:223px"><svg width="125" height="223" viewBox="0 0 125 223"><path d="M17.0 213.5 L21.0 209.8 L25.0 213.5 L24.2 218.0 L17.8 218.0 Z" fill="none" stroke="#a4a4a4" stroke-width="1"/><rect x="15.0" y="219.0" width="12" height="1.8" fill="#8e8e8e"/><rect x="58.2" y="210.0" width="8.5" height="8" fill="#d2e6f8"/><rect x="58.2" y="210.5" width="8.5" height="1" fill="#8cbce6"/><rect x="58.2" y="213.5" width="8.5" height="1" fill="#8cbce6"/><rect x="58.2" y="216.5" width="8.5" height="1" fill="#8cbce6"/><rect x="56.0" y="219.0" width="13" height="1.8" fill="#5a7496"/><circle cx="104.0" cy="212.0" r="2" fill="none" stroke="#b0b0b0" stroke-width="1"/><path d="M101.0 218.0 L101.5 215.0 L106.5 215.0 L107.0 218.0 Z" fill="none" stroke="#b0b0b0" stroke-width="1"/><rect x="100.5" y="219.0" width="7" height="1.8" fill="#9a9a9a"/></svg></div>
</div>
<div class="p" style="left:269px;top:242.5px;width:125px;height:223.5px;">
<div class="lb"><div style="left:9.65px;top:6.30px;width:3.50px;height:3.20px;background:#7e7e7e;"></div><div style="left:13.75px;top:6.30px;width:3.50px;height:3.20px;background:#7e7e7e;"></div><div style="left:17.85px;top:6.30px;width:3.50px;height:3.20px;background:#7e7e7e;"></div><div style="left:21.95px;top:6.30px;width:3.00px;height:3.20px;background:#7e7e7e;"></div><div style="left:25.55px;top:6.30px;width:3.50px;height:3.20px;background:#7e7e7e;"></div></div>
<div style="left:44.20px;top:8.20px;width:68.30px;height:0.80px;background:#f3f0e8;"></div>
<div class="lb"><div style="left:116.00px;top:6.50px;width:2.00px;height:4.00px;background:#b4b4b4;"></div></div>
<div style="left:0.00px;top:13.40px;width:125.00px;height:1.60px;background:#e6f0fa;"></div>
<div style="left:0.00px;top:15.00px;width:125.00px;height:1.60px;background:#c4d4e6;"></div>
<div class="lb"><div style="left:9.90px;top:20.70px;width:3.00px;height:3.20px;background:#7e7e7e;"></div><div style="left:13.50px;top:20.70px;width:3.50px;height:3.20px;background:#7e7e7e;"></div><div style="left:17.60px;top:20.70px;width:3.50px;height:3.20px;background:#7e7e7e;"></div><div style="left:21.70px;top:20.70px;width:3.00px;height:3.20px;background:#7e7e7e;"></div><div style="left:25.30px;top:20.70px;width:3.50px;height:3.20px;background:#7e7e7e;"></div></div>
<div style="left:44.20px;top:22.60px;width:68.30px;height:0.80px;background:#f3f0e8;"></div>
<div class="lb"><div style="left:116.00px;top:20.90px;width:2.00px;height:4.00px;background:#b4b4b4;"></div></div>
<div style="left:0.00px;top:27.80px;width:125.00px;height:1.60px;background:#e6f0fa;"></div>
<div style="left:0.00px;top:29.40px;width:125.00px;height:1.60px;background:#c4d4e6;"></div>
<div class="lb"><div style="left:9.65px;top:35.10px;width:3.50px;height:3.20px;background:#7e7e7e;"></div><div style="left:13.75px;top:35.10px;width:3.50px;height:3.20px;background:#7e7e7e;"></div><div style="left:17.85px;top:35.10px;width:3.50px;height:3.20px;background:#7e7e7e;"></div><div style="left:21.95px;top:35.10px;width:3.00px;height:3.20px;background:#7e7e7e;"></div><div style="left:25.55px;top:35.10px;width:3.50px;height:3.20px;background:#7e7e7e;"></div></div>
<div style="left:44.20px;top:37.00px;width:68.30px;height:0.80px;background:#f3f0e8;"></div>
<div class="lb"><div style="left:116.00px;top:35.30px;width:2.00px;height:4.00px;background:#b4b4b4;"></div></div>
<div style="left:0.00px;top:42.20px;width:125.00px;height:1.60px;background:#e6f0fa;"></div>
<div style="left:0.00px;top:43.80px;width:125.00px;height:1.60px;background:#c4d4e6;"></div>
<div class="lb"><div style="left:11.70px;top:49.50px;width:3.50px;height:3.20px;background:#7e7e7e;"></div><div style="left:15.80px;top:49.50px;width:3.50px;height:3.20px;background:#7e7e7e;"></div><div style="left:19.90px;top:49.50px;width:3.00px;height:3.20px;background:#7e7e7e;"></div><div style="left:23.50px;top:49.50px;width:3.50px;height:3.20px;background:#7e7e7e;"></div></div>
<div style="left:44.20px;top:51.40px;width:68.30px;height:0.80px;background:#f3f0e8;"></div>
<div class="lb"><div style="left:116.00px;top:49.70px;width:2.00px;height:4.00px;background:#b4b4b4;"></div></div>
<div style="left:0.00px;top:56.60px;width:125.00px;height:1.60px;background:#e6f0fa;"></div>
<div style="left:0.00px;top:58.20px;width:125.00px;height:1.60px;background:#c4d4e6;"></div>
<div class="lb"><div style="left:11.70px;top:63.90px;width:3.50px;height:3.20px;background:#7e7e7e;"></div><div style="left:15.80px;top:63.90px;width:3.50px;height:3.20px;background:#7e7e7e;"></div><div style="left:19.90px;top:63.90px;width:3.50px;height:3.20px;background:#7e7e7e;"></div><div style="left:24.00px;top:63.90px;width:3.00px;height:3.20px;background:#7e7e7e;"></div></div>
<div style="left:44.20px;top:65.80px;width:68.30px;height:0.80px;background:#f3f0e8;"></div>
<div class="lb"><div style="left:116.00px;top:64.10px;width:2.00px;height:4.00px;background:#b4b4b4;"></div></div>
<div style="left:0.00px;top:71.00px;width:125.00px;height:1.60px;background:#e6f0fa;"></div>
<div style="left:0.00px;top:72.60px;width:125.00px;height:1.60px;background:#c4d4e6;"></div>
<div class="lb"><div style="left:10.15px;top:78.30px;width:3.50px;height:3.20px;background:#7e7e7e;"></div><div style="left:14.25px;top:78.30px;width:3.50px;height:3.20px;background:#7e7e7e;"></div><div style="left:18.35px;top:78.30px;width:3.50px;height:3.20px;background:#7e7e7e;"></div><div style="left:22.45px;top:78.30px;width:3.50px;height:3.20px;background:#7e7e7e;"></div><div style="left:26.55px;top:78.30px;width:2.00px;height:3.20px;background:#7e7e7e;"></div></div>
<div style="left:44.20px;top:80.20px;width:68.30px;height:0.80px;background:#f3f0e8;"></div>
<div class="lb"><div style="left:116.00px;top:78.50px;width:2.00px;height:4.00px;background:#b4b4b4;"></div></div>
<div style="left:0.00px;top:85.40px;width:125.00px;height:1.60px;background:#e6f0fa;"></div>
<div style="left:0.00px;top:87.00px;width:125.00px;height:1.60px;background:#c4d4e6;"></div>
<div class="lb"><div style="left:10.15px;top:92.70px;width:3.50px;height:3.20px;background:#7e7e7e;"></div><div style="left:14.25px;top:92.70px;width:3.50px;height:3.20px;background:#7e7e7e;"></div><div style="left:18.35px;top:92.70px;width:3.50px;height:3.20px;background:#7e7e7e;"></div><div style="left:22.45px;top:92.70px;width:3.50px;height:3.20px;background:#7e7e7e;"></div><div style="left:26.55px;top:92.70px;width:2.00px;height:3.20px;background:#7e7e7e;"></div></div>
<div style="left:44.20px;top:94.60px;width:68.30px;height:0.80px;background:#f3f0e8;"></div>
<div class="lb"><div style="left:114.00px;top:92.90px;width:4.00px;height:4.00px;background:#b4b4b4;"></div></div>
<div style="left:0.00px;top:99.80px;width:125.00px;height:1.60px;background:#e6f0fa;"></div>
<div style="left:0.00px;top:101.40px;width:125.00px;height:1.60px;background:#c4d4e6;"></div>
<div class="lb"><div style="left:10.15px;top:107.10px;width:3.50px;height:3.20px;background:#7e7e7e;"></div><div style="left:14.25px;top:107.10px;width:3.50px;height:3.20px;background:#7e7e7e;"></div><div style="left:18.35px;top:107.10px;width:3.50px;height:3.20px;background:#7e7e7e;"></div><div style="left:22.45px;top:107.10px;width:3.50px;height:3.20px;background:#7e7e7e;"></div><div style="left:26.55px;top:107.10px;width:2.00px;height:3.20px;background:#7e7e7e;"></div></div>
<div style="left:44.20px;top:109.00px;width:68.30px;height:0.80px;background:#f3f0e8;"></div>
<div class="lb"><div style="left:112.00px;top:107.30px;width:6.00px;height:4.00px;background:#b4b4b4;"></div></div>
<div style="left:44.00px;top:8.00px;width:10.00px;height:1.20px;background:#aca494;"></div>
<div style="left:44.00px;top:51.20px;width:2.00px;height:1.20px;background:#aca494;"></div>
<div class="lb"><div style="left:44.5px;top:77.4px;width:4.2px;height:4.2px;border-radius:50%;background:#d6d4f2;border:1px solid #9696cc;"></div></div>
<div class="lb"><div style="left:44.20px;top:94.30px;width:14.20px;height:1.30px;background:#8aac86;"></div></div>
<div class="lb"><div style="left:55.3px;top:91.8px;width:4.2px;height:4.2px;border-radius:50%;background:#d2d2ea;border:1px solid #9696cc;"></div></div>
<div class="lb"><div style="left:44.20px;top:108.70px;width:11.80px;height:1.30px;background:#8aac86;"></div></div>
<div class="lb"><div style="left:52.9px;top:106.2px;width:4.2px;height:4.2px;border-radius:50%;background:#d0d0e6;border:1px solid #9696cc;"></div></div>
<div style="left:33.20px;top:0.00px;width:3.75px;height:116.00px;background:#eef8fc;"></div>
<div style="left:38.45px;top:0.00px;width:3.00px;height:116.00px;background:#f4f4fc;"></div>
<div style="left:36.95px;top:0.00px;width:1.50px;height:116.00px;background:#a8c2dc;"></div>
<div style="left:0.00px;top:116.00px;width:125.00px;height:90.50px;background:#e0e0e0;"></div>
<div class="lb"><div style="left:5.50px;top:118.60px;width:11.00px;height:2.40px;background:#888888;"></div><div style="left:18.10px;top:118.60px;width:9.00px;height:2.40px;background:#888888;"></div><div style="left:28.70px;top:118.60px;width:15.00px;height:2.40px;background:#888888;"></div><div style="left:45.30px;top:118.60px;width:10.20px;height:2.40px;background:#888888;"></div><div style="left:5.50px;top:123.00px;width:11.00px;height:2.40px;background:#888888;"></div><div style="left:18.10px;top:123.00px;width:15.00px;height:2.40px;background:#888888;"></div><div style="left:34.70px;top:123.00px;width:13.00px;height:2.40px;background:#888888;"></div><div style="left:49.30px;top:123.00px;width:13.00px;height:2.40px;background:#888888;"></div><div style="left:63.90px;top:123.00px;width:9.00px;height:2.40px;background:#888888;"></div><div style="left:74.50px;top:123.00px;width:15.00px;height:2.40px;background:#888888;"></div><div style="left:91.10px;top:123.00px;width:7.90px;height:2.40px;background:#888888;"></div></div>
<div class="lb"><div style="left:21.00px;top:194.70px;width:7.00px;height:1.80px;background:#b0b0b0;"></div><div style="left:78.00px;top:194.70px;width:7.00px;height:1.80px;background:#b8b8b8;"></div><div style="left:100.00px;top:194.70px;width:5.00px;height:1.80px;background:#c0c0c0;"></div></div>
<div style="left:4.50px;top:192.70px;width:1.50px;height:0.60px;background:#b0b0b0;"></div>
<div style="left:4.50px;top:182.20px;width:1.50px;height:0.60px;background:#b0b0b0;"></div>
<div style="left:4.50px;top:171.70px;width:1.50px;height:0.60px;background:#b0b0b0;"></div>
<div style="left:4.50px;top:161.20px;width:1.50px;height:0.60px;background:#b0b0b0;"></div>
<div style="left:4.50px;top:150.70px;width:1.50px;height:0.60px;background:#b0b0b0;"></div>
<div style="left:4.50px;top:140.20px;width:1.50px;height:0.60px;background:#b0b0b0;"></div>
<div style="left:5.40px;top:129.50px;width:0.90px;height:63.20px;background:#a8a8a8;"></div>
<div style="left:6.00px;top:192.50px;width:110.00px;height:0.90px;background:#8a8a8a;"></div>
<svg width="125" height="223" viewBox="0 0 125 223"><defs><linearGradient id="g12" gradientUnits="userSpaceOnUse" x1="6" y1="0" x2="116" y2="0"><stop offset="0.0000" stop-color="#1e2a80"/><stop offset="0.0636" stop-color="#2234a8"/><stop offset="0.1091" stop-color="#2244c0"/><stop offset="0.1500" stop-color="#1c56cc"/><stop offset="0.1782" stop-color="#1a66cc"/><stop offset="0.2068" stop-color="#1a7ebc"/><stop offset="0.2409" stop-color="#0f9a98"/><stop offset="0.2727" stop-color="#1aa874"/><stop offset="0.3182" stop-color="#38c040"/><stop offset="0.3636" stop-color="#80d840"/><stop offset="0.3909" stop-color="#b0e040"/><stop offset="0.4227" stop-color="#e8d030"/><stop offset="0.4682" stop-color="#f0a820"/><stop offset="0.5364" stop-color="#f08020"/><stop offset="0.6045" stop-color="#e85020"/><stop offset="0.6636" stop-color="#d42818"/><stop offset="0.7182" stop-color="#b81a14"/><stop offset="0.7818" stop-color="#a01414"/><stop offset="0.8545" stop-color="#861010"/><stop offset="0.9273" stop-color="#6e0e0e"/><stop offset="1.0000" stop-color="#560a0a"/></linearGradient><clipPath id="cg12"><rect x="0" y="0" width="125" height="191.70"/></clipPath><pattern id="stg12" width="2.6" height="20" patternUnits="userSpaceOnUse"><rect x="0" y="0" width="0.9" height="20" fill="#000" fill-opacity="0.10"/></pattern></defs><path d="M13.30 192.70 L13.30 192.70 L13.80 192.38 L14.50 192.06 L15.32 191.61 L16.19 190.92 L17.04 189.86 L17.80 188.30 L18.48 186.21 L19.15 183.69 L19.79 180.79 L20.41 177.59 L20.98 174.14 L21.50 170.50 L21.97 166.37 L22.38 161.63 L22.76 156.64 L23.10 151.76 L23.41 147.36 L23.70 143.80 L23.95 140.97 L24.15 138.57 L24.32 136.64 L24.49 135.23 L24.68 134.40 L24.90 134.20 L25.15 134.71 L25.41 135.90 L25.69 137.67 L26.00 139.90 L26.33 142.48 L26.70 145.30 L27.11 148.66 L27.56 152.70 L28.03 157.10 L28.53 161.51 L29.06 165.59 L29.60 169.00 L30.15 171.89 L30.72 174.56 L31.31 176.89 L31.93 178.80 L32.59 180.17 L33.30 180.90 L34.07 180.75 L34.90 179.76 L35.76 178.22 L36.66 176.47 L37.58 174.79 L38.50 173.50 L39.41 172.55 L40.30 171.67 L41.22 170.88 L42.19 170.17 L43.23 169.54 L44.40 169.00 L45.71 168.54 L47.14 168.17 L48.66 167.88 L50.22 167.67 L51.78 167.54 L53.30 167.50 L54.82 167.57 L56.40 167.75 L57.98 168.02 L59.50 168.34 L60.92 168.67 L62.20 169.00 L63.31 169.33 L64.29 169.69 L65.17 170.07 L65.98 170.46 L66.75 170.84 L67.50 171.20 L68.22 171.60 L68.87 172.07 L69.49 172.53 L70.08 172.91 L70.68 173.12 L71.30 173.10 L71.96 172.83 L72.65 172.39 L73.34 171.77 L74.01 171.03 L74.64 170.16 L75.20 169.20 L75.69 168.13 L76.13 166.92 L76.53 165.59 L76.90 164.17 L77.25 162.67 L77.60 161.10 L77.93 159.44 L78.22 157.68 L78.49 155.84 L78.77 153.94 L79.07 152.02 L79.40 150.10 L79.78 147.89 L80.20 145.32 L80.64 142.72 L81.09 140.44 L81.51 138.82 L81.90 138.20 L82.25 138.80 L82.59 140.38 L82.91 142.62 L83.21 145.21 L83.51 147.81 L83.80 150.10 L84.09 152.13 L84.36 154.16 L84.62 156.21 L84.89 158.29 L85.14 160.42 L85.40 162.60 L85.64 164.89 L85.84 167.30 L86.05 169.74 L86.28 172.17 L86.55 174.51 L86.90 176.70 L87.34 178.80 L87.84 180.89 L88.40 182.89 L88.98 184.73 L89.55 186.36 L90.10 187.70 L90.59 188.69 L91.02 189.37 L91.46 189.84 L91.93 190.17 L92.50 190.46 L93.20 190.80 L94.11 191.17 L95.20 191.49 L96.39 191.77 L97.56 192.02 L98.63 192.23 L99.50 192.40 L100.17 192.53 L100.71 192.61 L101.14 192.65 L101.49 192.67 L101.77 192.68 L102.00 192.70 L102.00 192.70 Z" fill="none" stroke="#ffffff" stroke-opacity="0.95" stroke-width="1.80" clip-path="url(#cg12)"/><path d="M13.30 192.70 L13.30 192.70 L13.80 192.38 L14.50 192.06 L15.32 191.61 L16.19 190.92 L17.04 189.86 L17.80 188.30 L18.48 186.21 L19.15 183.69 L19.79 180.79 L20.41 177.59 L20.98 174.14 L21.50 170.50 L21.97 166.37 L22.38 161.63 L22.76 156.64 L23.10 151.76 L23.41 147.36 L23.70 143.80 L23.95 140.97 L24.15 138.57 L24.32 136.64 L24.49 135.23 L24.68 134.40 L24.90 134.20 L25.15 134.71 L25.41 135.90 L25.69 137.67 L26.00 139.90 L26.33 142.48 L26.70 145.30 L27.11 148.66 L27.56 152.70 L28.03 157.10 L28.53 161.51 L29.06 165.59 L29.60 169.00 L30.15 171.89 L30.72 174.56 L31.31 176.89 L31.93 178.80 L32.59 180.17 L33.30 180.90 L34.07 180.75 L34.90 179.76 L35.76 178.22 L36.66 176.47 L37.58 174.79 L38.50 173.50 L39.41 172.55 L40.30 171.67 L41.22 170.88 L42.19 170.17 L43.23 169.54 L44.40 169.00 L45.71 168.54 L47.14 168.17 L48.66 167.88 L50.22 167.67 L51.78 167.54 L53.30 167.50 L54.82 167.57 L56.40 167.75 L57.98 168.02 L59.50 168.34 L60.92 168.67 L62.20 169.00 L63.31 169.33 L64.29 169.69 L65.17 170.07 L65.98 170.46 L66.75 170.84 L67.50 171.20 L68.22 171.60 L68.87 172.07 L69.49 172.53 L70.08 172.91 L70.68 173.12 L71.30 173.10 L71.96 172.83 L72.65 172.39 L73.34 171.77 L74.01 171.03 L74.64 170.16 L75.20 169.20 L75.69 168.13 L76.13 166.92 L76.53 165.59 L76.90 164.17 L77.25 162.67 L77.60 161.10 L77.93 159.44 L78.22 157.68 L78.49 155.84 L78.77 153.94 L79.07 152.02 L79.40 150.10 L79.78 147.89 L80.20 145.32 L80.64 142.72 L81.09 140.44 L81.51 138.82 L81.90 138.20 L82.25 138.80 L82.59 140.38 L82.91 142.62 L83.21 145.21 L83.51 147.81 L83.80 150.10 L84.09 152.13 L84.36 154.16 L84.62 156.21 L84.89 158.29 L85.14 160.42 L85.40 162.60 L85.64 164.89 L85.84 167.30 L86.05 169.74 L86.28 172.17 L86.55 174.51 L86.90 176.70 L87.34 178.80 L87.84 180.89 L88.40 182.89 L88.98 184.73 L89.55 186.36 L90.10 187.70 L90.59 188.69 L91.02 189.37 L91.46 189.84 L91.93 190.17 L92.50 190.46 L93.20 190.80 L94.11 191.17 L95.20 191.49 L96.39 191.77 L97.56 192.02 L98.63 192.23 L99.50 192.40 L100.17 192.53 L100.71 192.61 L101.14 192.65 L101.49 192.67 L101.77 192.68 L102.00 192.70 L102.00 192.70 Z" fill="url(#g12)"/><path d="M13.30 192.70 L13.30 192.70 L13.80 192.38 L14.50 192.06 L15.32 191.61 L16.19 190.92 L17.04 189.86 L17.80 188.30 L18.48 186.21 L19.15 183.69 L19.79 180.79 L20.41 177.59 L20.98 174.14 L21.50 170.50 L21.97 166.37 L22.38 161.63 L22.76 156.64 L23.10 151.76 L23.41 147.36 L23.70 143.80 L23.95 140.97 L24.15 138.57 L24.32 136.64 L24.49 135.23 L24.68 134.40 L24.90 134.20 L25.15 134.71 L25.41 135.90 L25.69 137.67 L26.00 139.90 L26.33 142.48 L26.70 145.30 L27.11 148.66 L27.56 152.70 L28.03 157.10 L28.53 161.51 L29.06 165.59 L29.60 169.00 L30.15 171.89 L30.72 174.56 L31.31 176.89 L31.93 178.80 L32.59 180.17 L33.30 180.90 L34.07 180.75 L34.90 179.76 L35.76 178.22 L36.66 176.47 L37.58 174.79 L38.50 173.50 L39.41 172.55 L40.30 171.67 L41.22 170.88 L42.19 170.17 L43.23 169.54 L44.40 169.00 L45.71 168.54 L47.14 168.17 L48.66 167.88 L50.22 167.67 L51.78 167.54 L53.30 167.50 L54.82 167.57 L56.40 167.75 L57.98 168.02 L59.50 168.34 L60.92 168.67 L62.20 169.00 L63.31 169.33 L64.29 169.69 L65.17 170.07 L65.98 170.46 L66.75 170.84 L67.50 171.20 L68.22 171.60 L68.87 172.07 L69.49 172.53 L70.08 172.91 L70.68 173.12 L71.30 173.10 L71.96 172.83 L72.65 172.39 L73.34 171.77 L74.01 171.03 L74.64 170.16 L75.20 169.20 L75.69 168.13 L76.13 166.92 L76.53 165.59 L76.90 164.17 L77.25 162.67 L77.60 161.10 L77.93 159.44 L78.22 157.68 L78.49 155.84 L78.77 153.94 L79.07 152.02 L79.40 150.10 L79.78 147.89 L80.20 145.32 L80.64 142.72 L81.09 140.44 L81.51 138.82 L81.90 138.20 L82.25 138.80 L82.59 140.38 L82.91 142.62 L83.21 145.21 L83.51 147.81 L83.80 150.10 L84.09 152.13 L84.36 154.16 L84.62 156.21 L84.89 158.29 L85.14 160.42 L85.40 162.60 L85.64 164.89 L85.84 167.30 L86.05 169.74 L86.28 172.17 L86.55 174.51 L86.90 176.70 L87.34 178.80 L87.84 180.89 L88.40 182.89 L88.98 184.73 L89.55 186.36 L90.10 187.70 L90.59 188.69 L91.02 189.37 L91.46 189.84 L91.93 190.17 L92.50 190.46 L93.20 190.80 L94.11 191.17 L95.20 191.49 L96.39 191.77 L97.56 192.02 L98.63 192.23 L99.50 192.40 L100.17 192.53 L100.71 192.61 L101.14 192.65 L101.49 192.67 L101.77 192.68 L102.00 192.70 L102.00 192.70 Z" fill="url(#stg12)"/></svg>
<div class="lb" style="left:0;top:0;width:125px;height:223px"><svg width="125" height="223" viewBox="0 0 125 223"><path d="M17.0 213.5 L21.0 209.8 L25.0 213.5 L24.2 218.0 L17.8 218.0 Z" fill="none" stroke="#a4a4a4" stroke-width="1"/><rect x="15.0" y="219.0" width="12" height="1.8" fill="#8e8e8e"/><rect x="58.2" y="210.0" width="8.5" height="8" fill="#d2e6f8"/><rect x="58.2" y="210.5" width="8.5" height="1" fill="#8cbce6"/><rect x="58.2" y="213.5" width="8.5" height="1" fill="#8cbce6"/><rect x="58.2" y="216.5" width="8.5" height="1" fill="#8cbce6"/><rect x="56.0" y="219.0" width="13" height="1.8" fill="#5a7496"/><circle cx="104.0" cy="212.0" r="2" fill="none" stroke="#b0b0b0" stroke-width="1"/><path d="M101.0 218.0 L101.5 215.0 L106.5 215.0 L107.0 218.0 Z" fill="none" stroke="#b0b0b0" stroke-width="1"/><rect x="100.5" y="219.0" width="7" height="1.8" fill="#9a9a9a"/></svg></div>
</div>
<div class="p" style="left:403px;top:242.5px;width:126px;height:223.5px;">
<div class="lb"><div style="left:10.10px;top:6.30px;width:3.50px;height:3.20px;background:#7e7e7e;"></div><div style="left:14.20px;top:6.30px;width:3.50px;height:3.20px;background:#7e7e7e;"></div><div style="left:18.30px;top:6.30px;width:3.50px;height:3.20px;background:#7e7e7e;"></div><div style="left:22.40px;top:6.30px;width:3.00px;height:3.20px;background:#7e7e7e;"></div><div style="left:26.00px;top:6.30px;width:3.50px;height:3.20px;background:#7e7e7e;"></div></div>
<div style="left:45.10px;top:8.20px;width:68.40px;height:0.80px;background:#f3f0e8;"></div>
<div class="lb"><div style="left:117.00px;top:6.50px;width:2.00px;height:4.00px;background:#b4b4b4;"></div></div>
<div style="left:0.00px;top:13.40px;width:126.00px;height:1.60px;background:#e6f0fa;"></div>
<div style="left:0.00px;top:15.00px;width:126.00px;height:1.60px;background:#c4d4e6;"></div>
<div class="lb"><div style="left:10.35px;top:20.70px;width:3.00px;height:3.20px;background:#7e7e7e;"></div><div style="left:13.95px;top:20.70px;width:3.50px;height:3.20px;background:#7e7e7e;"></div><div style="left:18.05px;top:20.70px;width:3.50px;height:3.20px;background:#7e7e7e;"></div><div style="left:22.15px;top:20.70px;width:3.00px;height:3.20px;background:#7e7e7e;"></div><div style="left:25.75px;top:20.70px;width:3.50px;height:3.20px;background:#7e7e7e;"></div></div>
<div style="left:45.10px;top:22.60px;width:68.40px;height:0.80px;background:#f3f0e8;"></div>
<div class="lb"><div style="left:117.00px;top:20.90px;width:2.00px;height:4.00px;background:#b4b4b4;"></div></div>
<div style="left:0.00px;top:27.80px;width:126.00px;height:1.60px;background:#e6f0fa;"></div>
<div style="left:0.00px;top:29.40px;width:126.00px;height:1.60px;background:#c4d4e6;"></div>
<div class="lb"><div style="left:10.10px;top:35.10px;width:3.50px;height:3.20px;background:#7e7e7e;"></div><div style="left:14.20px;top:35.10px;width:3.50px;height:3.20px;background:#7e7e7e;"></div><div style="left:18.30px;top:35.10px;width:3.50px;height:3.20px;background:#7e7e7e;"></div><div style="left:22.40px;top:35.10px;width:3.00px;height:3.20px;background:#7e7e7e;"></div><div style="left:26.00px;top:35.10px;width:3.50px;height:3.20px;background:#7e7e7e;"></div></div>
<div style="left:45.10px;top:37.00px;width:68.40px;height:0.80px;background:#f3f0e8;"></div>
<div class="lb"><div style="left:117.00px;top:35.30px;width:2.00px;height:4.00px;background:#b4b4b4;"></div></div>
<div style="left:0.00px;top:42.20px;width:126.00px;height:1.60px;background:#e6f0fa;"></div>
<div style="left:0.00px;top:43.80px;width:126.00px;height:1.60px;background:#c4d4e6;"></div>
<div class="lb"><div style="left:12.15px;top:49.50px;width:3.50px;height:3.20px;background:#7e7e7e;"></div><div style="left:16.25px;top:49.50px;width:3.50px;height:3.20px;background:#7e7e7e;"></div><div style="left:20.35px;top:49.50px;width:3.00px;height:3.20px;background:#7e7e7e;"></div><div style="left:23.95px;top:49.50px;width:3.50px;height:3.20px;background:#7e7e7e;"></div></div>
<div style="left:45.10px;top:51.40px;width:68.40px;height:0.80px;background:#f3f0e8;"></div>
<div class="lb"><div style="left:117.00px;top:49.70px;width:2.00px;height:4.00px;background:#b4b4b4;"></div></div>
<div style="left:0.00px;top:56.60px;width:126.00px;height:1.60px;background:#e6f0fa;"></div>
<div style="left:0.00px;top:58.20px;width:126.00px;height:1.60px;background:#c4d4e6;"></div>
<div class="lb"><div style="left:12.15px;top:63.90px;width:3.50px;height:3.20px;background:#7e7e7e;"></div><div style="left:16.25px;top:63.90px;width:3.50px;height:3.20px;background:#7e7e7e;"></div><div style="left:20.35px;top:63.90px;width:3.50px;height:3.20px;background:#7e7e7e;"></div><div style="left:24.45px;top:63.90px;width:3.00px;height:3.20px;background:#7e7e7e;"></div></div>
<div style="left:45.10px;top:65.80px;width:68.40px;height:0.80px;background:#f3f0e8;"></div>
<div class="lb"><div style="left:117.00px;top:64.10px;width:2.00px;height:4.00px;background:#b4b4b4;"></div></div>
<div style="left:0.00px;top:71.00px;width:126.00px;height:1.60px;background:#e6f0fa;"></div>
<div style="left:0.00px;top:72.60px;width:126.00px;height:1.60px;background:#c4d4e6;"></div>
<div class="lb"><div style="left:10.60px;top:78.30px;width:3.50px;height:3.20px;background:#7e7e7e;"></div><div style="left:14.70px;top:78.30px;width:3.50px;height:3.20px;background:#7e7e7e;"></div><div style="left:18.80px;top:78.30px;width:3.50px;height:3.20px;background:#7e7e7e;"></div><div style="left:22.90px;top:78.30px;width:3.50px;height:3.20px;background:#7e7e7e;"></div><div style="left:27.00px;top:78.30px;width:2.00px;height:3.20px;background:#7e7e7e;"></div></div>
<div style="left:45.10px;top:80.20px;width:68.40px;height:0.80px;background:#f3f0e8;"></div>
<div class="lb"><div style="left:117.00px;top:78.50px;width:2.00px;height:4.00px;background:#b4b4b4;"></div></div>
<div style="left:0.00px;top:85.40px;width:126.00px;height:1.60px;background:#e6f0fa;"></div>
<div style="left:0.00px;top:87.00px;width:126.00px;height:1.60px;background:#c4d4e6;"></div>
<div class="lb"><div style="left:10.60px;top:92.70px;width:3.50px;height:3.20px;background:#7e7e7e;"></div><div style="left:14.70px;top:92.70px;width:3.50px;height:3.20px;background:#7e7e7e;"></div><div style="left:18.80px;top:92.70px;width:3.50px;height:3.20px;background:#7e7e7e;"></div><div style="left:22.90px;top:92.70px;width:3.50px;height:3.20px;background:#7e7e7e;"></div><div style="left:27.00px;top:92.70px;width:2.00px;height:3.20px;background:#7e7e7e;"></div></div>
<div style="left:45.10px;top:94.60px;width:68.40px;height:0.80px;background:#f3f0e8;"></div>
<div class="lb"><div style="left:115.00px;top:92.90px;width:4.00px;height:4.00px;background:#b4b4b4;"></div></div>
<div style="left:0.00px;top:99.80px;width:126.00px;height:1.60px;background:#e6f0fa;"></div>
<div style="left:0.00px;top:101.40px;width:126.00px;height:1.60px;background:#c4d4e6;"></div>
<div class="lb"><div style="left:10.60px;top:107.10px;width:3.50px;height:3.20px;background:#7e7e7e;"></div><div style="left:14.70px;top:107.10px;width:3.50px;height:3.20px;background:#7e7e7e;"></div><div style="left:18.80px;top:107.10px;width:3.50px;height:3.20px;background:#7e7e7e;"></div><div style="left:22.90px;top:107.10px;width:3.50px;height:3.20px;background:#7e7e7e;"></div><div style="left:27.00px;top:107.10px;width:2.00px;height:3.20px;background:#7e7e7e;"></div></div>
<div style="left:45.10px;top:109.00px;width:68.40px;height:0.80px;background:#f3f0e8;"></div>
<div class="lb"><div style="left:113.00px;top:107.30px;width:6.00px;height:4.00px;background:#b4b4b4;"></div></div>
<div class="lb"><div style="left:44.9px;top:77.4px;width:4.2px;height:4.2px;border-radius:50%;background:#d6d4f2;border:1px solid #9696cc;"></div></div>
<div class="lb"><div style="left:45.10px;top:94.30px;width:12.90px;height:1.30px;background:#8aac86;"></div></div>
<div class="lb"><div style="left:54.9px;top:91.8px;width:4.2px;height:4.2px;border-radius:50%;background:#d2d2ea;border:1px solid #9696cc;"></div></div>
<div class="lb"><div style="left:45.10px;top:108.70px;width:9.90px;height:1.30px;background:#8aac86;"></div></div>
<div class="lb"><div style="left:51.9px;top:106.2px;width:4.2px;height:4.2px;border-radius:50%;background:#d0d0e6;border:1px solid #9696cc;"></div></div>
<div style="left:34.10px;top:0.00px;width:3.75px;height:116.00px;background:#eef8fc;"></div>
<div style="left:39.35px;top:0.00px;width:3.00px;height:116.00px;background:#f4f4fc;"></div>
<div style="left:37.85px;top:0.00px;width:1.50px;height:116.00px;background:#a8c2dc;"></div>
<div style="left:0.00px;top:116.00px;width:126.00px;height:90.50px;background:#e0e0e0;"></div>
<div class="lb"><div style="left:5.50px;top:118.60px;width:9.00px;height:2.40px;background:#888888;"></div><div style="left:16.10px;top:118.60px;width:9.00px;height:2.40px;background:#888888;"></div><div style="left:26.70px;top:118.60px;width:7.80px;height:2.40px;background:#888888;"></div><div style="left:5.50px;top:123.00px;width:6.00px;height:2.40px;background:#888888;"></div><div style="left:13.10px;top:123.00px;width:15.00px;height:2.40px;background:#888888;"></div><div style="left:29.70px;top:123.00px;width:15.00px;height:2.40px;background:#888888;"></div><div style="left:46.30px;top:123.00px;width:9.00px;height:2.40px;background:#888888;"></div><div style="left:56.90px;top:123.00px;width:6.00px;height:2.40px;background:#888888;"></div><div style="left:64.50px;top:123.00px;width:11.00px;height:2.40px;background:#888888;"></div><div style="left:77.10px;top:123.00px;width:13.00px;height:2.40px;background:#888888;"></div><div style="left:91.70px;top:123.00px;width:8.30px;height:2.40px;background:#888888;"></div></div>
<div class="lb"><div style="left:21.00px;top:194.70px;width:7.00px;height:1.80px;background:#b0b0b0;"></div><div style="left:78.00px;top:194.70px;width:7.00px;height:1.80px;background:#b8b8b8;"></div><div style="left:100.00px;top:194.70px;width:5.00px;height:1.80px;background:#c0c0c0;"></div></div>
<div style="left:4.50px;top:192.70px;width:1.50px;height:0.60px;background:#b0b0b0;"></div>
<div style="left:4.50px;top:182.20px;width:1.50px;height:0.60px;background:#b0b0b0;"></div>
<div style="left:4.50px;top:171.70px;width:1.50px;height:0.60px;background:#b0b0b0;"></div>
<div style="left:4.50px;top:161.20px;width:1.50px;height:0.60px;background:#b0b0b0;"></div>
<div style="left:4.50px;top:150.70px;width:1.50px;height:0.60px;background:#b0b0b0;"></div>
<div style="left:4.50px;top:140.20px;width:1.50px;height:0.60px;background:#b0b0b0;"></div>
<div style="left:5.40px;top:129.50px;width:0.90px;height:63.20px;background:#a8a8a8;"></div>
<div style="left:6.00px;top:192.50px;width:110.00px;height:0.90px;background:#8a8a8a;"></div>
<svg width="126" height="223" viewBox="0 0 126 223"><defs><linearGradient id="g13" gradientUnits="userSpaceOnUse" x1="6" y1="0" x2="116" y2="0"><stop offset="0.0000" stop-color="#1e2a80"/><stop offset="0.0636" stop-color="#2234a8"/><stop offset="0.1091" stop-color="#2244c0"/><stop offset="0.1500" stop-color="#1c56cc"/><stop offset="0.1782" stop-color="#1a66cc"/><stop offset="0.2068" stop-color="#1a7ebc"/><stop offset="0.2409" stop-color="#0f9a98"/><stop offset="0.2727" stop-color="#1aa874"/><stop offset="0.3182" stop-color="#38c040"/><stop offset="0.3636" stop-color="#80d840"/><stop offset="0.3909" stop-color="#b0e040"/><stop offset="0.4227" stop-color="#e8d030"/><stop offset="0.4682" stop-color="#f0a820"/><stop offset="0.5364" stop-color="#f08020"/><stop offset="0.6045" stop-color="#e85020"/><stop offset="0.6636" stop-color="#d42818"/><stop offset="0.7182" stop-color="#b81a14"/><stop offset="0.7818" stop-color="#a01414"/><stop offset="0.8545" stop-color="#861010"/><stop offset="0.9273" stop-color="#6e0e0e"/><stop offset="1.0000" stop-color="#560a0a"/></linearGradient><clipPath id="cg13"><rect x="0" y="0" width="126" height="191.70"/></clipPath><pattern id="stg13" width="2.6" height="20" patternUnits="userSpaceOnUse"><rect x="0" y="0" width="0.9" height="20" fill="#000" fill-opacity="0.10"/></pattern></defs><path d="M14.10 192.70 L14.10 192.70 L14.59 192.18 L15.27 191.56 L16.07 190.77 L16.92 189.76 L17.76 188.45 L18.50 186.80 L19.17 184.75 L19.84 182.36 L20.49 179.67 L21.10 176.76 L21.68 173.68 L22.20 170.50 L22.66 166.98 L23.07 163.02 L23.44 158.89 L23.77 154.88 L24.09 151.26 L24.40 148.30 L24.69 145.92 L24.94 143.87 L25.17 142.21 L25.40 140.99 L25.63 140.27 L25.90 140.10 L26.19 140.52 L26.48 141.49 L26.78 142.96 L27.10 144.87 L27.44 147.17 L27.80 149.80 L28.19 153.06 L28.60 157.05 L29.04 161.42 L29.49 165.85 L29.94 169.99 L30.40 173.50 L30.84 176.41 L31.26 179.00 L31.69 181.31 L32.15 183.35 L32.68 185.17 L33.30 186.80 L34.03 188.19 L34.84 189.30 L35.71 190.19 L36.63 190.90 L37.57 191.49 L38.50 192.00 L39.39 192.39 L40.26 192.60 L41.14 192.69 L42.10 192.70 L43.17 192.69 L44.40 192.70 L45.92 192.70 L47.72 192.70 L49.63 192.70 L51.50 192.70 L53.18 192.59 L54.50 192.40 L55.41 192.15 L56.03 191.86 L56.44 191.51 L56.76 191.07 L57.08 190.54 L57.50 189.90 L58.01 189.10 L58.53 188.15 L59.06 187.11 L59.57 186.01 L60.05 184.93 L60.50 183.90 L60.88 183.03 L61.20 182.31 L61.49 181.59 L61.79 180.74 L62.15 179.63 L62.60 178.10 L63.15 176.12 L63.77 173.77 L64.44 171.16 L65.14 168.37 L65.87 165.49 L66.60 162.60 L67.35 159.55 L68.14 156.23 L68.96 152.81 L69.77 149.49 L70.55 146.42 L71.30 143.80 L72.00 141.62 L72.66 139.74 L73.30 138.12 L73.93 136.74 L74.56 135.54 L75.20 134.50 L75.84 133.63 L76.47 132.96 L77.10 132.47 L77.74 132.18 L78.40 132.06 L79.10 132.10 L79.84 132.30 L80.61 132.67 L81.40 133.21 L82.20 133.94 L83.01 134.87 L83.80 136.00 L84.57 137.39 L85.34 139.03 L86.10 140.86 L86.87 142.84 L87.67 144.91 L88.50 147.00 L89.36 149.19 L90.25 151.53 L91.16 153.96 L92.09 156.40 L93.03 158.81 L94.00 161.10 L94.99 163.32 L96.01 165.53 L97.05 167.69 L98.10 169.78 L99.15 171.76 L100.20 173.60 L101.25 175.29 L102.30 176.87 L103.35 178.34 L104.40 179.71 L105.45 180.99 L106.50 182.20 L107.57 183.32 L108.69 184.36 L109.79 185.30 L110.86 186.17 L111.84 186.96 L112.70 187.70 L113.43 188.36 L114.07 188.92 L114.62 189.42 L115.10 189.87 L115.52 190.29 L115.90 190.70 L116.22 191.11 L116.46 191.51 L116.65 191.89 L116.79 192.22 L116.90 192.49 L117.00 192.70 L117.00 192.70 Z" fill="none" stroke="#ffffff" stroke-opacity="0.95" stroke-width="1.80" clip-path="url(#cg13)"/><path d="M14.10 192.70 L14.10 192.70 L14.59 192.18 L15.27 191.56 L16.07 190.77 L16.92 189.76 L17.76 188.45 L18.50 186.80 L19.17 184.75 L19.84 182.36 L20.49 179.67 L21.10 176.76 L21.68 173.68 L22.20 170.50 L22.66 166.98 L23.07 163.02 L23.44 158.89 L23.77 154.88 L24.09 151.26 L24.40 148.30 L24.69 145.92 L24.94 143.87 L25.17 142.21 L25.40 140.99 L25.63 140.27 L25.90 140.10 L26.19 140.52 L26.48 141.49 L26.78 142.96 L27.10 144.87 L27.44 147.17 L27.80 149.80 L28.19 153.06 L28.60 157.05 L29.04 161.42 L29.49 165.85 L29.94 169.99 L30.40 173.50 L30.84 176.41 L31.26 179.00 L31.69 181.31 L32.15 183.35 L32.68 185.17 L33.30 186.80 L34.03 188.19 L34.84 189.30 L35.71 190.19 L36.63 190.90 L37.57 191.49 L38.50 192.00 L39.39 192.39 L40.26 192.60 L41.14 192.69 L42.10 192.70 L43.17 192.69 L44.40 192.70 L45.92 192.70 L47.72 192.70 L49.63 192.70 L51.50 192.70 L53.18 192.59 L54.50 192.40 L55.41 192.15 L56.03 191.86 L56.44 191.51 L56.76 191.07 L57.08 190.54 L57.50 189.90 L58.01 189.10 L58.53 188.15 L59.06 187.11 L59.57 186.01 L60.05 184.93 L60.50 183.90 L60.88 183.03 L61.20 182.31 L61.49 181.59 L61.79 180.74 L62.15 179.63 L62.60 178.10 L63.15 176.12 L63.77 173.77 L64.44 171.16 L65.14 168.37 L65.87 165.49 L66.60 162.60 L67.35 159.55 L68.14 156.23 L68.96 152.81 L69.77 149.49 L70.55 146.42 L71.30 143.80 L72.00 141.62 L72.66 139.74 L73.30 138.12 L73.93 136.74 L74.56 135.54 L75.20 134.50 L75.84 133.63 L76.47 132.96 L77.10 132.47 L77.74 132.18 L78.40 132.06 L79.10 132.10 L79.84 132.30 L80.61 132.67 L81.40 133.21 L82.20 133.94 L83.01 134.87 L83.80 136.00 L84.57 137.39 L85.34 139.03 L86.10 140.86 L86.87 142.84 L87.67 144.91 L88.50 147.00 L89.36 149.19 L90.25 151.53 L91.16 153.96 L92.09 156.40 L93.03 158.81 L94.00 161.10 L94.99 163.32 L96.01 165.53 L97.05 167.69 L98.10 169.78 L99.15 171.76 L100.20 173.60 L101.25 175.29 L102.30 176.87 L103.35 178.34 L104.40 179.71 L105.45 180.99 L106.50 182.20 L107.57 183.32 L108.69 184.36 L109.79 185.30 L110.86 186.17 L111.84 186.96 L112.70 187.70 L113.43 188.36 L114.07 188.92 L114.62 189.42 L115.10 189.87 L115.52 190.29 L115.90 190.70 L116.22 191.11 L116.46 191.51 L116.65 191.89 L116.79 192.22 L116.90 192.49 L117.00 192.70 L117.00 192.70 Z" fill="url(#g13)"/><path d="M14.10 192.70 L14.10 192.70 L14.59 192.18 L15.27 191.56 L16.07 190.77 L16.92 189.76 L17.76 188.45 L18.50 186.80 L19.17 184.75 L19.84 182.36 L20.49 179.67 L21.10 176.76 L21.68 173.68 L22.20 170.50 L22.66 166.98 L23.07 163.02 L23.44 158.89 L23.77 154.88 L24.09 151.26 L24.40 148.30 L24.69 145.92 L24.94 143.87 L25.17 142.21 L25.40 140.99 L25.63 140.27 L25.90 140.10 L26.19 140.52 L26.48 141.49 L26.78 142.96 L27.10 144.87 L27.44 147.17 L27.80 149.80 L28.19 153.06 L28.60 157.05 L29.04 161.42 L29.49 165.85 L29.94 169.99 L30.40 173.50 L30.84 176.41 L31.26 179.00 L31.69 181.31 L32.15 183.35 L32.68 185.17 L33.30 186.80 L34.03 188.19 L34.84 189.30 L35.71 190.19 L36.63 190.90 L37.57 191.49 L38.50 192.00 L39.39 192.39 L40.26 192.60 L41.14 192.69 L42.10 192.70 L43.17 192.69 L44.40 192.70 L45.92 192.70 L47.72 192.70 L49.63 192.70 L51.50 192.70 L53.18 192.59 L54.50 192.40 L55.41 192.15 L56.03 191.86 L56.44 191.51 L56.76 191.07 L57.08 190.54 L57.50 189.90 L58.01 189.10 L58.53 188.15 L59.06 187.11 L59.57 186.01 L60.05 184.93 L60.50 183.90 L60.88 183.03 L61.20 182.31 L61.49 181.59 L61.79 180.74 L62.15 179.63 L62.60 178.10 L63.15 176.12 L63.77 173.77 L64.44 171.16 L65.14 168.37 L65.87 165.49 L66.60 162.60 L67.35 159.55 L68.14 156.23 L68.96 152.81 L69.77 149.49 L70.55 146.42 L71.30 143.80 L72.00 141.62 L72.66 139.74 L73.30 138.12 L73.93 136.74 L74.56 135.54 L75.20 134.50 L75.84 133.63 L76.47 132.96 L77.10 132.47 L77.74 132.18 L78.40 132.06 L79.10 132.10 L79.84 132.30 L80.61 132.67 L81.40 133.21 L82.20 133.94 L83.01 134.87 L83.80 136.00 L84.57 137.39 L85.34 139.03 L86.10 140.86 L86.87 142.84 L87.67 144.91 L88.50 147.00 L89.36 149.19 L90.25 151.53 L91.16 153.96 L92.09 156.40 L93.03 158.81 L94.00 161.10 L94.99 163.32 L96.01 165.53 L97.05 167.69 L98.10 169.78 L99.15 171.76 L100.20 173.60 L101.25 175.29 L102.30 176.87 L103.35 178.34 L104.40 179.71 L105.45 180.99 L106.50 182.20 L107.57 183.32 L108.69 184.36 L109.79 185.30 L110.86 186.17 L111.84 186.96 L112.70 187.70 L113.43 188.36 L114.07 188.92 L114.62 189.42 L115.10 189.87 L115.52 190.29 L115.90 190.70 L116.22 191.11 L116.46 191.51 L116.65 191.89 L116.79 192.22 L116.90 192.49 L117.00 192.70 L117.00 192.70 Z" fill="url(#stg13)"/></svg>
<div class="lb" style="left:0;top:0;width:126px;height:223px"><svg width="126" height="223" viewBox="0 0 126 223"><path d="M17.0 213.5 L21.0 209.8 L25.0 213.5 L24.2 218.0 L17.8 218.0 Z" fill="none" stroke="#a4a4a4" stroke-width="1"/><rect x="15.0" y="219.0" width="12" height="1.8" fill="#8e8e8e"/><rect x="58.8" y="210.0" width="8.5" height="8" fill="#d2e6f8"/><rect x="58.8" y="210.5" width="8.5" height="1" fill="#8cbce6"/><rect x="58.8" y="213.5" width="8.5" height="1" fill="#8cbce6"/><rect x="58.8" y="216.5" width="8.5" height="1" fill="#8cbce6"/><rect x="56.5" y="219.0" width="13" height="1.8" fill="#5a7496"/><circle cx="105.0" cy="212.0" r="2" fill="none" stroke="#b0b0b0" stroke-width="1"/><path d="M102.0 218.0 L102.5 215.0 L107.5 215.0 L108.0 218.0 Z" fill="none" stroke="#b0b0b0" stroke-width="1"/><rect x="101.5" y="219.0" width="7" height="1.8" fill="#9a9a9a"/></svg></div>
</div>
<div class="p" style="left:536px;top:242.5px;width:127px;height:223.5px;">
<div class="lb"><div style="left:10.20px;top:6.30px;width:3.50px;height:3.20px;background:#7e7e7e;"></div><div style="left:14.30px;top:6.30px;width:3.50px;height:3.20px;background:#7e7e7e;"></div><div style="left:18.40px;top:6.30px;width:3.50px;height:3.20px;background:#7e7e7e;"></div><div style="left:22.50px;top:6.30px;width:3.00px;height:3.20px;background:#7e7e7e;"></div><div style="left:26.10px;top:6.30px;width:3.50px;height:3.20px;background:#7e7e7e;"></div></div>
<div style="left:45.30px;top:8.20px;width:69.20px;height:0.80px;background:#f3f0e8;"></div>
<div class="lb"><div style="left:118.00px;top:6.50px;width:2.00px;height:4.00px;background:#b4b4b4;"></div></div>
<div style="left:0.00px;top:13.40px;width:127.00px;height:1.60px;background:#e6f0fa;"></div>
<div style="left:0.00px;top:15.00px;width:127.00px;height:1.60px;background:#c4d4e6;"></div>
<div class="lb"><div style="left:10.45px;top:20.70px;width:3.00px;height:3.20px;background:#7e7e7e;"></div><div style="left:14.05px;top:20.70px;width:3.50px;height:3.20px;background:#7e7e7e;"></div><div style="left:18.15px;top:20.70px;width:3.50px;height:3.20px;background:#7e7e7e;"></div><div style="left:22.25px;top:20.70px;width:3.00px;height:3.20px;background:#7e7e7e;"></div><div style="left:25.85px;top:20.70px;width:3.50px;height:3.20px;background:#7e7e7e;"></div></div>
<div style="left:45.30px;top:22.60px;width:69.20px;height:0.80px;background:#f3f0e8;"></div>
<div class="lb"><div style="left:118.00px;top:20.90px;width:2.00px;height:4.00px;background:#b4b4b4;"></div></div>
<div style="left:0.00px;top:27.80px;width:127.00px;height:1.60px;background:#e6f0fa;"></div>
<div style="left:0.00px;top:29.40px;width:127.00px;height:1.60px;background:#c4d4e6;"></div>
<div class="lb"><div style="left:10.20px;top:35.10px;width:3.50px;height:3.20px;background:#7e7e7e;"></div><div style="left:14.30px;top:35.10px;width:3.50px;height:3.20px;background:#7e7e7e;"></div><div style="left:18.40px;top:35.10px;width:3.50px;height:3.20px;background:#7e7e7e;"></div><div style="left:22.50px;top:35.10px;width:3.00px;height:3.20px;background:#7e7e7e;"></div><div style="left:26.10px;top:35.10px;width:3.50px;height:3.20px;background:#7e7e7e;"></div></div>
<div style="left:45.30px;top:37.00px;width:69.20px;height:0.80px;background:#f3f0e8;"></div>
<div class="lb"><div style="left:118.00px;top:35.30px;width:2.00px;height:4.00px;background:#b4b4b4;"></div></div>
<div style="left:0.00px;top:42.20px;width:127.00px;height:1.60px;background:#e6f0fa;"></div>
<div style="left:0.00px;top:43.80px;width:127.00px;height:1.60px;background:#c4d4e6;"></div>
<div class="lb"><div style="left:12.25px;top:49.50px;width:3.50px;height:3.20px;background:#7e7e7e;"></div><div style="left:16.35px;top:49.50px;width:3.50px;height:3.20px;background:#7e7e7e;"></div><div style="left:20.45px;top:49.50px;width:3.00px;height:3.20px;background:#7e7e7e;"></div><div style="left:24.05px;top:49.50px;width:3.50px;height:3.20px;background:#7e7e7e;"></div></div>
<div style="left:45.30px;top:51.40px;width:69.20px;height:0.80px;background:#f3f0e8;"></div>
<div class="lb"><div style="left:118.00px;top:49.70px;width:2.00px;height:4.00px;background:#b4b4b4;"></div></div>
<div style="left:0.00px;top:56.60px;width:127.00px;height:1.60px;background:#e6f0fa;"></div>
<div style="left:0.00px;top:58.20px;width:127.00px;height:1.60px;background:#c4d4e6;"></div>
<div class="lb"><div style="left:12.25px;top:63.90px;width:3.50px;height:3.20px;background:#7e7e7e;"></div><div style="left:16.35px;top:63.90px;width:3.50px;height:3.20px;background:#7e7e7e;"></div><div style="left:20.45px;top:63.90px;width:3.50px;height:3.20px;background:#7e7e7e;"></div><div style="left:24.55px;top:63.90px;width:3.00px;height:3.20px;background:#7e7e7e;"></div></div>
<div style="left:45.30px;top:65.80px;width:69.20px;height:0.80px;background:#f3f0e8;"></div>
<div class="lb"><div style="left:118.00px;top:64.10px;width:2.00px;height:4.00px;background:#b4b4b4;"></div></div>
<div style="left:0.00px;top:71.00px;width:127.00px;height:1.60px;background:#e6f0fa;"></div>
<div style="left:0.00px;top:72.60px;width:127.00px;height:1.60px;background:#c4d4e6;"></div>
<div class="lb"><div style="left:10.70px;top:78.30px;width:3.50px;height:3.20px;background:#7e7e7e;"></div><div style="left:14.80px;top:78.30px;width:3.50px;height:3.20px;background:#7e7e7e;"></div><div style="left:18.90px;top:78.30px;width:3.50px;height:3.20px;background:#7e7e7e;"></div><div style="left:23.00px;top:78.30px;width:3.50px;height:3.20px;background:#7e7e7e;"></div><div style="left:27.10px;top:78.30px;width:2.00px;height:3.20px;background:#7e7e7e;"></div></div>
<div style="left:45.30px;top:80.20px;width:69.20px;height:0.80px;background:#f3f0e8;"></div>
<div class="lb"><div style="left:118.00px;top:78.50px;width:2.00px;height:4.00px;background:#b4b4b4;"></div></div>
<div style="left:0.00px;top:85.40px;width:127.00px;height:1.60px;background:#e6f0fa;"></div>
<div style="left:0.00px;top:87.00px;width:127.00px;height:1.60px;background:#c4d4e6;"></div>
<div class="lb"><div style="left:10.70px;top:92.70px;width:3.50px;height:3.20px;background:#7e7e7e;"></div><div style="left:14.80px;top:92.70px;width:3.50px;height:3.20px;background:#7e7e7e;"></div><div style="left:18.90px;top:92.70px;width:3.50px;height:3.20px;background:#7e7e7e;"></div><div style="left:23.00px;top:92.70px;width:3.50px;height:3.20px;background:#7e7e7e;"></div><div style="left:27.10px;top:92.70px;width:2.00px;height:3.20px;background:#7e7e7e;"></div></div>
<div style="left:45.30px;top:94.60px;width:69.20px;height:0.80px;background:#f3f0e8;"></div>
<div class="lb"><div style="left:116.00px;top:92.90px;width:4.00px;height:4.00px;background:#b4b4b4;"></div></div>
<div style="left:0.00px;top:99.80px;width:127.00px;height:1.60px;background:#e6f0fa;"></div>
<div style="left:0.00px;top:101.40px;width:127.00px;height:1.60px;background:#c4d4e6;"></div>
<div class="lb"><div style="left:10.70px;top:107.10px;width:3.50px;height:3.20px;background:#7e7e7e;"></div><div style="left:14.80px;top:107.10px;width:3.50px;height:3.20px;background:#7e7e7e;"></div><div style="left:18.90px;top:107.10px;width:3.50px;height:3.20px;background:#7e7e7e;"></div><div style="left:23.00px;top:107.10px;width:3.50px;height:3.20px;background:#7e7e7e;"></div><div style="left:27.10px;top:107.10px;width:2.00px;height:3.20px;background:#7e7e7e;"></div></div>
<div style="left:45.30px;top:109.00px;width:69.20px;height:0.80px;background:#f3f0e8;"></div>
<div class="lb"><div style="left:114.00px;top:107.30px;width:6.00px;height:4.00px;background:#b4b4b4;"></div></div>
<div class="lb"><div style="left:46.6px;top:77.4px;width:4.2px;height:4.2px;border-radius:50%;background:#d6d4f2;border:1px solid #9696cc;"></div></div>
<div class="lb"><div style="left:45.30px;top:94.30px;width:14.50px;height:1.30px;background:#8aac86;"></div></div>
<div class="lb"><div style="left:56.7px;top:91.8px;width:4.2px;height:4.2px;border-radius:50%;background:#d2d2ea;border:1px solid #9696cc;"></div></div>
<div class="lb"><div style="left:45.30px;top:108.70px;width:10.10px;height:1.30px;background:#8aac86;"></div></div>
<div class="lb"><div style="left:52.3px;top:106.2px;width:4.2px;height:4.2px;border-radius:50%;background:#d0d0e6;border:1px solid #9696cc;"></div></div>
<div style="left:34.30px;top:0.00px;width:3.75px;height:116.00px;background:#eef8fc;"></div>
<div style="left:39.55px;top:0.00px;width:3.00px;height:116.00px;background:#f4f4fc;"></div>
<div style="left:38.05px;top:0.00px;width:1.50px;height:116.00px;background:#a8c2dc;"></div>
<div style="left:0.00px;top:116.00px;width:127.00px;height:90.50px;background:#e0e0e0;"></div>
<div class="lb"><div style="left:5.50px;top:118.60px;width:6.00px;height:2.40px;background:#888888;"></div><div style="left:13.10px;top:118.60px;width:13.00px;height:2.40px;background:#888888;"></div><div style="left:27.70px;top:118.60px;width:8.30px;height:2.40px;background:#888888;"></div><div style="left:5.50px;top:123.00px;width:8.00px;height:2.40px;background:#888888;"></div><div style="left:15.10px;top:123.00px;width:13.00px;height:2.40px;background:#888888;"></div><div style="left:29.70px;top:123.00px;width:6.00px;height:2.40px;background:#888888;"></div><div style="left:37.30px;top:123.00px;width:9.00px;height:2.40px;background:#888888;"></div><div style="left:47.90px;top:123.00px;width:15.00px;height:2.40px;background:#888888;"></div><div style="left:64.50px;top:123.00px;width:8.00px;height:2.40px;background:#888888;"></div><div style="left:74.10px;top:123.00px;width:15.00px;height:2.40px;background:#888888;"></div><div style="left:90.70px;top:123.00px;width:12.30px;height:2.40px;background:#888888;"></div></div>
<div class="lb"><div style="left:21.00px;top:194.70px;width:7.00px;height:1.80px;background:#b0b0b0;"></div><div style="left:78.00px;top:194.70px;width:7.00px;height:1.80px;background:#b8b8b8;"></div><div style="left:100.00px;top:194.70px;width:5.00px;height:1.80px;background:#c0c0c0;"></div></div>
<div style="left:4.50px;top:192.70px;width:1.50px;height:0.60px;background:#b0b0b0;"></div>
<div style="left:4.50px;top:182.20px;width:1.50px;height:0.60px;background:#b0b0b0;"></div>
<div style="left:4.50px;top:171.70px;width:1.50px;height:0.60px;background:#b0b0b0;"></div>
<div style="left:4.50px;top:161.20px;width:1.50px;height:0.60px;background:#b0b0b0;"></div>
<div style="left:4.50px;top:150.70px;width:1.50px;height:0.60px;background:#b0b0b0;"></div>
<div style="left:4.50px;top:140.20px;width:1.50px;height:0.60px;background:#b0b0b0;"></div>
<div style="left:5.40px;top:129.50px;width:0.90px;height:63.20px;background:#a8a8a8;"></div>
<div style="left:6.00px;top:192.50px;width:110.00px;height:0.90px;background:#8a8a8a;"></div>
<svg width="127" height="223" viewBox="0 0 127 223"><defs><linearGradient id="g14" gradientUnits="userSpaceOnUse" x1="6" y1="0" x2="116" y2="0"><stop offset="0.0000" stop-color="#1e2a80"/><stop offset="0.0636" stop-color="#2234a8"/><stop offset="0.1091" stop-color="#2244c0"/><stop offset="0.1500" stop-color="#1c56cc"/><stop offset="0.1782" stop-color="#1a66cc"/><stop offset="0.2068" stop-color="#1a7ebc"/><stop offset="0.2409" stop-color="#0f9a98"/><stop offset="0.2727" stop-color="#1aa874"/><stop offset="0.3182" stop-color="#38c040"/><stop offset="0.3636" stop-color="#80d840"/><stop offset="0.3909" stop-color="#b0e040"/><stop offset="0.4227" stop-color="#e8d030"/><stop offset="0.4682" stop-color="#f0a820"/><stop offset="0.5364" stop-color="#f08020"/><stop offset="0.6045" stop-color="#e85020"/><stop offset="0.6636" stop-color="#d42818"/><stop offset="0.7182" stop-color="#b81a14"/><stop offset="0.7818" stop-color="#a01414"/><stop offset="0.8545" stop-color="#861010"/><stop offset="0.9273" stop-color="#6e0e0e"/><stop offset="1.0000" stop-color="#560a0a"/></linearGradient><clipPath id="cg14"><rect x="0" y="0" width="127" height="191.70"/></clipPath><pattern id="stg14" width="2.6" height="20" patternUnits="userSpaceOnUse"><rect x="0" y="0" width="0.9" height="20" fill="#000" fill-opacity="0.10"/></pattern></defs><path d="M14.80 192.70 L14.80 192.70 L15.29 192.02 L15.99 191.17 L16.81 190.11 L17.67 188.81 L18.50 187.22 L19.20 185.30 L19.79 183.04 L20.33 180.46 L20.84 177.60 L21.31 174.47 L21.76 171.10 L22.20 167.50 L22.62 163.35 L23.02 158.57 L23.39 153.55 L23.75 148.67 L24.08 144.32 L24.40 140.90 L24.68 138.35 L24.93 136.36 L25.15 134.89 L25.37 133.94 L25.62 133.49 L25.90 133.50 L26.22 134.04 L26.55 135.13 L26.91 136.71 L27.28 138.72 L27.68 141.10 L28.10 143.80 L28.55 147.08 L29.01 151.04 L29.51 155.37 L30.02 159.76 L30.55 163.91 L31.10 167.50 L31.66 170.69 L32.23 173.75 L32.81 176.56 L33.43 179.01 L34.09 180.96 L34.80 182.30 L35.59 182.86 L36.45 182.70 L37.36 182.06 L38.27 181.14 L39.16 180.18 L40.00 179.40 L40.76 178.70 L41.47 177.88 L42.16 177.01 L42.85 176.18 L43.59 175.45 L44.40 174.90 L45.30 174.52 L46.25 174.25 L47.25 174.08 L48.27 174.02 L49.29 174.06 L50.30 174.20 L51.30 174.50 L52.30 174.96 L53.30 175.52 L54.30 176.12 L55.30 176.70 L56.30 177.20 L57.31 177.71 L58.33 178.29 L59.35 178.86 L60.35 179.30 L61.30 179.51 L62.20 179.40 L63.00 178.97 L63.72 178.31 L64.40 177.42 L65.08 176.32 L65.80 175.01 L66.60 173.50 L67.50 171.68 L68.45 169.53 L69.45 167.17 L70.47 164.73 L71.49 162.33 L72.50 160.10 L73.51 157.95 L74.55 155.75 L75.59 153.59 L76.61 151.57 L77.59 149.78 L78.50 148.30 L79.31 147.10 L80.03 146.09 L80.71 145.30 L81.38 144.77 L82.10 144.53 L82.90 144.60 L83.80 145.03 L84.75 145.79 L85.75 146.83 L86.77 148.11 L87.79 149.59 L88.80 151.20 L89.80 153.08 L90.80 155.28 L91.80 157.67 L92.80 160.11 L93.80 162.47 L94.80 164.60 L95.79 166.53 L96.77 168.37 L97.76 170.12 L98.74 171.80 L99.72 173.39 L100.70 174.90 L101.68 176.32 L102.67 177.63 L103.65 178.87 L104.63 180.04 L105.62 181.18 L106.60 182.30 L107.61 183.40 L108.65 184.46 L109.69 185.49 L110.70 186.47 L111.64 187.41 L112.50 188.30 L113.29 189.18 L114.03 190.05 L114.72 190.88 L115.32 191.62 L115.82 192.24 L116.20 192.70 L116.20 192.70 Z" fill="none" stroke="#ffffff" stroke-opacity="0.95" stroke-width="1.80" clip-path="url(#cg14)"/><path d="M14.80 192.70 L14.80 192.70 L15.29 192.02 L15.99 191.17 L16.81 190.11 L17.67 188.81 L18.50 187.22 L19.20 185.30 L19.79 183.04 L20.33 180.46 L20.84 177.60 L21.31 174.47 L21.76 171.10 L22.20 167.50 L22.62 163.35 L23.02 158.57 L23.39 153.55 L23.75 148.67 L24.08 144.32 L24.40 140.90 L24.68 138.35 L24.93 136.36 L25.15 134.89 L25.37 133.94 L25.62 133.49 L25.90 133.50 L26.22 134.04 L26.55 135.13 L26.91 136.71 L27.28 138.72 L27.68 141.10 L28.10 143.80 L28.55 147.08 L29.01 151.04 L29.51 155.37 L30.02 159.76 L30.55 163.91 L31.10 167.50 L31.66 170.69 L32.23 173.75 L32.81 176.56 L33.43 179.01 L34.09 180.96 L34.80 182.30 L35.59 182.86 L36.45 182.70 L37.36 182.06 L38.27 181.14 L39.16 180.18 L40.00 179.40 L40.76 178.70 L41.47 177.88 L42.16 177.01 L42.85 176.18 L43.59 175.45 L44.40 174.90 L45.30 174.52 L46.25 174.25 L47.25 174.08 L48.27 174.02 L49.29 174.06 L50.30 174.20 L51.30 174.50 L52.30 174.96 L53.30 175.52 L54.30 176.12 L55.30 176.70 L56.30 177.20 L57.31 177.71 L58.33 178.29 L59.35 178.86 L60.35 179.30 L61.30 179.51 L62.20 179.40 L63.00 178.97 L63.72 178.31 L64.40 177.42 L65.08 176.32 L65.80 175.01 L66.60 173.50 L67.50 171.68 L68.45 169.53 L69.45 167.17 L70.47 164.73 L71.49 162.33 L72.50 160.10 L73.51 157.95 L74.55 155.75 L75.59 153.59 L76.61 151.57 L77.59 149.78 L78.50 148.30 L79.31 147.10 L80.03 146.09 L80.71 145.30 L81.38 144.77 L82.10 144.53 L82.90 144.60 L83.80 145.03 L84.75 145.79 L85.75 146.83 L86.77 148.11 L87.79 149.59 L88.80 151.20 L89.80 153.08 L90.80 155.28 L91.80 157.67 L92.80 160.11 L93.80 162.47 L94.80 164.60 L95.79 166.53 L96.77 168.37 L97.76 170.12 L98.74 171.80 L99.72 173.39 L100.70 174.90 L101.68 176.32 L102.67 177.63 L103.65 178.87 L104.63 180.04 L105.62 181.18 L106.60 182.30 L107.61 183.40 L108.65 184.46 L109.69 185.49 L110.70 186.47 L111.64 187.41 L112.50 188.30 L113.29 189.18 L114.03 190.05 L114.72 190.88 L115.32 191.62 L115.82 192.24 L116.20 192.70 L116.20 192.70 Z" fill="url(#g14)"/><path d="M14.80 192.70 L14.80 192.70 L15.29 192.02 L15.99 191.17 L16.81 190.11 L17.67 188.81 L18.50 187.22 L19.20 185.30 L19.79 183.04 L20.33 180.46 L20.84 177.60 L21.31 174.47 L21.76 171.10 L22.20 167.50 L22.62 163.35 L23.02 158.57 L23.39 153.55 L23.75 148.67 L24.08 144.32 L24.40 140.90 L24.68 138.35 L24.93 136.36 L25.15 134.89 L25.37 133.94 L25.62 133.49 L25.90 133.50 L26.22 134.04 L26.55 135.13 L26.91 136.71 L27.28 138.72 L27.68 141.10 L28.10 143.80 L28.55 147.08 L29.01 151.04 L29.51 155.37 L30.02 159.76 L30.55 163.91 L31.10 167.50 L31.66 170.69 L32.23 173.75 L32.81 176.56 L33.43 179.01 L34.09 180.96 L34.80 182.30 L35.59 182.86 L36.45 182.70 L37.36 182.06 L38.27 181.14 L39.16 180.18 L40.00 179.40 L40.76 178.70 L41.47 177.88 L42.16 177.01 L42.85 176.18 L43.59 175.45 L44.40 174.90 L45.30 174.52 L46.25 174.25 L47.25 174.08 L48.27 174.02 L49.29 174.06 L50.30 174.20 L51.30 174.50 L52.30 174.96 L53.30 175.52 L54.30 176.12 L55.30 176.70 L56.30 177.20 L57.31 177.71 L58.33 178.29 L59.35 178.86 L60.35 179.30 L61.30 179.51 L62.20 179.40 L63.00 178.97 L63.72 178.31 L64.40 177.42 L65.08 176.32 L65.80 175.01 L66.60 173.50 L67.50 171.68 L68.45 169.53 L69.45 167.17 L70.47 164.73 L71.49 162.33 L72.50 160.10 L73.51 157.95 L74.55 155.75 L75.59 153.59 L76.61 151.57 L77.59 149.78 L78.50 148.30 L79.31 147.10 L80.03 146.09 L80.71 145.30 L81.38 144.77 L82.10 144.53 L82.90 144.60 L83.80 145.03 L84.75 145.79 L85.75 146.83 L86.77 148.11 L87.79 149.59 L88.80 151.20 L89.80 153.08 L90.80 155.28 L91.80 157.67 L92.80 160.11 L93.80 162.47 L94.80 164.60 L95.79 166.53 L96.77 168.37 L97.76 170.12 L98.74 171.80 L99.72 173.39 L100.70 174.90 L101.68 176.32 L102.67 177.63 L103.65 178.87 L104.63 180.04 L105.62 181.18 L106.60 182.30 L107.61 183.40 L108.65 184.46 L109.69 185.49 L110.70 186.47 L111.64 187.41 L112.50 188.30 L113.29 189.18 L114.03 190.05 L114.72 190.88 L115.32 191.62 L115.82 192.24 L116.20 192.70 L116.20 192.70 Z" fill="url(#stg14)"/></svg>
<div class="lb" style="left:0;top:0;width:127px;height:223px"><svg width="127" height="223" viewBox="0 0 127 223"><path d="M17.0 213.5 L21.0 209.8 L25.0 213.5 L24.2 218.0 L17.8 218.0 Z" fill="none" stroke="#a4a4a4" stroke-width="1"/><rect x="15.0" y="219.0" width="12" height="1.8" fill="#8e8e8e"/><rect x="59.2" y="210.0" width="8.5" height="8" fill="#d2e6f8"/><rect x="59.2" y="210.5" width="8.5" height="1" fill="#8cbce6"/><rect x="59.2" y="213.5" width="8.5" height="1" fill="#8cbce6"/><rect x="59.2" y="216.5" width="8.5" height="1" fill="#8cbce6"/><rect x="57.0" y="219.0" width="13" height="1.8" fill="#5a7496"/><circle cx="106.0" cy="212.0" r="2" fill="none" stroke="#b0b0b0" stroke-width="1"/><path d="M103.0 218.0 L103.5 215.0 L108.5 215.0 L109.0 218.0 Z" fill="none" stroke="#b0b0b0" stroke-width="1"/><rect x="102.5" y="219.0" width="7" height="1.8" fill="#9a9a9a"/></svg></div>
</div>
<div class="p" style="left:671px;top:242.5px;width:126px;height:223.5px;">
<div class="lb"><div style="left:9.80px;top:6.30px;width:3.50px;height:3.20px;background:#7e7e7e;"></div><div style="left:13.90px;top:6.30px;width:3.50px;height:3.20px;background:#7e7e7e;"></div><div style="left:18.00px;top:6.30px;width:3.50px;height:3.20px;background:#7e7e7e;"></div><div style="left:22.10px;top:6.30px;width:3.00px;height:3.20px;background:#7e7e7e;"></div><div style="left:25.70px;top:6.30px;width:3.50px;height:3.20px;background:#7e7e7e;"></div></div>
<div style="left:44.50px;top:8.20px;width:69.00px;height:0.80px;background:#f3f0e8;"></div>
<div class="lb"><div style="left:117.00px;top:6.50px;width:2.00px;height:4.00px;background:#b4b4b4;"></div></div>
<div style="left:0.00px;top:13.40px;width:126.00px;height:1.60px;background:#e6f0fa;"></div>
<div style="left:0.00px;top:15.00px;width:126.00px;height:1.60px;background:#c4d4e6;"></div>
<div class="lb"><div style="left:10.05px;top:20.70px;width:3.00px;height:3.20px;background:#7e7e7e;"></div><div style="left:13.65px;top:20.70px;width:3.50px;height:3.20px;background:#7e7e7e;"></div><div style="left:17.75px;top:20.70px;width:3.50px;height:3.20px;background:#7e7e7e;"></div><div style="left:21.85px;top:20.70px;width:3.00px;height:3.20px;background:#7e7e7e;"></div><div style="left:25.45px;top:20.70px;width:3.50px;height:3.20px;background:#7e7e7e;"></div></div>
<div style="left:44.50px;top:22.60px;width:69.00px;height:0.80px;background:#f3f0e8;"></div>
<div class="lb"><div style="left:117.00px;top:20.90px;width:2.00px;height:4.00px;background:#b4b4b4;"></div></div>
<div style="left:0.00px;top:27.80px;width:126.00px;height:1.60px;background:#e6f0fa;"></div>
<div style="left:0.00px;top:29.40px;width:126.00px;height:1.60px;background:#c4d4e6;"></div>
<div class="lb"><div style="left:9.80px;top:35.10px;width:3.50px;height:3.20px;background:#7e7e7e;"></div><div style="left:13.90px;top:35.10px;width:3.50px;height:3.20px;background:#7e7e7e;"></div><div style="left:18.00px;top:35.10px;width:3.50px;height:3.20px;background:#7e7e7e;"></div><div style="left:22.10px;top:35.10px;width:3.00px;height:3.20px;background:#7e7e7e;"></div><div style="left:25.70px;top:35.10px;width:3.50px;height:3.20px;background:#7e7e7e;"></div></div>
<div style="left:44.50px;top:37.00px;width:69.00px;height:0.80px;background:#f3f0e8;"></div>
<div class="lb"><div style="left:117.00px;top:35.30px;width:2.00px;height:4.00px;background:#b4b4b4;"></div></div>
<div style="left:0.00px;top:42.20px;width:126.00px;height:1.60px;background:#e6f0fa;"></div>
<div style="left:0.00px;top:43.80px;width:126.00px;height:1.60px;background:#c4d4e6;"></div>
<div class="lb"><div style="left:11.85px;top:49.50px;width:3.50px;height:3.20px;background:#7e7e7e;"></div><div style="left:15.95px;top:49.50px;width:3.50px;height:3.20px;background:#7e7e7e;"></div><div style="left:20.05px;top:49.50px;width:3.00px;height:3.20px;background:#7e7e7e;"></div><div style="left:23.65px;top:49.50px;width:3.50px;height:3.20px;background:#7e7e7e;"></div></div>
<div style="left:44.50px;top:51.40px;width:69.00px;height:0.80px;background:#f3f0e8;"></div>
<div class="lb"><div style="left:117.00px;top:49.70px;width:2.00px;height:4.00px;background:#b4b4b4;"></div></div>
<div style="left:0.00px;top:56.60px;width:126.00px;height:1.60px;background:#e6f0fa;"></div>
<div style="left:0.00px;top:58.20px;width:126.00px;height:1.60px;background:#c4d4e6;"></div>
<div class="lb"><div style="left:11.85px;top:63.90px;width:3.50px;height:3.20px;background:#7e7e7e;"></div><div style="left:15.95px;top:63.90px;width:3.50px;height:3.20px;background:#7e7e7e;"></div><div style="left:20.05px;top:63.90px;width:3.50px;height:3.20px;background:#7e7e7e;"></div><div style="left:24.15px;top:63.90px;width:3.00px;height:3.20px;background:#7e7e7e;"></div></div>
<div style="left:44.50px;top:65.80px;width:69.00px;height:0.80px;background:#f3f0e8;"></div>
<div class="lb"><div style="left:117.00px;top:64.10px;width:2.00px;height:4.00px;background:#b4b4b4;"></div></div>
<div style="left:0.00px;top:71.00px;width:126.00px;height:1.60px;background:#e6f0fa;"></div>
<div style="left:0.00px;top:72.60px;width:126.00px;height:1.60px;background:#c4d4e6;"></div>
<div class="lb"><div style="left:10.30px;top:78.30px;width:3.50px;height:3.20px;background:#7e7e7e;"></div><div style="left:14.40px;top:78.30px;width:3.50px;height:3.20px;background:#7e7e7e;"></div><div style="left:18.50px;top:78.30px;width:3.50px;height:3.20px;background:#7e7e7e;"></div><div style="left:22.60px;top:78.30px;width:3.50px;height:3.20px;background:#7e7e7e;"></div><div style="left:26.70px;top:78.30px;width:2.00px;height:3.20px;background:#7e7e7e;"></div></div>
<div style="left:44.50px;top:80.20px;width:69.00px;height:0.80px;background:#f3f0e8;"></div>
<div class="lb"><div style="left:117.00px;top:78.50px;width:2.00px;height:4.00px;background:#b4b4b4;"></div></div>
<div style="left:0.00px;top:85.40px;width:126.00px;height:1.60px;background:#e6f0fa;"></div>
<div style="left:0.00px;top:87.00px;width:126.00px;height:1.60px;background:#c4d4e6;"></div>
<div class="lb"><div style="left:10.30px;top:92.70px;width:3.50px;height:3.20px;background:#7e7e7e;"></div><div style="left:14.40px;top:92.70px;width:3.50px;height:3.20px;background:#7e7e7e;"></div><div style="left:18.50px;top:92.70px;width:3.50px;height:3.20px;background:#7e7e7e;"></div><div style="left:22.60px;top:92.70px;width:3.50px;height:3.20px;background:#7e7e7e;"></div><div style="left:26.70px;top:92.70px;width:2.00px;height:3.20px;background:#7e7e7e;"></div></div>
<div style="left:44.50px;top:94.60px;width:69.00px;height:0.80px;background:#f3f0e8;"></div>
<div class="lb"><div style="left:115.00px;top:92.90px;width:4.00px;height:4.00px;background:#b4b4b4;"></div></div>
<div style="left:0.00px;top:99.80px;width:126.00px;height:1.60px;background:#e6f0fa;"></div>
<div style="left:0.00px;top:101.40px;width:126.00px;height:1.60px;background:#c4d4e6;"></div>
<div class="lb"><div style="left:10.30px;top:107.10px;width:3.50px;height:3.20px;background:#7e7e7e;"></div><div style="left:14.40px;top:107.10px;width:3.50px;height:3.20px;background:#7e7e7e;"></div><div style="left:18.50px;top:107.10px;width:3.50px;height:3.20px;background:#7e7e7e;"></div><div style="left:22.60px;top:107.10px;width:3.50px;height:3.20px;background:#7e7e7e;"></div><div style="left:26.70px;top:107.10px;width:2.00px;height:3.20px;background:#7e7e7e;"></div></div>
<div style="left:44.50px;top:109.00px;width:69.00px;height:0.80px;background:#f3f0e8;"></div>
<div class="lb"><div style="left:113.00px;top:107.30px;width:6.00px;height:4.00px;background:#b4b4b4;"></div></div>
<div class="lb"><div style="left:44.9px;top:77.4px;width:4.2px;height:4.2px;border-radius:50%;background:#d6d4f2;border:1px solid #9696cc;"></div></div>
<div class="lb"><div style="left:44.50px;top:94.30px;width:14.30px;height:1.30px;background:#8aac86;"></div></div>
<div class="lb"><div style="left:55.7px;top:91.8px;width:4.2px;height:4.2px;border-radius:50%;background:#d2d2ea;border:1px solid #9696cc;"></div></div>
<div class="lb"><div style="left:44.50px;top:108.70px;width:10.20px;height:1.30px;background:#8aac86;"></div></div>
<div class="lb"><div style="left:51.6px;top:106.2px;width:4.2px;height:4.2px;border-radius:50%;background:#d0d0e6;border:1px solid #9696cc;"></div></div>
<div style="left:33.50px;top:0.00px;width:3.75px;height:116.00px;background:#eef8fc;"></div>
<div style="left:38.75px;top:0.00px;width:3.00px;height:116.00px;background:#f4f4fc;"></div>
<div style="left:37.25px;top:0.00px;width:1.50px;height:116.00px;background:#a8c2dc;"></div>
<div style="left:0.00px;top:116.00px;width:126.00px;height:90.50px;background:#e0e0e0;"></div>
<div class="lb"><div style="left:5.50px;top:118.60px;width:8.00px;height:2.40px;background:#888888;"></div><div style="left:15.10px;top:118.60px;width:6.00px;height:2.40px;background:#888888;"></div><div style="left:22.70px;top:118.60px;width:13.00px;height:2.40px;background:#888888;"></div><div style="left:5.50px;top:123.00px;width:9.00px;height:2.40px;background:#888888;"></div><div style="left:16.10px;top:123.00px;width:8.00px;height:2.40px;background:#888888;"></div><div style="left:25.70px;top:123.00px;width:6.00px;height:2.40px;background:#888888;"></div><div style="left:33.30px;top:123.00px;width:13.00px;height:2.40px;background:#888888;"></div><div style="left:47.90px;top:123.00px;width:6.00px;height:2.40px;background:#888888;"></div><div style="left:55.50px;top:123.00px;width:9.00px;height:2.40px;background:#888888;"></div><div style="left:66.10px;top:123.00px;width:13.00px;height:2.40px;background:#888888;"></div><div style="left:80.70px;top:123.00px;width:9.00px;height:2.40px;background:#888888;"></div><div style="left:91.30px;top:123.00px;width:7.70px;height:2.40px;background:#888888;"></div></div>
<div class="lb"><div style="left:21.00px;top:194.70px;width:7.00px;height:1.80px;background:#b0b0b0;"></div><div style="left:78.00px;top:194.70px;width:7.00px;height:1.80px;background:#b8b8b8;"></div><div style="left:100.00px;top:194.70px;width:5.00px;height:1.80px;background:#c0c0c0;"></div></div>
<div style="left:4.50px;top:192.70px;width:1.50px;height:0.60px;background:#b0b0b0;"></div>
<div style="left:4.50px;top:182.20px;width:1.50px;height:0.60px;background:#b0b0b0;"></div>
<div style="left:4.50px;top:171.70px;width:1.50px;height:0.60px;background:#b0b0b0;"></div>
<div style="left:4.50px;top:161.20px;width:1.50px;height:0.60px;background:#b0b0b0;"></div>
<div style="left:4.50px;top:150.70px;width:1.50px;height:0.60px;background:#b0b0b0;"></div>
<div style="left:4.50px;top:140.20px;width:1.50px;height:0.60px;background:#b0b0b0;"></div>
<div style="left:5.40px;top:129.50px;width:0.90px;height:63.20px;background:#a8a8a8;"></div>
<div style="left:6.00px;top:192.50px;width:110.00px;height:0.90px;background:#8a8a8a;"></div>
<svg width="126" height="223" viewBox="0 0 126 223"><defs><linearGradient id="g15" gradientUnits="userSpaceOnUse" x1="6" y1="0" x2="116" y2="0"><stop offset="0.0000" stop-color="#1e2a80"/><stop offset="0.0636" stop-color="#2234a8"/><stop offset="0.1091" stop-color="#2244c0"/><stop offset="0.1500" stop-color="#1c56cc"/><stop offset="0.1782" stop-color="#1a66cc"/><stop offset="0.2068" stop-color="#1a7ebc"/><stop offset="0.2409" stop-color="#0f9a98"/><stop offset="0.2727" stop-color="#1aa874"/><stop offset="0.3182" stop-color="#38c040"/><stop offset="0.3636" stop-color="#80d840"/><stop offset="0.3909" stop-color="#b0e040"/><stop offset="0.4227" stop-color="#e8d030"/><stop offset="0.4682" stop-color="#f0a820"/><stop offset="0.5364" stop-color="#f08020"/><stop offset="0.6045" stop-color="#e85020"/><stop offset="0.6636" stop-color="#d42818"/><stop offset="0.7182" stop-color="#b81a14"/><stop offset="0.7818" stop-color="#a01414"/><stop offset="0.8545" stop-color="#861010"/><stop offset="0.9273" stop-color="#6e0e0e"/><stop offset="1.0000" stop-color="#560a0a"/></linearGradient><clipPath id="cg15"><rect x="0" y="0" width="126" height="191.70"/></clipPath><pattern id="stg15" width="2.6" height="20" patternUnits="userSpaceOnUse"><rect x="0" y="0" width="0.9" height="20" fill="#000" fill-opacity="0.10"/></pattern></defs><path d="M13.30 192.70 L13.30 192.70 L13.81 192.38 L14.53 192.06 L15.37 191.61 L16.25 190.92 L17.09 189.86 L17.80 188.30 L18.37 186.25 L18.88 183.80 L19.34 180.97 L19.79 177.80 L20.23 174.30 L20.70 170.50 L21.21 165.99 L21.74 160.69 L22.27 155.05 L22.79 149.56 L23.27 144.69 L23.70 140.90 L24.07 138.18 L24.39 136.13 L24.67 134.71 L24.94 133.83 L25.21 133.45 L25.50 133.50 L25.80 134.14 L26.09 135.46 L26.38 137.26 L26.68 139.38 L27.02 141.62 L27.40 143.80 L27.84 146.08 L28.32 148.64 L28.84 151.33 L29.37 153.99 L29.89 156.46 L30.40 158.60 L30.86 160.54 L31.29 162.43 L31.71 164.13 L32.17 165.52 L32.68 166.45 L33.30 166.80 L34.03 166.39 L34.84 165.30 L35.71 163.75 L36.63 161.98 L37.57 160.22 L38.50 158.70 L39.43 157.32 L40.36 155.87 L41.31 154.43 L42.30 153.07 L43.32 151.87 L44.40 150.90 L45.51 150.19 L46.64 149.69 L47.82 149.34 L49.06 149.09 L50.38 148.90 L51.80 148.70 L53.41 148.57 L55.21 148.56 L57.09 148.59 L58.96 148.61 L60.69 148.54 L62.20 148.30 L63.44 147.85 L64.50 147.23 L65.43 146.52 L66.30 145.79 L67.17 145.13 L68.10 144.60 L69.08 144.15 L70.06 143.69 L71.04 143.29 L72.03 143.02 L73.01 142.94 L74.00 143.10 L75.00 143.49 L76.00 144.04 L77.00 144.77 L78.00 145.72 L79.00 146.89 L80.00 148.30 L80.99 150.06 L81.97 152.19 L82.96 154.53 L83.94 156.97 L84.92 159.37 L85.90 161.60 L86.87 163.68 L87.81 165.73 L88.76 167.74 L89.72 169.70 L90.73 171.63 L91.80 173.50 L92.95 175.36 L94.16 177.21 L95.41 179.02 L96.68 180.75 L97.95 182.36 L99.20 183.80 L100.43 185.07 L101.67 186.20 L102.90 187.21 L104.13 188.11 L105.37 188.94 L106.60 189.70 L107.92 190.40 L109.34 191.03 L110.76 191.57 L112.08 192.03 L113.19 192.41 L114.00 192.70 L114.00 192.70 Z" fill="none" stroke="#ffffff" stroke-opacity="0.95" stroke-width="1.80" clip-path="url(#cg15)"/><path d="M13.30 192.70 L13.30 192.70 L13.81 192.38 L14.53 192.06 L15.37 191.61 L16.25 190.92 L17.09 189.86 L17.80 188.30 L18.37 186.25 L18.88 183.80 L19.34 180.97 L19.79 177.80 L20.23 174.30 L20.70 170.50 L21.21 165.99 L21.74 160.69 L22.27 155.05 L22.79 149.56 L23.27 144.69 L23.70 140.90 L24.07 138.18 L24.39 136.13 L24.67 134.71 L24.94 133.83 L25.21 133.45 L25.50 133.50 L25.80 134.14 L26.09 135.46 L26.38 137.26 L26.68 139.38 L27.02 141.62 L27.40 143.80 L27.84 146.08 L28.32 148.64 L28.84 151.33 L29.37 153.99 L29.89 156.46 L30.40 158.60 L30.86 160.54 L31.29 162.43 L31.71 164.13 L32.17 165.52 L32.68 166.45 L33.30 166.80 L34.03 166.39 L34.84 165.30 L35.71 163.75 L36.63 161.98 L37.57 160.22 L38.50 158.70 L39.43 157.32 L40.36 155.87 L41.31 154.43 L42.30 153.07 L43.32 151.87 L44.40 150.90 L45.51 150.19 L46.64 149.69 L47.82 149.34 L49.06 149.09 L50.38 148.90 L51.80 148.70 L53.41 148.57 L55.21 148.56 L57.09 148.59 L58.96 148.61 L60.69 148.54 L62.20 148.30 L63.44 147.85 L64.50 147.23 L65.43 146.52 L66.30 145.79 L67.17 145.13 L68.10 144.60 L69.08 144.15 L70.06 143.69 L71.04 143.29 L72.03 143.02 L73.01 142.94 L74.00 143.10 L75.00 143.49 L76.00 144.04 L77.00 144.77 L78.00 145.72 L79.00 146.89 L80.00 148.30 L80.99 150.06 L81.97 152.19 L82.96 154.53 L83.94 156.97 L84.92 159.37 L85.90 161.60 L86.87 163.68 L87.81 165.73 L88.76 167.74 L89.72 169.70 L90.73 171.63 L91.80 173.50 L92.95 175.36 L94.16 177.21 L95.41 179.02 L96.68 180.75 L97.95 182.36 L99.20 183.80 L100.43 185.07 L101.67 186.20 L102.90 187.21 L104.13 188.11 L105.37 188.94 L106.60 189.70 L107.92 190.40 L109.34 191.03 L110.76 191.57 L112.08 192.03 L113.19 192.41 L114.00 192.70 L114.00 192.70 Z" fill="url(#g15)"/><path d="M13.30 192.70 L13.30 192.70 L13.81 192.38 L14.53 192.06 L15.37 191.61 L16.25 190.92 L17.09 189.86 L17.80 188.30 L18.37 186.25 L18.88 183.80 L19.34 180.97 L19.79 177.80 L20.23 174.30 L20.70 170.50 L21.21 165.99 L21.74 160.69 L22.27 155.05 L22.79 149.56 L23.27 144.69 L23.70 140.90 L24.07 138.18 L24.39 136.13 L24.67 134.71 L24.94 133.83 L25.21 133.45 L25.50 133.50 L25.80 134.14 L26.09 135.46 L26.38 137.26 L26.68 139.38 L27.02 141.62 L27.40 143.80 L27.84 146.08 L28.32 148.64 L28.84 151.33 L29.37 153.99 L29.89 156.46 L30.40 158.60 L30.86 160.54 L31.29 162.43 L31.71 164.13 L32.17 165.52 L32.68 166.45 L33.30 166.80 L34.03 166.39 L34.84 165.30 L35.71 163.75 L36.63 161.98 L37.57 160.22 L38.50 158.70 L39.43 157.32 L40.36 155.87 L41.31 154.43 L42.30 153.07 L43.32 151.87 L44.40 150.90 L45.51 150.19 L46.64 149.69 L47.82 149.34 L49.06 149.09 L50.38 148.90 L51.80 148.70 L53.41 148.57 L55.21 148.56 L57.09 148.59 L58.96 148.61 L60.69 148.54 L62.20 148.30 L63.44 147.85 L64.50 147.23 L65.43 146.52 L66.30 145.79 L67.17 145.13 L68.10 144.60 L69.08 144.15 L70.06 143.69 L71.04 143.29 L72.03 143.02 L73.01 142.94 L74.00 143.10 L75.00 143.49 L76.00 144.04 L77.00 144.77 L78.00 145.72 L79.00 146.89 L80.00 148.30 L80.99 150.06 L81.97 152.19 L82.96 154.53 L83.94 156.97 L84.92 159.37 L85.90 161.60 L86.87 163.68 L87.81 165.73 L88.76 167.74 L89.72 169.70 L90.73 171.63 L91.80 173.50 L92.95 175.36 L94.16 177.21 L95.41 179.02 L96.68 180.75 L97.95 182.36 L99.20 183.80 L100.43 185.07 L101.67 186.20 L102.90 187.21 L104.13 188.11 L105.37 188.94 L106.60 189.70 L107.92 190.40 L109.34 191.03 L110.76 191.57 L112.08 192.03 L113.19 192.41 L114.00 192.70 L114.00 192.70 Z" fill="url(#stg15)"/></svg>
<div class="lb" style="left:0;top:0;width:126px;height:223px"><svg width="126" height="223" viewBox="0 0 126 223"><path d="M17.0 213.5 L21.0 209.8 L25.0 213.5 L24.2 218.0 L17.8 218.0 Z" fill="none" stroke="#a4a4a4" stroke-width="1"/><rect x="15.0" y="219.0" width="12" height="1.8" fill="#8e8e8e"/><rect x="58.8" y="210.0" width="8.5" height="8" fill="#d2e6f8"/><rect x="58.8" y="210.5" width="8.5" height="1" fill="#8cbce6"/><rect x="58.8" y="213.5" width="8.5" height="1" fill="#8cbce6"/><rect x="58.8" y="216.5" width="8.5" height="1" fill="#8cbce6"/><rect x="56.5" y="219.0" width="13" height="1.8" fill="#5a7496"/><circle cx="105.0" cy="212.0" r="2" fill="none" stroke="#b0b0b0" stroke-width="1"/><path d="M102.0 218.0 L102.5 215.0 L107.5 215.0 L108.0 218.0 Z" fill="none" stroke="#b0b0b0" stroke-width="1"/><rect x="101.5" y="219.0" width="7" height="1.8" fill="#9a9a9a"/></svg></div>
</div>
</div></body></html>
